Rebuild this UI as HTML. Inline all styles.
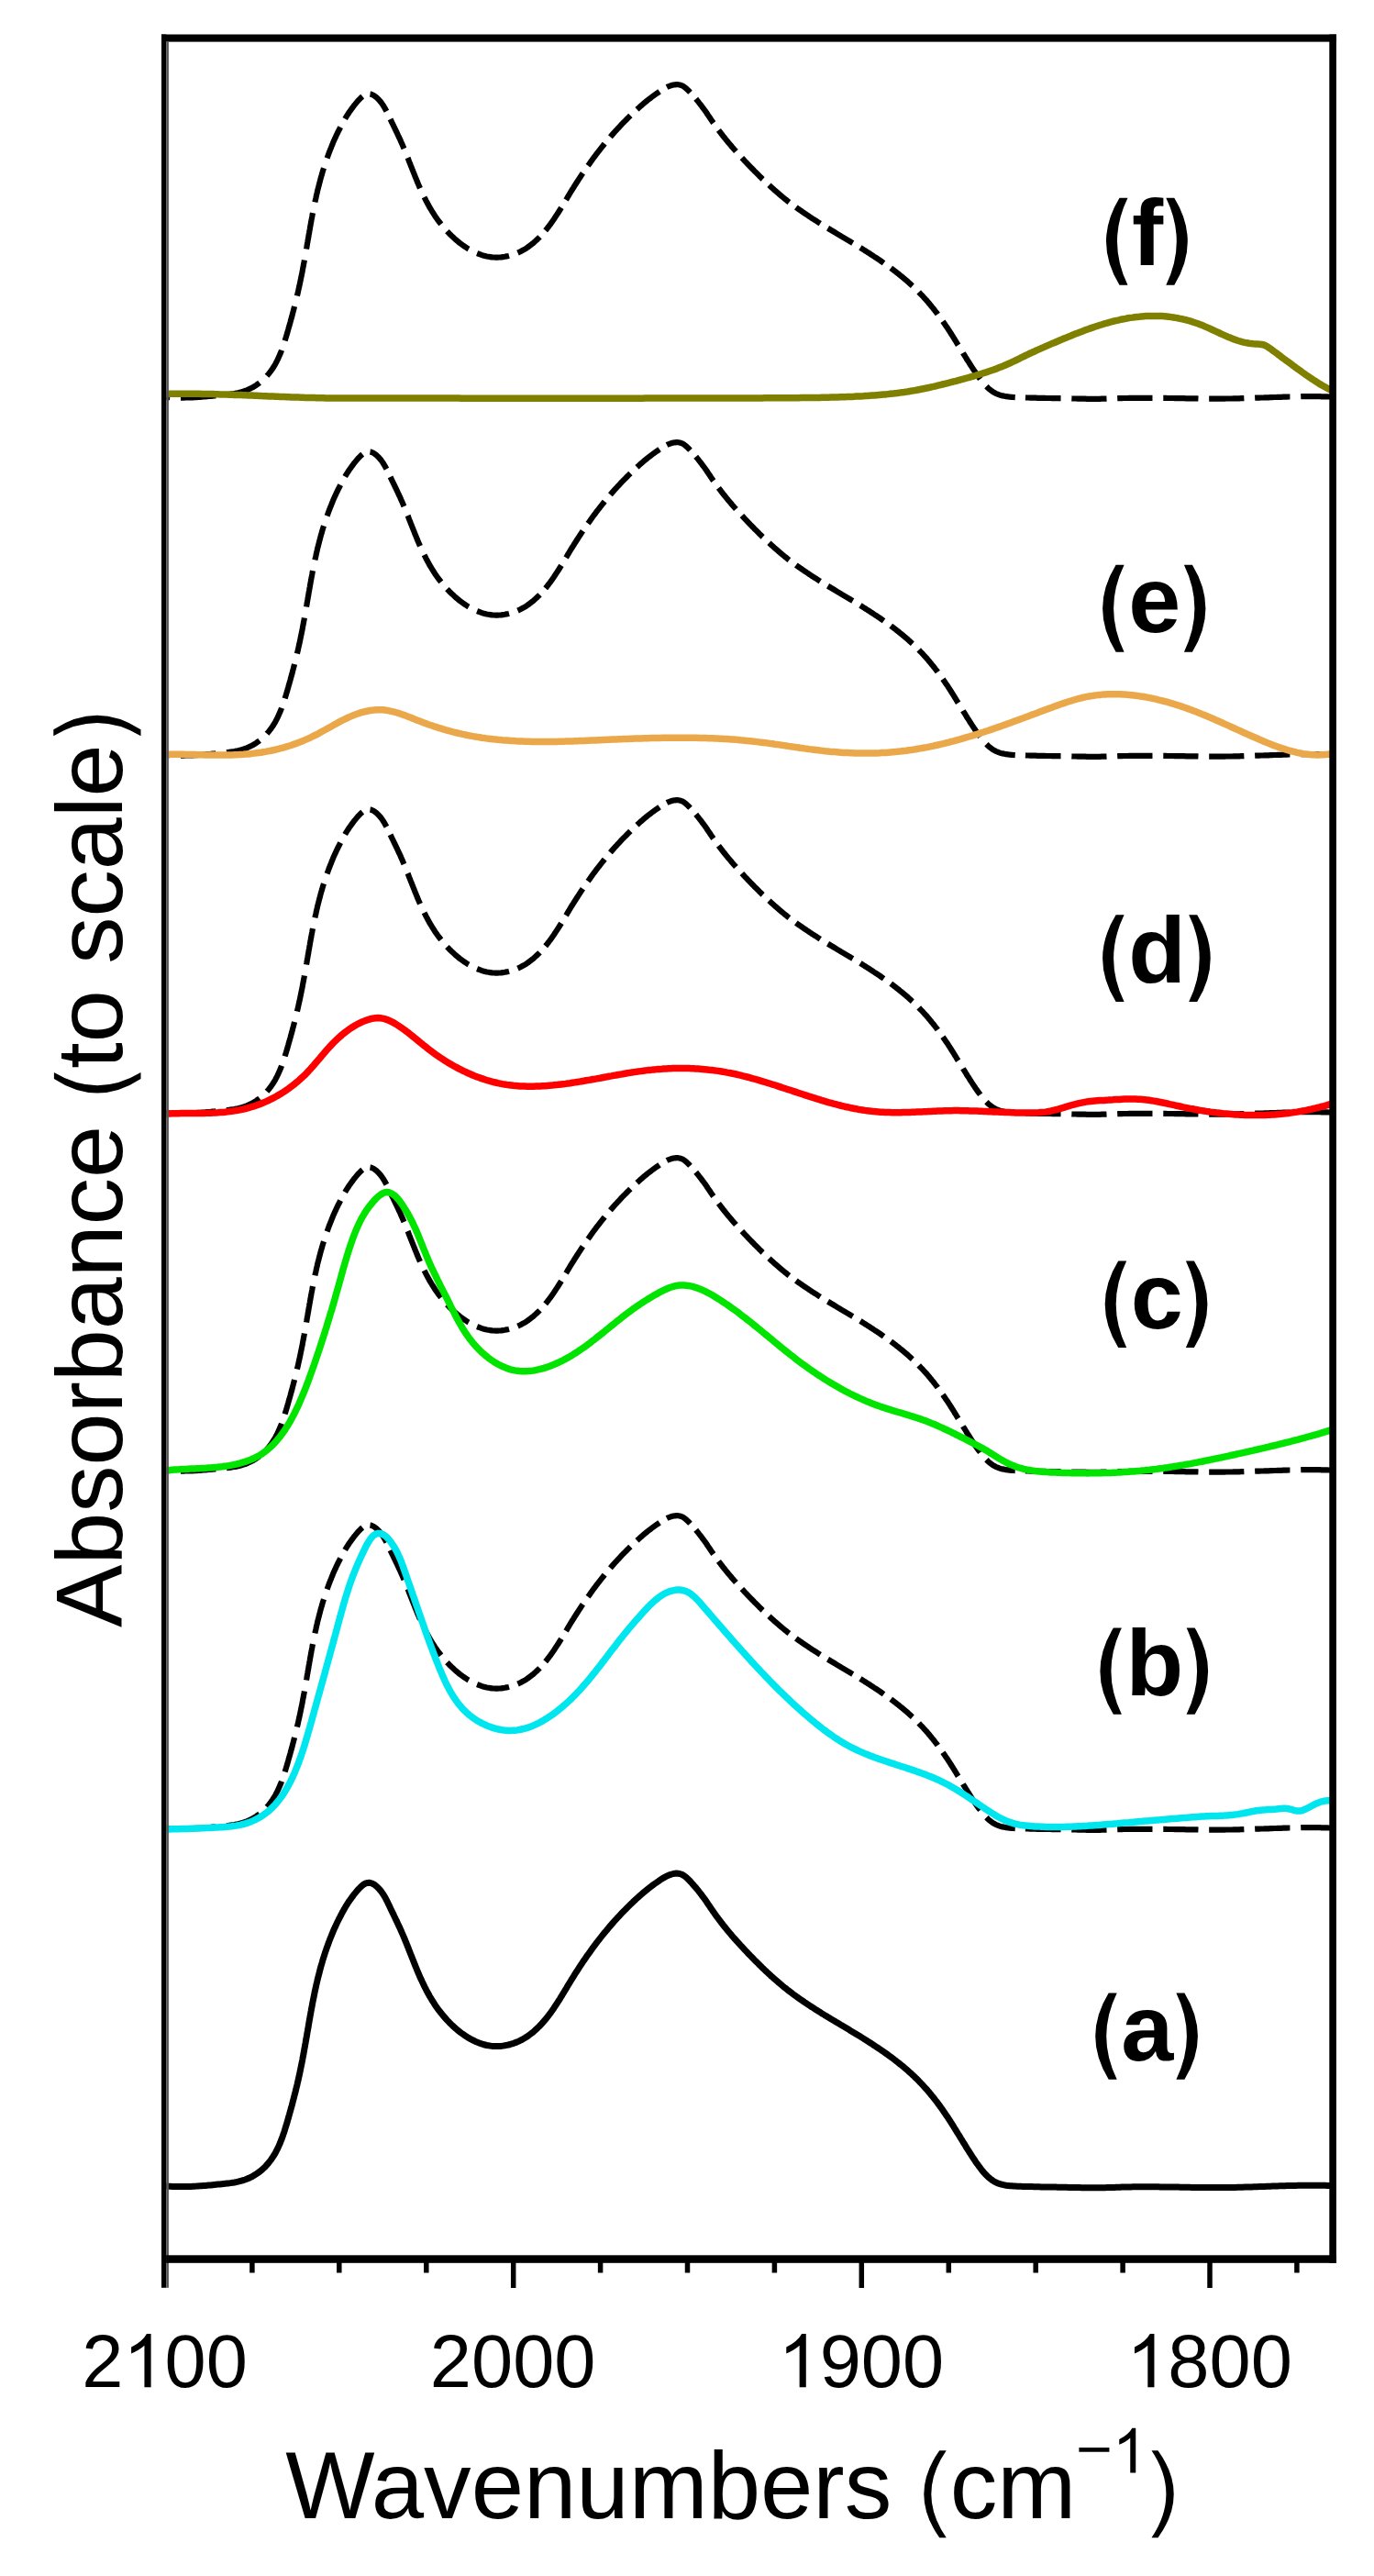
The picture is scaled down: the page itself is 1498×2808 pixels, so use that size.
<!DOCTYPE html>
<html><head><meta charset="utf-8"><style>
html,body{margin:0;padding:0;background:#fff;}
body{width:1498px;height:2808px;overflow:hidden;}
svg{display:block;}
text{font-family:"Liberation Sans",sans-serif;fill:#000;}
.tl{font-size:83px;}
.pl{font-size:102.6px;font-weight:bold;}
.ax{font-size:104px;}
</style></head><body>
<svg width="1498" height="2808" viewBox="0 0 1498 2808">
<rect width="1498" height="2808" fill="#fff"/>
<path d="M180.0,2382.9L181.9,2383.1 184.0,2383.2 186.0,2383.3 188.0,2383.4 190.1,2383.5 192.1,2383.5 194.1,2383.6 196.1,2383.6 198.2,2383.6 200.2,2383.6 202.1,2383.5 204.1,2383.5 206.1,2383.4 208.1,2383.4 210.1,2383.3 212.0,2383.2 214.0,2383.1 216.0,2382.9 218.0,2382.8 219.9,2382.7 221.9,2382.5 223.9,2382.4 225.8,2382.2 227.8,2382.0 229.8,2381.9 231.7,2381.7 233.7,2381.5 235.7,2381.3 237.7,2381.1 239.7,2380.9 241.7,2380.7 243.7,2380.5 245.7,2380.3 247.7,2380.1 249.6,2379.9 251.6,2379.6 253.6,2379.3 255.6,2379.0 257.6,2378.6 259.5,2378.2 261.4,2377.7 263.3,2377.2 265.2,2376.6 267.1,2376.0 269.0,2375.3 270.8,2374.5 272.6,2373.7 274.4,2372.8 276.1,2371.9 277.8,2370.8 279.5,2369.8 281.1,2368.6 282.7,2367.5 284.3,2366.2 285.8,2365.0 287.2,2363.6 288.7,2362.3 290.0,2360.9 291.3,2359.4 292.6,2358.0 293.8,2356.4 295.0,2354.9 296.1,2353.3 297.2,2351.7 298.3,2350.0 299.3,2348.4 300.3,2346.7 301.2,2344.9 302.1,2343.2 303.0,2341.4 303.8,2339.6 304.6,2337.8 305.4,2336.0 306.1,2334.1 306.9,2332.2 307.6,2330.3 308.3,2328.4 308.9,2326.5 309.6,2324.6 310.2,2322.7 310.8,2320.8 311.4,2318.8 312.0,2316.9 312.6,2314.9 313.2,2313.0 313.7,2311.0 314.3,2309.1 314.8,2307.1 315.4,2305.2 315.9,2303.3 316.5,2301.3 317.0,2299.4 317.5,2297.5 318.1,2295.5 318.6,2293.6 319.1,2291.6 319.6,2289.7 320.1,2287.8 320.6,2285.9 321.1,2283.9 321.6,2282.0 322.1,2280.1 322.6,2278.1 323.0,2276.2 323.5,2274.3 324.0,2272.3 324.4,2270.4 324.9,2268.5 325.3,2266.5 325.7,2264.6 326.2,2262.6 326.6,2260.7 327.0,2258.8 327.4,2256.8 327.8,2254.9 328.2,2252.9 328.6,2251.0 329.0,2249.0 329.4,2247.1 329.8,2245.1 330.1,2243.1 330.5,2241.2 330.9,2239.2 331.2,2237.3 331.6,2235.3 331.9,2233.3 332.3,2231.4 332.6,2229.4 333.0,2227.4 333.3,2225.5 333.7,2223.5 334.0,2221.5 334.4,2219.5 334.7,2217.6 335.0,2215.6 335.4,2213.6 335.7,2211.7 336.1,2209.7 336.4,2207.7 336.7,2205.7 337.1,2203.8 337.4,2201.8 337.8,2199.8 338.1,2197.8 338.5,2195.9 338.8,2193.9 339.2,2191.9 339.5,2190.0 339.9,2188.0 340.3,2186.0 340.6,2184.1 341.0,2182.1 341.4,2180.1 341.8,2178.2 342.2,2176.2 342.6,2174.2 343.0,2172.3 343.4,2170.3 343.8,2168.4 344.3,2166.4 344.7,2164.4 345.1,2162.5 345.6,2160.5 346.0,2158.6 346.5,2156.6 347.0,2154.7 347.5,2152.8 348.0,2150.8 348.5,2148.9 349.0,2146.9 349.5,2145.0 350.0,2143.1 350.6,2141.2 351.2,2139.2 351.7,2137.3 352.3,2135.4 352.9,2133.5 353.5,2131.6 354.1,2129.7 354.7,2127.8 355.4,2125.9 356.0,2124.0 356.7,2122.1 357.4,2120.2 358.1,2118.3 358.8,2116.4 359.5,2114.6 360.2,2112.7 361.0,2110.9 361.7,2109.0 362.5,2107.2 363.2,2105.3 364.0,2103.5 364.8,2101.7 365.7,2099.9 366.5,2098.1 367.3,2096.3 368.2,2094.5 369.1,2092.7 370.0,2091.0 370.9,2089.2 371.8,2087.5 372.7,2085.7 373.6,2084.0 374.6,2082.3 375.6,2080.5 376.6,2078.8 377.6,2077.1 378.7,2075.4 379.8,2073.7 380.9,2072.0 382.1,2070.4 383.3,2068.7 384.6,2067.0 385.8,2065.3 387.2,2063.6 388.6,2061.9 390.0,2060.2 391.5,2058.6 393.0,2057.1 394.5,2055.7 396.0,2054.5 397.6,2053.5 399.2,2052.8 400.7,2052.4 402.3,2052.3 403.8,2052.5 405.4,2053.0 406.9,2053.7 408.4,2054.6 409.8,2055.7 411.2,2056.9 412.5,2058.2 413.8,2059.6 415.1,2061.1 416.3,2062.8 417.5,2064.5 418.6,2066.2 419.7,2068.1 420.7,2069.9 421.7,2071.8 422.7,2073.8 423.6,2075.7 424.5,2077.6 425.4,2079.5 426.3,2081.4 427.2,2083.3 428.1,2085.1 429.0,2086.9 429.8,2088.7 430.7,2090.5 431.5,2092.3 432.4,2094.0 433.2,2095.8 434.0,2097.5 434.8,2099.3 435.7,2101.0 436.5,2102.8 437.2,2104.5 438.0,2106.3 438.8,2108.1 439.6,2109.9 440.3,2111.7 441.1,2113.5 441.9,2115.4 442.6,2117.2 443.4,2119.1 444.1,2121.0 444.9,2122.8 445.6,2124.7 446.3,2126.6 447.1,2128.5 447.8,2130.4 448.6,2132.2 449.3,2134.1 450.1,2136.0 450.8,2137.9 451.6,2139.8 452.3,2141.7 453.1,2143.6 453.9,2145.5 454.6,2147.3 455.4,2149.2 456.2,2151.1 457.0,2152.9 457.8,2154.8 458.6,2156.6 459.5,2158.4 460.3,2160.2 461.2,2162.0 462.0,2163.8 462.9,2165.6 463.8,2167.3 464.7,2169.1 465.6,2170.8 466.5,2172.5 467.5,2174.3 468.4,2176.0 469.4,2177.6 470.4,2179.3 471.4,2181.0 472.5,2182.6 473.5,2184.3 474.6,2185.9 475.7,2187.5 476.8,2189.1 478.0,2190.7 479.2,2192.2 480.4,2193.8 481.6,2195.3 482.9,2196.9 484.2,2198.4 485.5,2199.9 486.8,2201.4 488.2,2202.9 489.6,2204.3 491.0,2205.8 492.5,2207.2 494.0,2208.6 495.5,2210.0 497.0,2211.3 498.6,2212.7 500.2,2214.0 501.8,2215.3 503.5,2216.5 505.2,2217.7 506.9,2218.9 508.6,2220.0 510.3,2221.1 512.1,2222.1 513.9,2223.1 515.7,2224.0 517.5,2224.9 519.3,2225.8 521.2,2226.5 523.0,2227.2 524.9,2227.9 526.8,2228.5 528.7,2229.0 530.7,2229.5 532.6,2229.8 534.5,2230.1 536.5,2230.4 538.5,2230.5 540.4,2230.6 542.4,2230.6 544.4,2230.5 546.4,2230.4 548.4,2230.1 550.3,2229.8 552.3,2229.4 554.3,2229.0 556.2,2228.5 558.1,2227.9 560.0,2227.3 561.9,2226.6 563.8,2225.9 565.6,2225.1 567.4,2224.2 569.1,2223.3 570.9,2222.3 572.6,2221.3 574.2,2220.3 575.9,2219.1 577.4,2218.0 579.0,2216.8 580.6,2215.6 582.1,2214.3 583.5,2213.0 585.0,2211.7 586.4,2210.3 587.8,2209.0 589.2,2207.5 590.5,2206.1 591.8,2204.6 593.1,2203.1 594.4,2201.6 595.7,2200.1 596.9,2198.5 598.1,2197.0 599.3,2195.4 600.5,2193.8 601.6,2192.2 602.8,2190.5 603.9,2188.9 605.0,2187.2 606.1,2185.6 607.2,2183.9 608.3,2182.2 609.4,2180.5 610.5,2178.8 611.5,2177.1 612.6,2175.3 613.6,2173.6 614.7,2171.9 615.7,2170.1 616.8,2168.4 617.8,2166.7 618.8,2164.9 619.9,2163.2 620.9,2161.5 622.0,2159.7 623.0,2158.0 624.1,2156.3 625.2,2154.6 626.2,2152.9 627.3,2151.2 628.4,2149.5 629.5,2147.8 630.6,2146.1 631.7,2144.4 632.8,2142.7 633.9,2141.1 635.0,2139.4 636.1,2137.7 637.3,2136.1 638.4,2134.4 639.5,2132.8 640.7,2131.1 641.9,2129.5 643.0,2127.9 644.2,2126.2 645.4,2124.6 646.5,2123.0 647.7,2121.4 648.9,2119.8 650.1,2118.2 651.3,2116.6 652.5,2115.1 653.8,2113.5 655.0,2111.9 656.2,2110.4 657.5,2108.8 658.7,2107.3 660.0,2105.7 661.3,2104.2 662.5,2102.7 663.8,2101.1 665.1,2099.6 666.4,2098.1 667.7,2096.6 669.0,2095.1 670.3,2093.7 671.7,2092.2 673.0,2090.7 674.3,2089.3 675.7,2087.8 677.0,2086.4 678.4,2084.9 679.8,2083.5 681.2,2082.1 682.6,2080.7 684.0,2079.3 685.4,2077.9 686.8,2076.5 688.2,2075.1 689.7,2073.7 691.1,2072.3 692.6,2071.0 694.0,2069.6 695.5,2068.3 697.0,2067.0 698.5,2065.6 700.0,2064.3 701.5,2063.0 703.1,2061.7 704.6,2060.5 706.2,2059.2 707.8,2057.9 709.4,2056.7 711.1,2055.4 712.7,2054.2 714.4,2053.0 716.1,2051.8 717.9,2050.6 719.6,2049.4 721.4,2048.2 723.2,2047.1 725.0,2046.1 726.8,2045.2 728.6,2044.3 730.5,2043.6 732.3,2043.0 734.1,2042.5 735.8,2042.3 737.6,2042.1 739.3,2042.2 741.0,2042.5 742.7,2043.0 744.3,2043.7 745.9,2044.7 747.4,2045.8 748.9,2047.1 750.3,2048.5 751.8,2050.0 753.2,2051.5 754.5,2053.0 755.9,2054.6 757.2,2056.1 758.5,2057.5 759.7,2059.0 761.0,2060.5 762.2,2062.1 763.4,2063.6 764.6,2065.2 765.8,2066.8 767.0,2068.4 768.2,2070.0 769.3,2071.6 770.5,2073.3 771.6,2075.0 772.8,2076.7 773.9,2078.3 775.0,2080.0 776.2,2081.7 777.3,2083.4 778.5,2085.0 779.7,2086.7 780.8,2088.3 782.0,2089.9 783.2,2091.5 784.4,2093.1 785.6,2094.7 786.8,2096.3 788.0,2097.8 789.2,2099.4 790.5,2100.9 791.7,2102.5 793.0,2104.0 794.2,2105.5 795.5,2107.0 796.8,2108.5 798.0,2110.0 799.3,2111.5 800.6,2113.0 801.9,2114.4 803.2,2115.9 804.6,2117.4 805.9,2118.8 807.2,2120.3 808.5,2121.7 809.9,2123.2 811.2,2124.6 812.6,2126.1 814.0,2127.5 815.3,2129.0 816.7,2130.4 818.1,2131.9 819.5,2133.3 820.9,2134.7 822.3,2136.2 823.7,2137.6 825.2,2139.0 826.6,2140.4 828.0,2141.9 829.5,2143.3 830.9,2144.7 832.4,2146.1 833.8,2147.5 835.3,2148.9 836.8,2150.3 838.3,2151.6 839.8,2153.0 841.2,2154.4 842.8,2155.7 844.3,2157.1 845.8,2158.4 847.3,2159.7 848.8,2161.0 850.4,2162.3 851.9,2163.6 853.4,2164.9 855.0,2166.2 856.6,2167.4 858.1,2168.7 859.7,2169.9 861.3,2171.1 862.9,2172.3 864.4,2173.5 866.0,2174.7 867.6,2175.8 869.2,2177.0 870.8,2178.1 872.5,2179.3 874.1,2180.4 875.7,2181.5 877.3,2182.6 879.0,2183.7 880.6,2184.8 882.2,2185.9 883.9,2187.0 885.5,2188.1 887.2,2189.1 888.8,2190.2 890.5,2191.2 892.1,2192.3 893.8,2193.3 895.5,2194.4 897.2,2195.4 898.8,2196.4 900.5,2197.4 902.2,2198.5 903.9,2199.5 905.5,2200.5 907.2,2201.5 908.9,2202.5 910.6,2203.5 912.3,2204.6 914.0,2205.6 915.7,2206.6 917.3,2207.6 919.0,2208.6 920.7,2209.6 922.4,2210.6 924.1,2211.6 925.8,2212.6 927.5,2213.7 929.2,2214.7 930.9,2215.7 932.6,2216.7 934.3,2217.8 936.0,2218.8 937.7,2219.8 939.4,2220.9 941.0,2221.9 942.7,2223.0 944.4,2224.0 946.1,2225.1 947.8,2226.2 949.5,2227.3 951.2,2228.4 952.8,2229.5 954.5,2230.6 956.2,2231.7 957.9,2232.8 959.5,2233.9 961.2,2235.1 962.8,2236.2 964.5,2237.4 966.1,2238.5 967.8,2239.7 969.4,2240.9 971.1,2242.1 972.7,2243.3 974.3,2244.5 975.9,2245.7 977.5,2247.0 979.1,2248.2 980.7,2249.5 982.2,2250.8 983.8,2252.0 985.4,2253.3 986.9,2254.6 988.4,2255.9 989.9,2257.2 991.4,2258.6 992.9,2259.9 994.4,2261.3 995.9,2262.6 997.3,2264.0 998.7,2265.4 1000.2,2266.8 1001.6,2268.2 1002.9,2269.7 1004.3,2271.1 1005.7,2272.5 1007.0,2274.0 1008.3,2275.5 1009.7,2276.9 1011.0,2278.4 1012.2,2279.9 1013.5,2281.4 1014.8,2283.0 1016.0,2284.5 1017.3,2286.0 1018.5,2287.5 1019.7,2289.1 1020.9,2290.6 1022.1,2292.2 1023.2,2293.8 1024.4,2295.3 1025.5,2296.9 1026.7,2298.5 1027.8,2300.1 1028.9,2301.7 1030.0,2303.3 1031.1,2304.9 1032.2,2306.5 1033.3,2308.1 1034.3,2309.7 1035.4,2311.3 1036.4,2312.9 1037.4,2314.6 1038.5,2316.2 1039.5,2317.8 1040.5,2319.5 1041.5,2321.1 1042.5,2322.7 1043.5,2324.4 1044.5,2326.0 1045.6,2327.7 1046.6,2329.3 1047.6,2331.0 1048.6,2332.6 1049.6,2334.3 1050.6,2336.0 1051.7,2337.6 1052.7,2339.3 1053.7,2341.0 1054.8,2342.7 1055.9,2344.3 1056.9,2346.0 1058.0,2347.7 1059.1,2349.4 1060.2,2351.1 1061.3,2352.8 1062.5,2354.5 1063.6,2356.2 1064.8,2357.9 1066.0,2359.6 1067.2,2361.3 1068.5,2362.9 1069.7,2364.6 1071.0,2366.2 1072.3,2367.8 1073.7,2369.3 1075.1,2370.8 1076.5,2372.2 1077.9,2373.6 1079.4,2374.8 1081.0,2376.0 1082.6,2377.1 1084.2,2378.1 1085.9,2379.0 1087.6,2379.7 1089.4,2380.4 1091.3,2381.0 1093.1,2381.4 1095.0,2381.8 1097.0,2382.2 1098.9,2382.4 1100.9,2382.7 1102.9,2382.8 1104.9,2383.0 1106.9,2383.1 1108.9,2383.2 1111.0,2383.2 1113.0,2383.3 1115.0,2383.4 1117.0,2383.4 1119.0,2383.5 1121.1,2383.5 1123.1,2383.6 1125.1,2383.6 1127.1,2383.7 1129.1,2383.7 1131.1,2383.8 1133.1,2383.8 1135.1,2383.9 1137.1,2383.9 1139.1,2383.9 1141.1,2384.0 1143.1,2384.0 1145.1,2384.0 1147.1,2384.1 1149.1,2384.1 1151.1,2384.1 1153.1,2384.2 1155.1,2384.2 1157.1,2384.2 1159.1,2384.3 1161.0,2384.3 1163.0,2384.3 1165.0,2384.4 1167.0,2384.4 1169.0,2384.5 1171.0,2384.5 1173.0,2384.5 1175.0,2384.6 1177.0,2384.6 1179.0,2384.7 1181.0,2384.7 1183.0,2384.7 1185.0,2384.8 1187.0,2384.8 1189.0,2384.8 1191.0,2384.8 1193.0,2384.8 1195.0,2384.8 1197.0,2384.8 1199.0,2384.8 1201.0,2384.7 1203.0,2384.7 1205.0,2384.7 1207.0,2384.6 1209.0,2384.5 1211.0,2384.5 1213.0,2384.4 1215.0,2384.4 1217.0,2384.3 1219.0,2384.2 1221.0,2384.2 1223.0,2384.1 1225.0,2384.0 1227.0,2384.0 1229.0,2384.0 1231.0,2383.9 1233.0,2383.9 1235.0,2383.8 1237.0,2383.8 1239.0,2383.8 1241.0,2383.8 1243.0,2383.8 1245.0,2383.8 1247.0,2383.8 1249.0,2383.8 1251.0,2383.8 1253.0,2383.8 1255.0,2383.8 1257.0,2383.8 1259.0,2383.8 1261.0,2383.8 1263.0,2383.8 1265.0,2383.9 1267.0,2383.9 1269.0,2383.9 1271.0,2383.9 1273.0,2384.0 1275.0,2384.0 1277.0,2384.0 1279.0,2384.0 1281.0,2384.1 1283.0,2384.1 1285.0,2384.1 1287.0,2384.2 1289.0,2384.2 1291.0,2384.2 1293.0,2384.3 1295.0,2384.3 1297.0,2384.3 1299.0,2384.4 1301.0,2384.4 1303.0,2384.4 1305.0,2384.4 1307.0,2384.5 1309.0,2384.5 1311.0,2384.5 1313.0,2384.5 1315.0,2384.6 1317.0,2384.6 1319.0,2384.6 1321.0,2384.6 1323.0,2384.6 1325.0,2384.6 1327.0,2384.6 1329.0,2384.6 1331.0,2384.6 1333.0,2384.6 1335.0,2384.6 1337.0,2384.5 1339.0,2384.5 1341.0,2384.5 1343.0,2384.5 1345.0,2384.4 1347.0,2384.4 1349.0,2384.3 1351.0,2384.3 1353.0,2384.2 1355.0,2384.2 1357.0,2384.1 1359.0,2384.1 1361.0,2384.0 1363.0,2383.9 1365.0,2383.9 1367.0,2383.8 1369.0,2383.7 1371.0,2383.7 1373.0,2383.6 1375.0,2383.5 1377.0,2383.5 1379.0,2383.4 1381.0,2383.3 1383.0,2383.3 1385.0,2383.2 1387.0,2383.1 1389.0,2383.0 1391.0,2383.0 1393.0,2382.9 1395.0,2382.8 1397.0,2382.8 1399.0,2382.7 1401.0,2382.7 1403.0,2382.6 1405.0,2382.5 1407.0,2382.5 1409.0,2382.4 1411.0,2382.4 1413.0,2382.4 1415.0,2382.3 1417.0,2382.3 1419.0,2382.2 1421.0,2382.2 1423.0,2382.2 1425.0,2382.2 1427.0,2382.2 1429.0,2382.2 1431.0,2382.2 1433.0,2382.2 1435.0,2382.2 1437.0,2382.2 1439.0,2382.2 1441.0,2382.3 1443.0,2382.3 1445.0,2382.3 1447.0,2382.4 1449.0,2382.5 1451.0,2382.5 1453.0,2382.6" transform="translate(0,-390.0)" fill="none" stroke="#000" stroke-width="6.2" stroke-dasharray="5.2 11.8 38.4 11.8 38.8 11.0 32.4 11.0 38.8 12.0 39.7 12.2 40.0 12.0 38.3 11.5 36.8 10.4 31.1 9.0 26.7 9.6 35.5 10.8 35.7 10.8 34.7 10.1 30.7 10.2 35.7 10.0 29.8 9.3 30.4 9.9 34.4 9.9 30.1 9.6 32.1 9.7 31.4 9.3 28.9 9.4 32.5 9.6 29.9 9.6 32.6 9.4 28.8 9.3 31.8 9.7 31.7 9.6 30.6 9.4 30.7 9.6 31.8 9.6 30.8 10.0 34.1 10.5 34.5 11.2 38.6 11.8 38.2 11.7 38.3 11.8 38.2 11.7 38.2 11.8 38.3 11.8 39.1 0.0" stroke-linejoin="round"/>
<path d="M180.0,2382.9L181.9,2383.1 184.0,2383.2 186.0,2383.3 188.0,2383.4 190.1,2383.5 192.1,2383.5 194.1,2383.6 196.1,2383.6 198.2,2383.6 200.2,2383.6 202.1,2383.5 204.1,2383.5 206.1,2383.4 208.1,2383.4 210.1,2383.3 212.0,2383.2 214.0,2383.1 216.0,2382.9 218.0,2382.8 219.9,2382.7 221.9,2382.5 223.9,2382.4 225.8,2382.2 227.8,2382.0 229.8,2381.9 231.7,2381.7 233.7,2381.5 235.7,2381.3 237.7,2381.1 239.7,2380.9 241.7,2380.7 243.7,2380.5 245.7,2380.3 247.7,2380.1 249.6,2379.9 251.6,2379.6 253.6,2379.3 255.6,2379.0 257.6,2378.6 259.5,2378.2 261.4,2377.7 263.3,2377.2 265.2,2376.6 267.1,2376.0 269.0,2375.3 270.8,2374.5 272.6,2373.7 274.4,2372.8 276.1,2371.9 277.8,2370.8 279.5,2369.8 281.1,2368.6 282.7,2367.5 284.3,2366.2 285.8,2365.0 287.2,2363.6 288.7,2362.3 290.0,2360.9 291.3,2359.4 292.6,2358.0 293.8,2356.4 295.0,2354.9 296.1,2353.3 297.2,2351.7 298.3,2350.0 299.3,2348.4 300.3,2346.7 301.2,2344.9 302.1,2343.2 303.0,2341.4 303.8,2339.6 304.6,2337.8 305.4,2336.0 306.1,2334.1 306.9,2332.2 307.6,2330.3 308.3,2328.4 308.9,2326.5 309.6,2324.6 310.2,2322.7 310.8,2320.8 311.4,2318.8 312.0,2316.9 312.6,2314.9 313.2,2313.0 313.7,2311.0 314.3,2309.1 314.8,2307.1 315.4,2305.2 315.9,2303.3 316.5,2301.3 317.0,2299.4 317.5,2297.5 318.1,2295.5 318.6,2293.6 319.1,2291.6 319.6,2289.7 320.1,2287.8 320.6,2285.9 321.1,2283.9 321.6,2282.0 322.1,2280.1 322.6,2278.1 323.0,2276.2 323.5,2274.3 324.0,2272.3 324.4,2270.4 324.9,2268.5 325.3,2266.5 325.7,2264.6 326.2,2262.6 326.6,2260.7 327.0,2258.8 327.4,2256.8 327.8,2254.9 328.2,2252.9 328.6,2251.0 329.0,2249.0 329.4,2247.1 329.8,2245.1 330.1,2243.1 330.5,2241.2 330.9,2239.2 331.2,2237.3 331.6,2235.3 331.9,2233.3 332.3,2231.4 332.6,2229.4 333.0,2227.4 333.3,2225.5 333.7,2223.5 334.0,2221.5 334.4,2219.5 334.7,2217.6 335.0,2215.6 335.4,2213.6 335.7,2211.7 336.1,2209.7 336.4,2207.7 336.7,2205.7 337.1,2203.8 337.4,2201.8 337.8,2199.8 338.1,2197.8 338.5,2195.9 338.8,2193.9 339.2,2191.9 339.5,2190.0 339.9,2188.0 340.3,2186.0 340.6,2184.1 341.0,2182.1 341.4,2180.1 341.8,2178.2 342.2,2176.2 342.6,2174.2 343.0,2172.3 343.4,2170.3 343.8,2168.4 344.3,2166.4 344.7,2164.4 345.1,2162.5 345.6,2160.5 346.0,2158.6 346.5,2156.6 347.0,2154.7 347.5,2152.8 348.0,2150.8 348.5,2148.9 349.0,2146.9 349.5,2145.0 350.0,2143.1 350.6,2141.2 351.2,2139.2 351.7,2137.3 352.3,2135.4 352.9,2133.5 353.5,2131.6 354.1,2129.7 354.7,2127.8 355.4,2125.9 356.0,2124.0 356.7,2122.1 357.4,2120.2 358.1,2118.3 358.8,2116.4 359.5,2114.6 360.2,2112.7 361.0,2110.9 361.7,2109.0 362.5,2107.2 363.2,2105.3 364.0,2103.5 364.8,2101.7 365.7,2099.9 366.5,2098.1 367.3,2096.3 368.2,2094.5 369.1,2092.7 370.0,2091.0 370.9,2089.2 371.8,2087.5 372.7,2085.7 373.6,2084.0 374.6,2082.3 375.6,2080.5 376.6,2078.8 377.6,2077.1 378.7,2075.4 379.8,2073.7 380.9,2072.0 382.1,2070.4 383.3,2068.7 384.6,2067.0 385.8,2065.3 387.2,2063.6 388.6,2061.9 390.0,2060.2 391.5,2058.6 393.0,2057.1 394.5,2055.7 396.0,2054.5 397.6,2053.5 399.2,2052.8 400.7,2052.4 402.3,2052.3 403.8,2052.5 405.4,2053.0 406.9,2053.7 408.4,2054.6 409.8,2055.7 411.2,2056.9 412.5,2058.2 413.8,2059.6 415.1,2061.1 416.3,2062.8 417.5,2064.5 418.6,2066.2 419.7,2068.1 420.7,2069.9 421.7,2071.8 422.7,2073.8 423.6,2075.7 424.5,2077.6 425.4,2079.5 426.3,2081.4 427.2,2083.3 428.1,2085.1 429.0,2086.9 429.8,2088.7 430.7,2090.5 431.5,2092.3 432.4,2094.0 433.2,2095.8 434.0,2097.5 434.8,2099.3 435.7,2101.0 436.5,2102.8 437.2,2104.5 438.0,2106.3 438.8,2108.1 439.6,2109.9 440.3,2111.7 441.1,2113.5 441.9,2115.4 442.6,2117.2 443.4,2119.1 444.1,2121.0 444.9,2122.8 445.6,2124.7 446.3,2126.6 447.1,2128.5 447.8,2130.4 448.6,2132.2 449.3,2134.1 450.1,2136.0 450.8,2137.9 451.6,2139.8 452.3,2141.7 453.1,2143.6 453.9,2145.5 454.6,2147.3 455.4,2149.2 456.2,2151.1 457.0,2152.9 457.8,2154.8 458.6,2156.6 459.5,2158.4 460.3,2160.2 461.2,2162.0 462.0,2163.8 462.9,2165.6 463.8,2167.3 464.7,2169.1 465.6,2170.8 466.5,2172.5 467.5,2174.3 468.4,2176.0 469.4,2177.6 470.4,2179.3 471.4,2181.0 472.5,2182.6 473.5,2184.3 474.6,2185.9 475.7,2187.5 476.8,2189.1 478.0,2190.7 479.2,2192.2 480.4,2193.8 481.6,2195.3 482.9,2196.9 484.2,2198.4 485.5,2199.9 486.8,2201.4 488.2,2202.9 489.6,2204.3 491.0,2205.8 492.5,2207.2 494.0,2208.6 495.5,2210.0 497.0,2211.3 498.6,2212.7 500.2,2214.0 501.8,2215.3 503.5,2216.5 505.2,2217.7 506.9,2218.9 508.6,2220.0 510.3,2221.1 512.1,2222.1 513.9,2223.1 515.7,2224.0 517.5,2224.9 519.3,2225.8 521.2,2226.5 523.0,2227.2 524.9,2227.9 526.8,2228.5 528.7,2229.0 530.7,2229.5 532.6,2229.8 534.5,2230.1 536.5,2230.4 538.5,2230.5 540.4,2230.6 542.4,2230.6 544.4,2230.5 546.4,2230.4 548.4,2230.1 550.3,2229.8 552.3,2229.4 554.3,2229.0 556.2,2228.5 558.1,2227.9 560.0,2227.3 561.9,2226.6 563.8,2225.9 565.6,2225.1 567.4,2224.2 569.1,2223.3 570.9,2222.3 572.6,2221.3 574.2,2220.3 575.9,2219.1 577.4,2218.0 579.0,2216.8 580.6,2215.6 582.1,2214.3 583.5,2213.0 585.0,2211.7 586.4,2210.3 587.8,2209.0 589.2,2207.5 590.5,2206.1 591.8,2204.6 593.1,2203.1 594.4,2201.6 595.7,2200.1 596.9,2198.5 598.1,2197.0 599.3,2195.4 600.5,2193.8 601.6,2192.2 602.8,2190.5 603.9,2188.9 605.0,2187.2 606.1,2185.6 607.2,2183.9 608.3,2182.2 609.4,2180.5 610.5,2178.8 611.5,2177.1 612.6,2175.3 613.6,2173.6 614.7,2171.9 615.7,2170.1 616.8,2168.4 617.8,2166.7 618.8,2164.9 619.9,2163.2 620.9,2161.5 622.0,2159.7 623.0,2158.0 624.1,2156.3 625.2,2154.6 626.2,2152.9 627.3,2151.2 628.4,2149.5 629.5,2147.8 630.6,2146.1 631.7,2144.4 632.8,2142.7 633.9,2141.1 635.0,2139.4 636.1,2137.7 637.3,2136.1 638.4,2134.4 639.5,2132.8 640.7,2131.1 641.9,2129.5 643.0,2127.9 644.2,2126.2 645.4,2124.6 646.5,2123.0 647.7,2121.4 648.9,2119.8 650.1,2118.2 651.3,2116.6 652.5,2115.1 653.8,2113.5 655.0,2111.9 656.2,2110.4 657.5,2108.8 658.7,2107.3 660.0,2105.7 661.3,2104.2 662.5,2102.7 663.8,2101.1 665.1,2099.6 666.4,2098.1 667.7,2096.6 669.0,2095.1 670.3,2093.7 671.7,2092.2 673.0,2090.7 674.3,2089.3 675.7,2087.8 677.0,2086.4 678.4,2084.9 679.8,2083.5 681.2,2082.1 682.6,2080.7 684.0,2079.3 685.4,2077.9 686.8,2076.5 688.2,2075.1 689.7,2073.7 691.1,2072.3 692.6,2071.0 694.0,2069.6 695.5,2068.3 697.0,2067.0 698.5,2065.6 700.0,2064.3 701.5,2063.0 703.1,2061.7 704.6,2060.5 706.2,2059.2 707.8,2057.9 709.4,2056.7 711.1,2055.4 712.7,2054.2 714.4,2053.0 716.1,2051.8 717.9,2050.6 719.6,2049.4 721.4,2048.2 723.2,2047.1 725.0,2046.1 726.8,2045.2 728.6,2044.3 730.5,2043.6 732.3,2043.0 734.1,2042.5 735.8,2042.3 737.6,2042.1 739.3,2042.2 741.0,2042.5 742.7,2043.0 744.3,2043.7 745.9,2044.7 747.4,2045.8 748.9,2047.1 750.3,2048.5 751.8,2050.0 753.2,2051.5 754.5,2053.0 755.9,2054.6 757.2,2056.1 758.5,2057.5 759.7,2059.0 761.0,2060.5 762.2,2062.1 763.4,2063.6 764.6,2065.2 765.8,2066.8 767.0,2068.4 768.2,2070.0 769.3,2071.6 770.5,2073.3 771.6,2075.0 772.8,2076.7 773.9,2078.3 775.0,2080.0 776.2,2081.7 777.3,2083.4 778.5,2085.0 779.7,2086.7 780.8,2088.3 782.0,2089.9 783.2,2091.5 784.4,2093.1 785.6,2094.7 786.8,2096.3 788.0,2097.8 789.2,2099.4 790.5,2100.9 791.7,2102.5 793.0,2104.0 794.2,2105.5 795.5,2107.0 796.8,2108.5 798.0,2110.0 799.3,2111.5 800.6,2113.0 801.9,2114.4 803.2,2115.9 804.6,2117.4 805.9,2118.8 807.2,2120.3 808.5,2121.7 809.9,2123.2 811.2,2124.6 812.6,2126.1 814.0,2127.5 815.3,2129.0 816.7,2130.4 818.1,2131.9 819.5,2133.3 820.9,2134.7 822.3,2136.2 823.7,2137.6 825.2,2139.0 826.6,2140.4 828.0,2141.9 829.5,2143.3 830.9,2144.7 832.4,2146.1 833.8,2147.5 835.3,2148.9 836.8,2150.3 838.3,2151.6 839.8,2153.0 841.2,2154.4 842.8,2155.7 844.3,2157.1 845.8,2158.4 847.3,2159.7 848.8,2161.0 850.4,2162.3 851.9,2163.6 853.4,2164.9 855.0,2166.2 856.6,2167.4 858.1,2168.7 859.7,2169.9 861.3,2171.1 862.9,2172.3 864.4,2173.5 866.0,2174.7 867.6,2175.8 869.2,2177.0 870.8,2178.1 872.5,2179.3 874.1,2180.4 875.7,2181.5 877.3,2182.6 879.0,2183.7 880.6,2184.8 882.2,2185.9 883.9,2187.0 885.5,2188.1 887.2,2189.1 888.8,2190.2 890.5,2191.2 892.1,2192.3 893.8,2193.3 895.5,2194.4 897.2,2195.4 898.8,2196.4 900.5,2197.4 902.2,2198.5 903.9,2199.5 905.5,2200.5 907.2,2201.5 908.9,2202.5 910.6,2203.5 912.3,2204.6 914.0,2205.6 915.7,2206.6 917.3,2207.6 919.0,2208.6 920.7,2209.6 922.4,2210.6 924.1,2211.6 925.8,2212.6 927.5,2213.7 929.2,2214.7 930.9,2215.7 932.6,2216.7 934.3,2217.8 936.0,2218.8 937.7,2219.8 939.4,2220.9 941.0,2221.9 942.7,2223.0 944.4,2224.0 946.1,2225.1 947.8,2226.2 949.5,2227.3 951.2,2228.4 952.8,2229.5 954.5,2230.6 956.2,2231.7 957.9,2232.8 959.5,2233.9 961.2,2235.1 962.8,2236.2 964.5,2237.4 966.1,2238.5 967.8,2239.7 969.4,2240.9 971.1,2242.1 972.7,2243.3 974.3,2244.5 975.9,2245.7 977.5,2247.0 979.1,2248.2 980.7,2249.5 982.2,2250.8 983.8,2252.0 985.4,2253.3 986.9,2254.6 988.4,2255.9 989.9,2257.2 991.4,2258.6 992.9,2259.9 994.4,2261.3 995.9,2262.6 997.3,2264.0 998.7,2265.4 1000.2,2266.8 1001.6,2268.2 1002.9,2269.7 1004.3,2271.1 1005.7,2272.5 1007.0,2274.0 1008.3,2275.5 1009.7,2276.9 1011.0,2278.4 1012.2,2279.9 1013.5,2281.4 1014.8,2283.0 1016.0,2284.5 1017.3,2286.0 1018.5,2287.5 1019.7,2289.1 1020.9,2290.6 1022.1,2292.2 1023.2,2293.8 1024.4,2295.3 1025.5,2296.9 1026.7,2298.5 1027.8,2300.1 1028.9,2301.7 1030.0,2303.3 1031.1,2304.9 1032.2,2306.5 1033.3,2308.1 1034.3,2309.7 1035.4,2311.3 1036.4,2312.9 1037.4,2314.6 1038.5,2316.2 1039.5,2317.8 1040.5,2319.5 1041.5,2321.1 1042.5,2322.7 1043.5,2324.4 1044.5,2326.0 1045.6,2327.7 1046.6,2329.3 1047.6,2331.0 1048.6,2332.6 1049.6,2334.3 1050.6,2336.0 1051.7,2337.6 1052.7,2339.3 1053.7,2341.0 1054.8,2342.7 1055.9,2344.3 1056.9,2346.0 1058.0,2347.7 1059.1,2349.4 1060.2,2351.1 1061.3,2352.8 1062.5,2354.5 1063.6,2356.2 1064.8,2357.9 1066.0,2359.6 1067.2,2361.3 1068.5,2362.9 1069.7,2364.6 1071.0,2366.2 1072.3,2367.8 1073.7,2369.3 1075.1,2370.8 1076.5,2372.2 1077.9,2373.6 1079.4,2374.8 1081.0,2376.0 1082.6,2377.1 1084.2,2378.1 1085.9,2379.0 1087.6,2379.7 1089.4,2380.4 1091.3,2381.0 1093.1,2381.4 1095.0,2381.8 1097.0,2382.2 1098.9,2382.4 1100.9,2382.7 1102.9,2382.8 1104.9,2383.0 1106.9,2383.1 1108.9,2383.2 1111.0,2383.2 1113.0,2383.3 1115.0,2383.4 1117.0,2383.4 1119.0,2383.5 1121.1,2383.5 1123.1,2383.6 1125.1,2383.6 1127.1,2383.7 1129.1,2383.7 1131.1,2383.8 1133.1,2383.8 1135.1,2383.9 1137.1,2383.9 1139.1,2383.9 1141.1,2384.0 1143.1,2384.0 1145.1,2384.0 1147.1,2384.1 1149.1,2384.1 1151.1,2384.1 1153.1,2384.2 1155.1,2384.2 1157.1,2384.2 1159.1,2384.3 1161.0,2384.3 1163.0,2384.3 1165.0,2384.4 1167.0,2384.4 1169.0,2384.5 1171.0,2384.5 1173.0,2384.5 1175.0,2384.6 1177.0,2384.6 1179.0,2384.7 1181.0,2384.7 1183.0,2384.7 1185.0,2384.8 1187.0,2384.8 1189.0,2384.8 1191.0,2384.8 1193.0,2384.8 1195.0,2384.8 1197.0,2384.8 1199.0,2384.8 1201.0,2384.7 1203.0,2384.7 1205.0,2384.7 1207.0,2384.6 1209.0,2384.5 1211.0,2384.5 1213.0,2384.4 1215.0,2384.4 1217.0,2384.3 1219.0,2384.2 1221.0,2384.2 1223.0,2384.1 1225.0,2384.0 1227.0,2384.0 1229.0,2384.0 1231.0,2383.9 1233.0,2383.9 1235.0,2383.8 1237.0,2383.8 1239.0,2383.8 1241.0,2383.8 1243.0,2383.8 1245.0,2383.8 1247.0,2383.8 1249.0,2383.8 1251.0,2383.8 1253.0,2383.8 1255.0,2383.8 1257.0,2383.8 1259.0,2383.8 1261.0,2383.8 1263.0,2383.8 1265.0,2383.9 1267.0,2383.9 1269.0,2383.9 1271.0,2383.9 1273.0,2384.0 1275.0,2384.0 1277.0,2384.0 1279.0,2384.0 1281.0,2384.1 1283.0,2384.1 1285.0,2384.1 1287.0,2384.2 1289.0,2384.2 1291.0,2384.2 1293.0,2384.3 1295.0,2384.3 1297.0,2384.3 1299.0,2384.4 1301.0,2384.4 1303.0,2384.4 1305.0,2384.4 1307.0,2384.5 1309.0,2384.5 1311.0,2384.5 1313.0,2384.5 1315.0,2384.6 1317.0,2384.6 1319.0,2384.6 1321.0,2384.6 1323.0,2384.6 1325.0,2384.6 1327.0,2384.6 1329.0,2384.6 1331.0,2384.6 1333.0,2384.6 1335.0,2384.6 1337.0,2384.5 1339.0,2384.5 1341.0,2384.5 1343.0,2384.5 1345.0,2384.4 1347.0,2384.4 1349.0,2384.3 1351.0,2384.3 1353.0,2384.2 1355.0,2384.2 1357.0,2384.1 1359.0,2384.1 1361.0,2384.0 1363.0,2383.9 1365.0,2383.9 1367.0,2383.8 1369.0,2383.7 1371.0,2383.7 1373.0,2383.6 1375.0,2383.5 1377.0,2383.5 1379.0,2383.4 1381.0,2383.3 1383.0,2383.3 1385.0,2383.2 1387.0,2383.1 1389.0,2383.0 1391.0,2383.0 1393.0,2382.9 1395.0,2382.8 1397.0,2382.8 1399.0,2382.7 1401.0,2382.7 1403.0,2382.6 1405.0,2382.5 1407.0,2382.5 1409.0,2382.4 1411.0,2382.4 1413.0,2382.4 1415.0,2382.3 1417.0,2382.3 1419.0,2382.2 1421.0,2382.2 1423.0,2382.2 1425.0,2382.2 1427.0,2382.2 1429.0,2382.2 1431.0,2382.2 1433.0,2382.2 1435.0,2382.2 1437.0,2382.2 1439.0,2382.2 1441.0,2382.3 1443.0,2382.3 1445.0,2382.3 1447.0,2382.4 1449.0,2382.5 1451.0,2382.5 1453.0,2382.6" transform="translate(0,-780.0)" fill="none" stroke="#000" stroke-width="6.2" stroke-dasharray="5.2 11.8 38.4 11.8 38.8 11.0 32.4 11.0 38.8 12.0 39.7 12.2 40.0 12.0 38.3 11.5 36.8 10.4 31.1 9.0 26.7 9.6 35.5 10.8 35.7 10.8 34.7 10.1 30.7 10.2 35.7 10.0 29.8 9.3 30.4 9.9 34.4 9.9 30.1 9.6 32.1 9.7 31.4 9.3 28.9 9.4 32.5 9.6 29.9 9.6 32.6 9.4 28.8 9.3 31.8 9.7 31.7 9.6 30.6 9.4 30.7 9.6 31.8 9.6 30.8 10.0 34.1 10.5 34.5 11.2 38.6 11.8 38.2 11.7 38.3 11.8 38.2 11.7 38.2 11.8 38.3 11.8 39.1 0.0" stroke-linejoin="round"/>
<path d="M180.0,2382.9L181.9,2383.1 184.0,2383.2 186.0,2383.3 188.0,2383.4 190.1,2383.5 192.1,2383.5 194.1,2383.6 196.1,2383.6 198.2,2383.6 200.2,2383.6 202.1,2383.5 204.1,2383.5 206.1,2383.4 208.1,2383.4 210.1,2383.3 212.0,2383.2 214.0,2383.1 216.0,2382.9 218.0,2382.8 219.9,2382.7 221.9,2382.5 223.9,2382.4 225.8,2382.2 227.8,2382.0 229.8,2381.9 231.7,2381.7 233.7,2381.5 235.7,2381.3 237.7,2381.1 239.7,2380.9 241.7,2380.7 243.7,2380.5 245.7,2380.3 247.7,2380.1 249.6,2379.9 251.6,2379.6 253.6,2379.3 255.6,2379.0 257.6,2378.6 259.5,2378.2 261.4,2377.7 263.3,2377.2 265.2,2376.6 267.1,2376.0 269.0,2375.3 270.8,2374.5 272.6,2373.7 274.4,2372.8 276.1,2371.9 277.8,2370.8 279.5,2369.8 281.1,2368.6 282.7,2367.5 284.3,2366.2 285.8,2365.0 287.2,2363.6 288.7,2362.3 290.0,2360.9 291.3,2359.4 292.6,2358.0 293.8,2356.4 295.0,2354.9 296.1,2353.3 297.2,2351.7 298.3,2350.0 299.3,2348.4 300.3,2346.7 301.2,2344.9 302.1,2343.2 303.0,2341.4 303.8,2339.6 304.6,2337.8 305.4,2336.0 306.1,2334.1 306.9,2332.2 307.6,2330.3 308.3,2328.4 308.9,2326.5 309.6,2324.6 310.2,2322.7 310.8,2320.8 311.4,2318.8 312.0,2316.9 312.6,2314.9 313.2,2313.0 313.7,2311.0 314.3,2309.1 314.8,2307.1 315.4,2305.2 315.9,2303.3 316.5,2301.3 317.0,2299.4 317.5,2297.5 318.1,2295.5 318.6,2293.6 319.1,2291.6 319.6,2289.7 320.1,2287.8 320.6,2285.9 321.1,2283.9 321.6,2282.0 322.1,2280.1 322.6,2278.1 323.0,2276.2 323.5,2274.3 324.0,2272.3 324.4,2270.4 324.9,2268.5 325.3,2266.5 325.7,2264.6 326.2,2262.6 326.6,2260.7 327.0,2258.8 327.4,2256.8 327.8,2254.9 328.2,2252.9 328.6,2251.0 329.0,2249.0 329.4,2247.1 329.8,2245.1 330.1,2243.1 330.5,2241.2 330.9,2239.2 331.2,2237.3 331.6,2235.3 331.9,2233.3 332.3,2231.4 332.6,2229.4 333.0,2227.4 333.3,2225.5 333.7,2223.5 334.0,2221.5 334.4,2219.5 334.7,2217.6 335.0,2215.6 335.4,2213.6 335.7,2211.7 336.1,2209.7 336.4,2207.7 336.7,2205.7 337.1,2203.8 337.4,2201.8 337.8,2199.8 338.1,2197.8 338.5,2195.9 338.8,2193.9 339.2,2191.9 339.5,2190.0 339.9,2188.0 340.3,2186.0 340.6,2184.1 341.0,2182.1 341.4,2180.1 341.8,2178.2 342.2,2176.2 342.6,2174.2 343.0,2172.3 343.4,2170.3 343.8,2168.4 344.3,2166.4 344.7,2164.4 345.1,2162.5 345.6,2160.5 346.0,2158.6 346.5,2156.6 347.0,2154.7 347.5,2152.8 348.0,2150.8 348.5,2148.9 349.0,2146.9 349.5,2145.0 350.0,2143.1 350.6,2141.2 351.2,2139.2 351.7,2137.3 352.3,2135.4 352.9,2133.5 353.5,2131.6 354.1,2129.7 354.7,2127.8 355.4,2125.9 356.0,2124.0 356.7,2122.1 357.4,2120.2 358.1,2118.3 358.8,2116.4 359.5,2114.6 360.2,2112.7 361.0,2110.9 361.7,2109.0 362.5,2107.2 363.2,2105.3 364.0,2103.5 364.8,2101.7 365.7,2099.9 366.5,2098.1 367.3,2096.3 368.2,2094.5 369.1,2092.7 370.0,2091.0 370.9,2089.2 371.8,2087.5 372.7,2085.7 373.6,2084.0 374.6,2082.3 375.6,2080.5 376.6,2078.8 377.6,2077.1 378.7,2075.4 379.8,2073.7 380.9,2072.0 382.1,2070.4 383.3,2068.7 384.6,2067.0 385.8,2065.3 387.2,2063.6 388.6,2061.9 390.0,2060.2 391.5,2058.6 393.0,2057.1 394.5,2055.7 396.0,2054.5 397.6,2053.5 399.2,2052.8 400.7,2052.4 402.3,2052.3 403.8,2052.5 405.4,2053.0 406.9,2053.7 408.4,2054.6 409.8,2055.7 411.2,2056.9 412.5,2058.2 413.8,2059.6 415.1,2061.1 416.3,2062.8 417.5,2064.5 418.6,2066.2 419.7,2068.1 420.7,2069.9 421.7,2071.8 422.7,2073.8 423.6,2075.7 424.5,2077.6 425.4,2079.5 426.3,2081.4 427.2,2083.3 428.1,2085.1 429.0,2086.9 429.8,2088.7 430.7,2090.5 431.5,2092.3 432.4,2094.0 433.2,2095.8 434.0,2097.5 434.8,2099.3 435.7,2101.0 436.5,2102.8 437.2,2104.5 438.0,2106.3 438.8,2108.1 439.6,2109.9 440.3,2111.7 441.1,2113.5 441.9,2115.4 442.6,2117.2 443.4,2119.1 444.1,2121.0 444.9,2122.8 445.6,2124.7 446.3,2126.6 447.1,2128.5 447.8,2130.4 448.6,2132.2 449.3,2134.1 450.1,2136.0 450.8,2137.9 451.6,2139.8 452.3,2141.7 453.1,2143.6 453.9,2145.5 454.6,2147.3 455.4,2149.2 456.2,2151.1 457.0,2152.9 457.8,2154.8 458.6,2156.6 459.5,2158.4 460.3,2160.2 461.2,2162.0 462.0,2163.8 462.9,2165.6 463.8,2167.3 464.7,2169.1 465.6,2170.8 466.5,2172.5 467.5,2174.3 468.4,2176.0 469.4,2177.6 470.4,2179.3 471.4,2181.0 472.5,2182.6 473.5,2184.3 474.6,2185.9 475.7,2187.5 476.8,2189.1 478.0,2190.7 479.2,2192.2 480.4,2193.8 481.6,2195.3 482.9,2196.9 484.2,2198.4 485.5,2199.9 486.8,2201.4 488.2,2202.9 489.6,2204.3 491.0,2205.8 492.5,2207.2 494.0,2208.6 495.5,2210.0 497.0,2211.3 498.6,2212.7 500.2,2214.0 501.8,2215.3 503.5,2216.5 505.2,2217.7 506.9,2218.9 508.6,2220.0 510.3,2221.1 512.1,2222.1 513.9,2223.1 515.7,2224.0 517.5,2224.9 519.3,2225.8 521.2,2226.5 523.0,2227.2 524.9,2227.9 526.8,2228.5 528.7,2229.0 530.7,2229.5 532.6,2229.8 534.5,2230.1 536.5,2230.4 538.5,2230.5 540.4,2230.6 542.4,2230.6 544.4,2230.5 546.4,2230.4 548.4,2230.1 550.3,2229.8 552.3,2229.4 554.3,2229.0 556.2,2228.5 558.1,2227.9 560.0,2227.3 561.9,2226.6 563.8,2225.9 565.6,2225.1 567.4,2224.2 569.1,2223.3 570.9,2222.3 572.6,2221.3 574.2,2220.3 575.9,2219.1 577.4,2218.0 579.0,2216.8 580.6,2215.6 582.1,2214.3 583.5,2213.0 585.0,2211.7 586.4,2210.3 587.8,2209.0 589.2,2207.5 590.5,2206.1 591.8,2204.6 593.1,2203.1 594.4,2201.6 595.7,2200.1 596.9,2198.5 598.1,2197.0 599.3,2195.4 600.5,2193.8 601.6,2192.2 602.8,2190.5 603.9,2188.9 605.0,2187.2 606.1,2185.6 607.2,2183.9 608.3,2182.2 609.4,2180.5 610.5,2178.8 611.5,2177.1 612.6,2175.3 613.6,2173.6 614.7,2171.9 615.7,2170.1 616.8,2168.4 617.8,2166.7 618.8,2164.9 619.9,2163.2 620.9,2161.5 622.0,2159.7 623.0,2158.0 624.1,2156.3 625.2,2154.6 626.2,2152.9 627.3,2151.2 628.4,2149.5 629.5,2147.8 630.6,2146.1 631.7,2144.4 632.8,2142.7 633.9,2141.1 635.0,2139.4 636.1,2137.7 637.3,2136.1 638.4,2134.4 639.5,2132.8 640.7,2131.1 641.9,2129.5 643.0,2127.9 644.2,2126.2 645.4,2124.6 646.5,2123.0 647.7,2121.4 648.9,2119.8 650.1,2118.2 651.3,2116.6 652.5,2115.1 653.8,2113.5 655.0,2111.9 656.2,2110.4 657.5,2108.8 658.7,2107.3 660.0,2105.7 661.3,2104.2 662.5,2102.7 663.8,2101.1 665.1,2099.6 666.4,2098.1 667.7,2096.6 669.0,2095.1 670.3,2093.7 671.7,2092.2 673.0,2090.7 674.3,2089.3 675.7,2087.8 677.0,2086.4 678.4,2084.9 679.8,2083.5 681.2,2082.1 682.6,2080.7 684.0,2079.3 685.4,2077.9 686.8,2076.5 688.2,2075.1 689.7,2073.7 691.1,2072.3 692.6,2071.0 694.0,2069.6 695.5,2068.3 697.0,2067.0 698.5,2065.6 700.0,2064.3 701.5,2063.0 703.1,2061.7 704.6,2060.5 706.2,2059.2 707.8,2057.9 709.4,2056.7 711.1,2055.4 712.7,2054.2 714.4,2053.0 716.1,2051.8 717.9,2050.6 719.6,2049.4 721.4,2048.2 723.2,2047.1 725.0,2046.1 726.8,2045.2 728.6,2044.3 730.5,2043.6 732.3,2043.0 734.1,2042.5 735.8,2042.3 737.6,2042.1 739.3,2042.2 741.0,2042.5 742.7,2043.0 744.3,2043.7 745.9,2044.7 747.4,2045.8 748.9,2047.1 750.3,2048.5 751.8,2050.0 753.2,2051.5 754.5,2053.0 755.9,2054.6 757.2,2056.1 758.5,2057.5 759.7,2059.0 761.0,2060.5 762.2,2062.1 763.4,2063.6 764.6,2065.2 765.8,2066.8 767.0,2068.4 768.2,2070.0 769.3,2071.6 770.5,2073.3 771.6,2075.0 772.8,2076.7 773.9,2078.3 775.0,2080.0 776.2,2081.7 777.3,2083.4 778.5,2085.0 779.7,2086.7 780.8,2088.3 782.0,2089.9 783.2,2091.5 784.4,2093.1 785.6,2094.7 786.8,2096.3 788.0,2097.8 789.2,2099.4 790.5,2100.9 791.7,2102.5 793.0,2104.0 794.2,2105.5 795.5,2107.0 796.8,2108.5 798.0,2110.0 799.3,2111.5 800.6,2113.0 801.9,2114.4 803.2,2115.9 804.6,2117.4 805.9,2118.8 807.2,2120.3 808.5,2121.7 809.9,2123.2 811.2,2124.6 812.6,2126.1 814.0,2127.5 815.3,2129.0 816.7,2130.4 818.1,2131.9 819.5,2133.3 820.9,2134.7 822.3,2136.2 823.7,2137.6 825.2,2139.0 826.6,2140.4 828.0,2141.9 829.5,2143.3 830.9,2144.7 832.4,2146.1 833.8,2147.5 835.3,2148.9 836.8,2150.3 838.3,2151.6 839.8,2153.0 841.2,2154.4 842.8,2155.7 844.3,2157.1 845.8,2158.4 847.3,2159.7 848.8,2161.0 850.4,2162.3 851.9,2163.6 853.4,2164.9 855.0,2166.2 856.6,2167.4 858.1,2168.7 859.7,2169.9 861.3,2171.1 862.9,2172.3 864.4,2173.5 866.0,2174.7 867.6,2175.8 869.2,2177.0 870.8,2178.1 872.5,2179.3 874.1,2180.4 875.7,2181.5 877.3,2182.6 879.0,2183.7 880.6,2184.8 882.2,2185.9 883.9,2187.0 885.5,2188.1 887.2,2189.1 888.8,2190.2 890.5,2191.2 892.1,2192.3 893.8,2193.3 895.5,2194.4 897.2,2195.4 898.8,2196.4 900.5,2197.4 902.2,2198.5 903.9,2199.5 905.5,2200.5 907.2,2201.5 908.9,2202.5 910.6,2203.5 912.3,2204.6 914.0,2205.6 915.7,2206.6 917.3,2207.6 919.0,2208.6 920.7,2209.6 922.4,2210.6 924.1,2211.6 925.8,2212.6 927.5,2213.7 929.2,2214.7 930.9,2215.7 932.6,2216.7 934.3,2217.8 936.0,2218.8 937.7,2219.8 939.4,2220.9 941.0,2221.9 942.7,2223.0 944.4,2224.0 946.1,2225.1 947.8,2226.2 949.5,2227.3 951.2,2228.4 952.8,2229.5 954.5,2230.6 956.2,2231.7 957.9,2232.8 959.5,2233.9 961.2,2235.1 962.8,2236.2 964.5,2237.4 966.1,2238.5 967.8,2239.7 969.4,2240.9 971.1,2242.1 972.7,2243.3 974.3,2244.5 975.9,2245.7 977.5,2247.0 979.1,2248.2 980.7,2249.5 982.2,2250.8 983.8,2252.0 985.4,2253.3 986.9,2254.6 988.4,2255.9 989.9,2257.2 991.4,2258.6 992.9,2259.9 994.4,2261.3 995.9,2262.6 997.3,2264.0 998.7,2265.4 1000.2,2266.8 1001.6,2268.2 1002.9,2269.7 1004.3,2271.1 1005.7,2272.5 1007.0,2274.0 1008.3,2275.5 1009.7,2276.9 1011.0,2278.4 1012.2,2279.9 1013.5,2281.4 1014.8,2283.0 1016.0,2284.5 1017.3,2286.0 1018.5,2287.5 1019.7,2289.1 1020.9,2290.6 1022.1,2292.2 1023.2,2293.8 1024.4,2295.3 1025.5,2296.9 1026.7,2298.5 1027.8,2300.1 1028.9,2301.7 1030.0,2303.3 1031.1,2304.9 1032.2,2306.5 1033.3,2308.1 1034.3,2309.7 1035.4,2311.3 1036.4,2312.9 1037.4,2314.6 1038.5,2316.2 1039.5,2317.8 1040.5,2319.5 1041.5,2321.1 1042.5,2322.7 1043.5,2324.4 1044.5,2326.0 1045.6,2327.7 1046.6,2329.3 1047.6,2331.0 1048.6,2332.6 1049.6,2334.3 1050.6,2336.0 1051.7,2337.6 1052.7,2339.3 1053.7,2341.0 1054.8,2342.7 1055.9,2344.3 1056.9,2346.0 1058.0,2347.7 1059.1,2349.4 1060.2,2351.1 1061.3,2352.8 1062.5,2354.5 1063.6,2356.2 1064.8,2357.9 1066.0,2359.6 1067.2,2361.3 1068.5,2362.9 1069.7,2364.6 1071.0,2366.2 1072.3,2367.8 1073.7,2369.3 1075.1,2370.8 1076.5,2372.2 1077.9,2373.6 1079.4,2374.8 1081.0,2376.0 1082.6,2377.1 1084.2,2378.1 1085.9,2379.0 1087.6,2379.7 1089.4,2380.4 1091.3,2381.0 1093.1,2381.4 1095.0,2381.8 1097.0,2382.2 1098.9,2382.4 1100.9,2382.7 1102.9,2382.8 1104.9,2383.0 1106.9,2383.1 1108.9,2383.2 1111.0,2383.2 1113.0,2383.3 1115.0,2383.4 1117.0,2383.4 1119.0,2383.5 1121.1,2383.5 1123.1,2383.6 1125.1,2383.6 1127.1,2383.7 1129.1,2383.7 1131.1,2383.8 1133.1,2383.8 1135.1,2383.9 1137.1,2383.9 1139.1,2383.9 1141.1,2384.0 1143.1,2384.0 1145.1,2384.0 1147.1,2384.1 1149.1,2384.1 1151.1,2384.1 1153.1,2384.2 1155.1,2384.2 1157.1,2384.2 1159.1,2384.3 1161.0,2384.3 1163.0,2384.3 1165.0,2384.4 1167.0,2384.4 1169.0,2384.5 1171.0,2384.5 1173.0,2384.5 1175.0,2384.6 1177.0,2384.6 1179.0,2384.7 1181.0,2384.7 1183.0,2384.7 1185.0,2384.8 1187.0,2384.8 1189.0,2384.8 1191.0,2384.8 1193.0,2384.8 1195.0,2384.8 1197.0,2384.8 1199.0,2384.8 1201.0,2384.7 1203.0,2384.7 1205.0,2384.7 1207.0,2384.6 1209.0,2384.5 1211.0,2384.5 1213.0,2384.4 1215.0,2384.4 1217.0,2384.3 1219.0,2384.2 1221.0,2384.2 1223.0,2384.1 1225.0,2384.0 1227.0,2384.0 1229.0,2384.0 1231.0,2383.9 1233.0,2383.9 1235.0,2383.8 1237.0,2383.8 1239.0,2383.8 1241.0,2383.8 1243.0,2383.8 1245.0,2383.8 1247.0,2383.8 1249.0,2383.8 1251.0,2383.8 1253.0,2383.8 1255.0,2383.8 1257.0,2383.8 1259.0,2383.8 1261.0,2383.8 1263.0,2383.8 1265.0,2383.9 1267.0,2383.9 1269.0,2383.9 1271.0,2383.9 1273.0,2384.0 1275.0,2384.0 1277.0,2384.0 1279.0,2384.0 1281.0,2384.1 1283.0,2384.1 1285.0,2384.1 1287.0,2384.2 1289.0,2384.2 1291.0,2384.2 1293.0,2384.3 1295.0,2384.3 1297.0,2384.3 1299.0,2384.4 1301.0,2384.4 1303.0,2384.4 1305.0,2384.4 1307.0,2384.5 1309.0,2384.5 1311.0,2384.5 1313.0,2384.5 1315.0,2384.6 1317.0,2384.6 1319.0,2384.6 1321.0,2384.6 1323.0,2384.6 1325.0,2384.6 1327.0,2384.6 1329.0,2384.6 1331.0,2384.6 1333.0,2384.6 1335.0,2384.6 1337.0,2384.5 1339.0,2384.5 1341.0,2384.5 1343.0,2384.5 1345.0,2384.4 1347.0,2384.4 1349.0,2384.3 1351.0,2384.3 1353.0,2384.2 1355.0,2384.2 1357.0,2384.1 1359.0,2384.1 1361.0,2384.0 1363.0,2383.9 1365.0,2383.9 1367.0,2383.8 1369.0,2383.7 1371.0,2383.7 1373.0,2383.6 1375.0,2383.5 1377.0,2383.5 1379.0,2383.4 1381.0,2383.3 1383.0,2383.3 1385.0,2383.2 1387.0,2383.1 1389.0,2383.0 1391.0,2383.0 1393.0,2382.9 1395.0,2382.8 1397.0,2382.8 1399.0,2382.7 1401.0,2382.7 1403.0,2382.6 1405.0,2382.5 1407.0,2382.5 1409.0,2382.4 1411.0,2382.4 1413.0,2382.4 1415.0,2382.3 1417.0,2382.3 1419.0,2382.2 1421.0,2382.2 1423.0,2382.2 1425.0,2382.2 1427.0,2382.2 1429.0,2382.2 1431.0,2382.2 1433.0,2382.2 1435.0,2382.2 1437.0,2382.2 1439.0,2382.2 1441.0,2382.3 1443.0,2382.3 1445.0,2382.3 1447.0,2382.4 1449.0,2382.5 1451.0,2382.5 1453.0,2382.6" transform="translate(0,-1170.0)" fill="none" stroke="#000" stroke-width="6.2" stroke-dasharray="5.2 11.8 38.4 11.8 38.8 11.0 32.4 11.0 38.8 12.0 39.7 12.2 40.0 12.0 38.3 11.5 36.8 10.4 31.1 9.0 26.7 9.6 35.5 10.8 35.7 10.8 34.7 10.1 30.7 10.2 35.7 10.0 29.8 9.3 30.4 9.9 34.4 9.9 30.1 9.6 32.1 9.7 31.4 9.3 28.9 9.4 32.5 9.6 29.9 9.6 32.6 9.4 28.8 9.3 31.8 9.7 31.7 9.6 30.6 9.4 30.7 9.6 31.8 9.6 30.8 10.0 34.1 10.5 34.5 11.2 38.6 11.8 38.2 11.7 38.3 11.8 38.2 11.7 38.2 11.8 38.3 11.8 39.1 0.0" stroke-linejoin="round"/>
<path d="M180.0,2382.9L181.9,2383.1 184.0,2383.2 186.0,2383.3 188.0,2383.4 190.1,2383.5 192.1,2383.5 194.1,2383.6 196.1,2383.6 198.2,2383.6 200.2,2383.6 202.1,2383.5 204.1,2383.5 206.1,2383.4 208.1,2383.4 210.1,2383.3 212.0,2383.2 214.0,2383.1 216.0,2382.9 218.0,2382.8 219.9,2382.7 221.9,2382.5 223.9,2382.4 225.8,2382.2 227.8,2382.0 229.8,2381.9 231.7,2381.7 233.7,2381.5 235.7,2381.3 237.7,2381.1 239.7,2380.9 241.7,2380.7 243.7,2380.5 245.7,2380.3 247.7,2380.1 249.6,2379.9 251.6,2379.6 253.6,2379.3 255.6,2379.0 257.6,2378.6 259.5,2378.2 261.4,2377.7 263.3,2377.2 265.2,2376.6 267.1,2376.0 269.0,2375.3 270.8,2374.5 272.6,2373.7 274.4,2372.8 276.1,2371.9 277.8,2370.8 279.5,2369.8 281.1,2368.6 282.7,2367.5 284.3,2366.2 285.8,2365.0 287.2,2363.6 288.7,2362.3 290.0,2360.9 291.3,2359.4 292.6,2358.0 293.8,2356.4 295.0,2354.9 296.1,2353.3 297.2,2351.7 298.3,2350.0 299.3,2348.4 300.3,2346.7 301.2,2344.9 302.1,2343.2 303.0,2341.4 303.8,2339.6 304.6,2337.8 305.4,2336.0 306.1,2334.1 306.9,2332.2 307.6,2330.3 308.3,2328.4 308.9,2326.5 309.6,2324.6 310.2,2322.7 310.8,2320.8 311.4,2318.8 312.0,2316.9 312.6,2314.9 313.2,2313.0 313.7,2311.0 314.3,2309.1 314.8,2307.1 315.4,2305.2 315.9,2303.3 316.5,2301.3 317.0,2299.4 317.5,2297.5 318.1,2295.5 318.6,2293.6 319.1,2291.6 319.6,2289.7 320.1,2287.8 320.6,2285.9 321.1,2283.9 321.6,2282.0 322.1,2280.1 322.6,2278.1 323.0,2276.2 323.5,2274.3 324.0,2272.3 324.4,2270.4 324.9,2268.5 325.3,2266.5 325.7,2264.6 326.2,2262.6 326.6,2260.7 327.0,2258.8 327.4,2256.8 327.8,2254.9 328.2,2252.9 328.6,2251.0 329.0,2249.0 329.4,2247.1 329.8,2245.1 330.1,2243.1 330.5,2241.2 330.9,2239.2 331.2,2237.3 331.6,2235.3 331.9,2233.3 332.3,2231.4 332.6,2229.4 333.0,2227.4 333.3,2225.5 333.7,2223.5 334.0,2221.5 334.4,2219.5 334.7,2217.6 335.0,2215.6 335.4,2213.6 335.7,2211.7 336.1,2209.7 336.4,2207.7 336.7,2205.7 337.1,2203.8 337.4,2201.8 337.8,2199.8 338.1,2197.8 338.5,2195.9 338.8,2193.9 339.2,2191.9 339.5,2190.0 339.9,2188.0 340.3,2186.0 340.6,2184.1 341.0,2182.1 341.4,2180.1 341.8,2178.2 342.2,2176.2 342.6,2174.2 343.0,2172.3 343.4,2170.3 343.8,2168.4 344.3,2166.4 344.7,2164.4 345.1,2162.5 345.6,2160.5 346.0,2158.6 346.5,2156.6 347.0,2154.7 347.5,2152.8 348.0,2150.8 348.5,2148.9 349.0,2146.9 349.5,2145.0 350.0,2143.1 350.6,2141.2 351.2,2139.2 351.7,2137.3 352.3,2135.4 352.9,2133.5 353.5,2131.6 354.1,2129.7 354.7,2127.8 355.4,2125.9 356.0,2124.0 356.7,2122.1 357.4,2120.2 358.1,2118.3 358.8,2116.4 359.5,2114.6 360.2,2112.7 361.0,2110.9 361.7,2109.0 362.5,2107.2 363.2,2105.3 364.0,2103.5 364.8,2101.7 365.7,2099.9 366.5,2098.1 367.3,2096.3 368.2,2094.5 369.1,2092.7 370.0,2091.0 370.9,2089.2 371.8,2087.5 372.7,2085.7 373.6,2084.0 374.6,2082.3 375.6,2080.5 376.6,2078.8 377.6,2077.1 378.7,2075.4 379.8,2073.7 380.9,2072.0 382.1,2070.4 383.3,2068.7 384.6,2067.0 385.8,2065.3 387.2,2063.6 388.6,2061.9 390.0,2060.2 391.5,2058.6 393.0,2057.1 394.5,2055.7 396.0,2054.5 397.6,2053.5 399.2,2052.8 400.7,2052.4 402.3,2052.3 403.8,2052.5 405.4,2053.0 406.9,2053.7 408.4,2054.6 409.8,2055.7 411.2,2056.9 412.5,2058.2 413.8,2059.6 415.1,2061.1 416.3,2062.8 417.5,2064.5 418.6,2066.2 419.7,2068.1 420.7,2069.9 421.7,2071.8 422.7,2073.8 423.6,2075.7 424.5,2077.6 425.4,2079.5 426.3,2081.4 427.2,2083.3 428.1,2085.1 429.0,2086.9 429.8,2088.7 430.7,2090.5 431.5,2092.3 432.4,2094.0 433.2,2095.8 434.0,2097.5 434.8,2099.3 435.7,2101.0 436.5,2102.8 437.2,2104.5 438.0,2106.3 438.8,2108.1 439.6,2109.9 440.3,2111.7 441.1,2113.5 441.9,2115.4 442.6,2117.2 443.4,2119.1 444.1,2121.0 444.9,2122.8 445.6,2124.7 446.3,2126.6 447.1,2128.5 447.8,2130.4 448.6,2132.2 449.3,2134.1 450.1,2136.0 450.8,2137.9 451.6,2139.8 452.3,2141.7 453.1,2143.6 453.9,2145.5 454.6,2147.3 455.4,2149.2 456.2,2151.1 457.0,2152.9 457.8,2154.8 458.6,2156.6 459.5,2158.4 460.3,2160.2 461.2,2162.0 462.0,2163.8 462.9,2165.6 463.8,2167.3 464.7,2169.1 465.6,2170.8 466.5,2172.5 467.5,2174.3 468.4,2176.0 469.4,2177.6 470.4,2179.3 471.4,2181.0 472.5,2182.6 473.5,2184.3 474.6,2185.9 475.7,2187.5 476.8,2189.1 478.0,2190.7 479.2,2192.2 480.4,2193.8 481.6,2195.3 482.9,2196.9 484.2,2198.4 485.5,2199.9 486.8,2201.4 488.2,2202.9 489.6,2204.3 491.0,2205.8 492.5,2207.2 494.0,2208.6 495.5,2210.0 497.0,2211.3 498.6,2212.7 500.2,2214.0 501.8,2215.3 503.5,2216.5 505.2,2217.7 506.9,2218.9 508.6,2220.0 510.3,2221.1 512.1,2222.1 513.9,2223.1 515.7,2224.0 517.5,2224.9 519.3,2225.8 521.2,2226.5 523.0,2227.2 524.9,2227.9 526.8,2228.5 528.7,2229.0 530.7,2229.5 532.6,2229.8 534.5,2230.1 536.5,2230.4 538.5,2230.5 540.4,2230.6 542.4,2230.6 544.4,2230.5 546.4,2230.4 548.4,2230.1 550.3,2229.8 552.3,2229.4 554.3,2229.0 556.2,2228.5 558.1,2227.9 560.0,2227.3 561.9,2226.6 563.8,2225.9 565.6,2225.1 567.4,2224.2 569.1,2223.3 570.9,2222.3 572.6,2221.3 574.2,2220.3 575.9,2219.1 577.4,2218.0 579.0,2216.8 580.6,2215.6 582.1,2214.3 583.5,2213.0 585.0,2211.7 586.4,2210.3 587.8,2209.0 589.2,2207.5 590.5,2206.1 591.8,2204.6 593.1,2203.1 594.4,2201.6 595.7,2200.1 596.9,2198.5 598.1,2197.0 599.3,2195.4 600.5,2193.8 601.6,2192.2 602.8,2190.5 603.9,2188.9 605.0,2187.2 606.1,2185.6 607.2,2183.9 608.3,2182.2 609.4,2180.5 610.5,2178.8 611.5,2177.1 612.6,2175.3 613.6,2173.6 614.7,2171.9 615.7,2170.1 616.8,2168.4 617.8,2166.7 618.8,2164.9 619.9,2163.2 620.9,2161.5 622.0,2159.7 623.0,2158.0 624.1,2156.3 625.2,2154.6 626.2,2152.9 627.3,2151.2 628.4,2149.5 629.5,2147.8 630.6,2146.1 631.7,2144.4 632.8,2142.7 633.9,2141.1 635.0,2139.4 636.1,2137.7 637.3,2136.1 638.4,2134.4 639.5,2132.8 640.7,2131.1 641.9,2129.5 643.0,2127.9 644.2,2126.2 645.4,2124.6 646.5,2123.0 647.7,2121.4 648.9,2119.8 650.1,2118.2 651.3,2116.6 652.5,2115.1 653.8,2113.5 655.0,2111.9 656.2,2110.4 657.5,2108.8 658.7,2107.3 660.0,2105.7 661.3,2104.2 662.5,2102.7 663.8,2101.1 665.1,2099.6 666.4,2098.1 667.7,2096.6 669.0,2095.1 670.3,2093.7 671.7,2092.2 673.0,2090.7 674.3,2089.3 675.7,2087.8 677.0,2086.4 678.4,2084.9 679.8,2083.5 681.2,2082.1 682.6,2080.7 684.0,2079.3 685.4,2077.9 686.8,2076.5 688.2,2075.1 689.7,2073.7 691.1,2072.3 692.6,2071.0 694.0,2069.6 695.5,2068.3 697.0,2067.0 698.5,2065.6 700.0,2064.3 701.5,2063.0 703.1,2061.7 704.6,2060.5 706.2,2059.2 707.8,2057.9 709.4,2056.7 711.1,2055.4 712.7,2054.2 714.4,2053.0 716.1,2051.8 717.9,2050.6 719.6,2049.4 721.4,2048.2 723.2,2047.1 725.0,2046.1 726.8,2045.2 728.6,2044.3 730.5,2043.6 732.3,2043.0 734.1,2042.5 735.8,2042.3 737.6,2042.1 739.3,2042.2 741.0,2042.5 742.7,2043.0 744.3,2043.7 745.9,2044.7 747.4,2045.8 748.9,2047.1 750.3,2048.5 751.8,2050.0 753.2,2051.5 754.5,2053.0 755.9,2054.6 757.2,2056.1 758.5,2057.5 759.7,2059.0 761.0,2060.5 762.2,2062.1 763.4,2063.6 764.6,2065.2 765.8,2066.8 767.0,2068.4 768.2,2070.0 769.3,2071.6 770.5,2073.3 771.6,2075.0 772.8,2076.7 773.9,2078.3 775.0,2080.0 776.2,2081.7 777.3,2083.4 778.5,2085.0 779.7,2086.7 780.8,2088.3 782.0,2089.9 783.2,2091.5 784.4,2093.1 785.6,2094.7 786.8,2096.3 788.0,2097.8 789.2,2099.4 790.5,2100.9 791.7,2102.5 793.0,2104.0 794.2,2105.5 795.5,2107.0 796.8,2108.5 798.0,2110.0 799.3,2111.5 800.6,2113.0 801.9,2114.4 803.2,2115.9 804.6,2117.4 805.9,2118.8 807.2,2120.3 808.5,2121.7 809.9,2123.2 811.2,2124.6 812.6,2126.1 814.0,2127.5 815.3,2129.0 816.7,2130.4 818.1,2131.9 819.5,2133.3 820.9,2134.7 822.3,2136.2 823.7,2137.6 825.2,2139.0 826.6,2140.4 828.0,2141.9 829.5,2143.3 830.9,2144.7 832.4,2146.1 833.8,2147.5 835.3,2148.9 836.8,2150.3 838.3,2151.6 839.8,2153.0 841.2,2154.4 842.8,2155.7 844.3,2157.1 845.8,2158.4 847.3,2159.7 848.8,2161.0 850.4,2162.3 851.9,2163.6 853.4,2164.9 855.0,2166.2 856.6,2167.4 858.1,2168.7 859.7,2169.9 861.3,2171.1 862.9,2172.3 864.4,2173.5 866.0,2174.7 867.6,2175.8 869.2,2177.0 870.8,2178.1 872.5,2179.3 874.1,2180.4 875.7,2181.5 877.3,2182.6 879.0,2183.7 880.6,2184.8 882.2,2185.9 883.9,2187.0 885.5,2188.1 887.2,2189.1 888.8,2190.2 890.5,2191.2 892.1,2192.3 893.8,2193.3 895.5,2194.4 897.2,2195.4 898.8,2196.4 900.5,2197.4 902.2,2198.5 903.9,2199.5 905.5,2200.5 907.2,2201.5 908.9,2202.5 910.6,2203.5 912.3,2204.6 914.0,2205.6 915.7,2206.6 917.3,2207.6 919.0,2208.6 920.7,2209.6 922.4,2210.6 924.1,2211.6 925.8,2212.6 927.5,2213.7 929.2,2214.7 930.9,2215.7 932.6,2216.7 934.3,2217.8 936.0,2218.8 937.7,2219.8 939.4,2220.9 941.0,2221.9 942.7,2223.0 944.4,2224.0 946.1,2225.1 947.8,2226.2 949.5,2227.3 951.2,2228.4 952.8,2229.5 954.5,2230.6 956.2,2231.7 957.9,2232.8 959.5,2233.9 961.2,2235.1 962.8,2236.2 964.5,2237.4 966.1,2238.5 967.8,2239.7 969.4,2240.9 971.1,2242.1 972.7,2243.3 974.3,2244.5 975.9,2245.7 977.5,2247.0 979.1,2248.2 980.7,2249.5 982.2,2250.8 983.8,2252.0 985.4,2253.3 986.9,2254.6 988.4,2255.9 989.9,2257.2 991.4,2258.6 992.9,2259.9 994.4,2261.3 995.9,2262.6 997.3,2264.0 998.7,2265.4 1000.2,2266.8 1001.6,2268.2 1002.9,2269.7 1004.3,2271.1 1005.7,2272.5 1007.0,2274.0 1008.3,2275.5 1009.7,2276.9 1011.0,2278.4 1012.2,2279.9 1013.5,2281.4 1014.8,2283.0 1016.0,2284.5 1017.3,2286.0 1018.5,2287.5 1019.7,2289.1 1020.9,2290.6 1022.1,2292.2 1023.2,2293.8 1024.4,2295.3 1025.5,2296.9 1026.7,2298.5 1027.8,2300.1 1028.9,2301.7 1030.0,2303.3 1031.1,2304.9 1032.2,2306.5 1033.3,2308.1 1034.3,2309.7 1035.4,2311.3 1036.4,2312.9 1037.4,2314.6 1038.5,2316.2 1039.5,2317.8 1040.5,2319.5 1041.5,2321.1 1042.5,2322.7 1043.5,2324.4 1044.5,2326.0 1045.6,2327.7 1046.6,2329.3 1047.6,2331.0 1048.6,2332.6 1049.6,2334.3 1050.6,2336.0 1051.7,2337.6 1052.7,2339.3 1053.7,2341.0 1054.8,2342.7 1055.9,2344.3 1056.9,2346.0 1058.0,2347.7 1059.1,2349.4 1060.2,2351.1 1061.3,2352.8 1062.5,2354.5 1063.6,2356.2 1064.8,2357.9 1066.0,2359.6 1067.2,2361.3 1068.5,2362.9 1069.7,2364.6 1071.0,2366.2 1072.3,2367.8 1073.7,2369.3 1075.1,2370.8 1076.5,2372.2 1077.9,2373.6 1079.4,2374.8 1081.0,2376.0 1082.6,2377.1 1084.2,2378.1 1085.9,2379.0 1087.6,2379.7 1089.4,2380.4 1091.3,2381.0 1093.1,2381.4 1095.0,2381.8 1097.0,2382.2 1098.9,2382.4 1100.9,2382.7 1102.9,2382.8 1104.9,2383.0 1106.9,2383.1 1108.9,2383.2 1111.0,2383.2 1113.0,2383.3 1115.0,2383.4 1117.0,2383.4 1119.0,2383.5 1121.1,2383.5 1123.1,2383.6 1125.1,2383.6 1127.1,2383.7 1129.1,2383.7 1131.1,2383.8 1133.1,2383.8 1135.1,2383.9 1137.1,2383.9 1139.1,2383.9 1141.1,2384.0 1143.1,2384.0 1145.1,2384.0 1147.1,2384.1 1149.1,2384.1 1151.1,2384.1 1153.1,2384.2 1155.1,2384.2 1157.1,2384.2 1159.1,2384.3 1161.0,2384.3 1163.0,2384.3 1165.0,2384.4 1167.0,2384.4 1169.0,2384.5 1171.0,2384.5 1173.0,2384.5 1175.0,2384.6 1177.0,2384.6 1179.0,2384.7 1181.0,2384.7 1183.0,2384.7 1185.0,2384.8 1187.0,2384.8 1189.0,2384.8 1191.0,2384.8 1193.0,2384.8 1195.0,2384.8 1197.0,2384.8 1199.0,2384.8 1201.0,2384.7 1203.0,2384.7 1205.0,2384.7 1207.0,2384.6 1209.0,2384.5 1211.0,2384.5 1213.0,2384.4 1215.0,2384.4 1217.0,2384.3 1219.0,2384.2 1221.0,2384.2 1223.0,2384.1 1225.0,2384.0 1227.0,2384.0 1229.0,2384.0 1231.0,2383.9 1233.0,2383.9 1235.0,2383.8 1237.0,2383.8 1239.0,2383.8 1241.0,2383.8 1243.0,2383.8 1245.0,2383.8 1247.0,2383.8 1249.0,2383.8 1251.0,2383.8 1253.0,2383.8 1255.0,2383.8 1257.0,2383.8 1259.0,2383.8 1261.0,2383.8 1263.0,2383.8 1265.0,2383.9 1267.0,2383.9 1269.0,2383.9 1271.0,2383.9 1273.0,2384.0 1275.0,2384.0 1277.0,2384.0 1279.0,2384.0 1281.0,2384.1 1283.0,2384.1 1285.0,2384.1 1287.0,2384.2 1289.0,2384.2 1291.0,2384.2 1293.0,2384.3 1295.0,2384.3 1297.0,2384.3 1299.0,2384.4 1301.0,2384.4 1303.0,2384.4 1305.0,2384.4 1307.0,2384.5 1309.0,2384.5 1311.0,2384.5 1313.0,2384.5 1315.0,2384.6 1317.0,2384.6 1319.0,2384.6 1321.0,2384.6 1323.0,2384.6 1325.0,2384.6 1327.0,2384.6 1329.0,2384.6 1331.0,2384.6 1333.0,2384.6 1335.0,2384.6 1337.0,2384.5 1339.0,2384.5 1341.0,2384.5 1343.0,2384.5 1345.0,2384.4 1347.0,2384.4 1349.0,2384.3 1351.0,2384.3 1353.0,2384.2 1355.0,2384.2 1357.0,2384.1 1359.0,2384.1 1361.0,2384.0 1363.0,2383.9 1365.0,2383.9 1367.0,2383.8 1369.0,2383.7 1371.0,2383.7 1373.0,2383.6 1375.0,2383.5 1377.0,2383.5 1379.0,2383.4 1381.0,2383.3 1383.0,2383.3 1385.0,2383.2 1387.0,2383.1 1389.0,2383.0 1391.0,2383.0 1393.0,2382.9 1395.0,2382.8 1397.0,2382.8 1399.0,2382.7 1401.0,2382.7 1403.0,2382.6 1405.0,2382.5 1407.0,2382.5 1409.0,2382.4 1411.0,2382.4 1413.0,2382.4 1415.0,2382.3 1417.0,2382.3 1419.0,2382.2 1421.0,2382.2 1423.0,2382.2 1425.0,2382.2 1427.0,2382.2 1429.0,2382.2 1431.0,2382.2 1433.0,2382.2 1435.0,2382.2 1437.0,2382.2 1439.0,2382.2 1441.0,2382.3 1443.0,2382.3 1445.0,2382.3 1447.0,2382.4 1449.0,2382.5 1451.0,2382.5 1453.0,2382.6" transform="translate(0,-1560.0)" fill="none" stroke="#000" stroke-width="6.2" stroke-dasharray="5.2 11.8 38.4 11.8 38.8 11.0 32.4 11.0 38.8 12.0 39.7 12.2 40.0 12.0 38.3 11.5 36.8 10.4 31.1 9.0 26.7 9.6 35.5 10.8 35.7 10.8 34.7 10.1 30.7 10.2 35.7 10.0 29.8 9.3 30.4 9.9 34.4 9.9 30.1 9.6 32.1 9.7 31.4 9.3 28.9 9.4 32.5 9.6 29.9 9.6 32.6 9.4 28.8 9.3 31.8 9.7 31.7 9.6 30.6 9.4 30.7 9.6 31.8 9.6 30.8 10.0 34.1 10.5 34.5 11.2 38.6 11.8 38.2 11.7 38.3 11.8 38.2 11.7 38.2 11.8 38.3 11.8 39.1 0.0" stroke-linejoin="round"/>
<path d="M180.0,2382.9L181.9,2383.1 184.0,2383.2 186.0,2383.3 188.0,2383.4 190.1,2383.5 192.1,2383.5 194.1,2383.6 196.1,2383.6 198.2,2383.6 200.2,2383.6 202.1,2383.5 204.1,2383.5 206.1,2383.4 208.1,2383.4 210.1,2383.3 212.0,2383.2 214.0,2383.1 216.0,2382.9 218.0,2382.8 219.9,2382.7 221.9,2382.5 223.9,2382.4 225.8,2382.2 227.8,2382.0 229.8,2381.9 231.7,2381.7 233.7,2381.5 235.7,2381.3 237.7,2381.1 239.7,2380.9 241.7,2380.7 243.7,2380.5 245.7,2380.3 247.7,2380.1 249.6,2379.9 251.6,2379.6 253.6,2379.3 255.6,2379.0 257.6,2378.6 259.5,2378.2 261.4,2377.7 263.3,2377.2 265.2,2376.6 267.1,2376.0 269.0,2375.3 270.8,2374.5 272.6,2373.7 274.4,2372.8 276.1,2371.9 277.8,2370.8 279.5,2369.8 281.1,2368.6 282.7,2367.5 284.3,2366.2 285.8,2365.0 287.2,2363.6 288.7,2362.3 290.0,2360.9 291.3,2359.4 292.6,2358.0 293.8,2356.4 295.0,2354.9 296.1,2353.3 297.2,2351.7 298.3,2350.0 299.3,2348.4 300.3,2346.7 301.2,2344.9 302.1,2343.2 303.0,2341.4 303.8,2339.6 304.6,2337.8 305.4,2336.0 306.1,2334.1 306.9,2332.2 307.6,2330.3 308.3,2328.4 308.9,2326.5 309.6,2324.6 310.2,2322.7 310.8,2320.8 311.4,2318.8 312.0,2316.9 312.6,2314.9 313.2,2313.0 313.7,2311.0 314.3,2309.1 314.8,2307.1 315.4,2305.2 315.9,2303.3 316.5,2301.3 317.0,2299.4 317.5,2297.5 318.1,2295.5 318.6,2293.6 319.1,2291.6 319.6,2289.7 320.1,2287.8 320.6,2285.9 321.1,2283.9 321.6,2282.0 322.1,2280.1 322.6,2278.1 323.0,2276.2 323.5,2274.3 324.0,2272.3 324.4,2270.4 324.9,2268.5 325.3,2266.5 325.7,2264.6 326.2,2262.6 326.6,2260.7 327.0,2258.8 327.4,2256.8 327.8,2254.9 328.2,2252.9 328.6,2251.0 329.0,2249.0 329.4,2247.1 329.8,2245.1 330.1,2243.1 330.5,2241.2 330.9,2239.2 331.2,2237.3 331.6,2235.3 331.9,2233.3 332.3,2231.4 332.6,2229.4 333.0,2227.4 333.3,2225.5 333.7,2223.5 334.0,2221.5 334.4,2219.5 334.7,2217.6 335.0,2215.6 335.4,2213.6 335.7,2211.7 336.1,2209.7 336.4,2207.7 336.7,2205.7 337.1,2203.8 337.4,2201.8 337.8,2199.8 338.1,2197.8 338.5,2195.9 338.8,2193.9 339.2,2191.9 339.5,2190.0 339.9,2188.0 340.3,2186.0 340.6,2184.1 341.0,2182.1 341.4,2180.1 341.8,2178.2 342.2,2176.2 342.6,2174.2 343.0,2172.3 343.4,2170.3 343.8,2168.4 344.3,2166.4 344.7,2164.4 345.1,2162.5 345.6,2160.5 346.0,2158.6 346.5,2156.6 347.0,2154.7 347.5,2152.8 348.0,2150.8 348.5,2148.9 349.0,2146.9 349.5,2145.0 350.0,2143.1 350.6,2141.2 351.2,2139.2 351.7,2137.3 352.3,2135.4 352.9,2133.5 353.5,2131.6 354.1,2129.7 354.7,2127.8 355.4,2125.9 356.0,2124.0 356.7,2122.1 357.4,2120.2 358.1,2118.3 358.8,2116.4 359.5,2114.6 360.2,2112.7 361.0,2110.9 361.7,2109.0 362.5,2107.2 363.2,2105.3 364.0,2103.5 364.8,2101.7 365.7,2099.9 366.5,2098.1 367.3,2096.3 368.2,2094.5 369.1,2092.7 370.0,2091.0 370.9,2089.2 371.8,2087.5 372.7,2085.7 373.6,2084.0 374.6,2082.3 375.6,2080.5 376.6,2078.8 377.6,2077.1 378.7,2075.4 379.8,2073.7 380.9,2072.0 382.1,2070.4 383.3,2068.7 384.6,2067.0 385.8,2065.3 387.2,2063.6 388.6,2061.9 390.0,2060.2 391.5,2058.6 393.0,2057.1 394.5,2055.7 396.0,2054.5 397.6,2053.5 399.2,2052.8 400.7,2052.4 402.3,2052.3 403.8,2052.5 405.4,2053.0 406.9,2053.7 408.4,2054.6 409.8,2055.7 411.2,2056.9 412.5,2058.2 413.8,2059.6 415.1,2061.1 416.3,2062.8 417.5,2064.5 418.6,2066.2 419.7,2068.1 420.7,2069.9 421.7,2071.8 422.7,2073.8 423.6,2075.7 424.5,2077.6 425.4,2079.5 426.3,2081.4 427.2,2083.3 428.1,2085.1 429.0,2086.9 429.8,2088.7 430.7,2090.5 431.5,2092.3 432.4,2094.0 433.2,2095.8 434.0,2097.5 434.8,2099.3 435.7,2101.0 436.5,2102.8 437.2,2104.5 438.0,2106.3 438.8,2108.1 439.6,2109.9 440.3,2111.7 441.1,2113.5 441.9,2115.4 442.6,2117.2 443.4,2119.1 444.1,2121.0 444.9,2122.8 445.6,2124.7 446.3,2126.6 447.1,2128.5 447.8,2130.4 448.6,2132.2 449.3,2134.1 450.1,2136.0 450.8,2137.9 451.6,2139.8 452.3,2141.7 453.1,2143.6 453.9,2145.5 454.6,2147.3 455.4,2149.2 456.2,2151.1 457.0,2152.9 457.8,2154.8 458.6,2156.6 459.5,2158.4 460.3,2160.2 461.2,2162.0 462.0,2163.8 462.9,2165.6 463.8,2167.3 464.7,2169.1 465.6,2170.8 466.5,2172.5 467.5,2174.3 468.4,2176.0 469.4,2177.6 470.4,2179.3 471.4,2181.0 472.5,2182.6 473.5,2184.3 474.6,2185.9 475.7,2187.5 476.8,2189.1 478.0,2190.7 479.2,2192.2 480.4,2193.8 481.6,2195.3 482.9,2196.9 484.2,2198.4 485.5,2199.9 486.8,2201.4 488.2,2202.9 489.6,2204.3 491.0,2205.8 492.5,2207.2 494.0,2208.6 495.5,2210.0 497.0,2211.3 498.6,2212.7 500.2,2214.0 501.8,2215.3 503.5,2216.5 505.2,2217.7 506.9,2218.9 508.6,2220.0 510.3,2221.1 512.1,2222.1 513.9,2223.1 515.7,2224.0 517.5,2224.9 519.3,2225.8 521.2,2226.5 523.0,2227.2 524.9,2227.9 526.8,2228.5 528.7,2229.0 530.7,2229.5 532.6,2229.8 534.5,2230.1 536.5,2230.4 538.5,2230.5 540.4,2230.6 542.4,2230.6 544.4,2230.5 546.4,2230.4 548.4,2230.1 550.3,2229.8 552.3,2229.4 554.3,2229.0 556.2,2228.5 558.1,2227.9 560.0,2227.3 561.9,2226.6 563.8,2225.9 565.6,2225.1 567.4,2224.2 569.1,2223.3 570.9,2222.3 572.6,2221.3 574.2,2220.3 575.9,2219.1 577.4,2218.0 579.0,2216.8 580.6,2215.6 582.1,2214.3 583.5,2213.0 585.0,2211.7 586.4,2210.3 587.8,2209.0 589.2,2207.5 590.5,2206.1 591.8,2204.6 593.1,2203.1 594.4,2201.6 595.7,2200.1 596.9,2198.5 598.1,2197.0 599.3,2195.4 600.5,2193.8 601.6,2192.2 602.8,2190.5 603.9,2188.9 605.0,2187.2 606.1,2185.6 607.2,2183.9 608.3,2182.2 609.4,2180.5 610.5,2178.8 611.5,2177.1 612.6,2175.3 613.6,2173.6 614.7,2171.9 615.7,2170.1 616.8,2168.4 617.8,2166.7 618.8,2164.9 619.9,2163.2 620.9,2161.5 622.0,2159.7 623.0,2158.0 624.1,2156.3 625.2,2154.6 626.2,2152.9 627.3,2151.2 628.4,2149.5 629.5,2147.8 630.6,2146.1 631.7,2144.4 632.8,2142.7 633.9,2141.1 635.0,2139.4 636.1,2137.7 637.3,2136.1 638.4,2134.4 639.5,2132.8 640.7,2131.1 641.9,2129.5 643.0,2127.9 644.2,2126.2 645.4,2124.6 646.5,2123.0 647.7,2121.4 648.9,2119.8 650.1,2118.2 651.3,2116.6 652.5,2115.1 653.8,2113.5 655.0,2111.9 656.2,2110.4 657.5,2108.8 658.7,2107.3 660.0,2105.7 661.3,2104.2 662.5,2102.7 663.8,2101.1 665.1,2099.6 666.4,2098.1 667.7,2096.6 669.0,2095.1 670.3,2093.7 671.7,2092.2 673.0,2090.7 674.3,2089.3 675.7,2087.8 677.0,2086.4 678.4,2084.9 679.8,2083.5 681.2,2082.1 682.6,2080.7 684.0,2079.3 685.4,2077.9 686.8,2076.5 688.2,2075.1 689.7,2073.7 691.1,2072.3 692.6,2071.0 694.0,2069.6 695.5,2068.3 697.0,2067.0 698.5,2065.6 700.0,2064.3 701.5,2063.0 703.1,2061.7 704.6,2060.5 706.2,2059.2 707.8,2057.9 709.4,2056.7 711.1,2055.4 712.7,2054.2 714.4,2053.0 716.1,2051.8 717.9,2050.6 719.6,2049.4 721.4,2048.2 723.2,2047.1 725.0,2046.1 726.8,2045.2 728.6,2044.3 730.5,2043.6 732.3,2043.0 734.1,2042.5 735.8,2042.3 737.6,2042.1 739.3,2042.2 741.0,2042.5 742.7,2043.0 744.3,2043.7 745.9,2044.7 747.4,2045.8 748.9,2047.1 750.3,2048.5 751.8,2050.0 753.2,2051.5 754.5,2053.0 755.9,2054.6 757.2,2056.1 758.5,2057.5 759.7,2059.0 761.0,2060.5 762.2,2062.1 763.4,2063.6 764.6,2065.2 765.8,2066.8 767.0,2068.4 768.2,2070.0 769.3,2071.6 770.5,2073.3 771.6,2075.0 772.8,2076.7 773.9,2078.3 775.0,2080.0 776.2,2081.7 777.3,2083.4 778.5,2085.0 779.7,2086.7 780.8,2088.3 782.0,2089.9 783.2,2091.5 784.4,2093.1 785.6,2094.7 786.8,2096.3 788.0,2097.8 789.2,2099.4 790.5,2100.9 791.7,2102.5 793.0,2104.0 794.2,2105.5 795.5,2107.0 796.8,2108.5 798.0,2110.0 799.3,2111.5 800.6,2113.0 801.9,2114.4 803.2,2115.9 804.6,2117.4 805.9,2118.8 807.2,2120.3 808.5,2121.7 809.9,2123.2 811.2,2124.6 812.6,2126.1 814.0,2127.5 815.3,2129.0 816.7,2130.4 818.1,2131.9 819.5,2133.3 820.9,2134.7 822.3,2136.2 823.7,2137.6 825.2,2139.0 826.6,2140.4 828.0,2141.9 829.5,2143.3 830.9,2144.7 832.4,2146.1 833.8,2147.5 835.3,2148.9 836.8,2150.3 838.3,2151.6 839.8,2153.0 841.2,2154.4 842.8,2155.7 844.3,2157.1 845.8,2158.4 847.3,2159.7 848.8,2161.0 850.4,2162.3 851.9,2163.6 853.4,2164.9 855.0,2166.2 856.6,2167.4 858.1,2168.7 859.7,2169.9 861.3,2171.1 862.9,2172.3 864.4,2173.5 866.0,2174.7 867.6,2175.8 869.2,2177.0 870.8,2178.1 872.5,2179.3 874.1,2180.4 875.7,2181.5 877.3,2182.6 879.0,2183.7 880.6,2184.8 882.2,2185.9 883.9,2187.0 885.5,2188.1 887.2,2189.1 888.8,2190.2 890.5,2191.2 892.1,2192.3 893.8,2193.3 895.5,2194.4 897.2,2195.4 898.8,2196.4 900.5,2197.4 902.2,2198.5 903.9,2199.5 905.5,2200.5 907.2,2201.5 908.9,2202.5 910.6,2203.5 912.3,2204.6 914.0,2205.6 915.7,2206.6 917.3,2207.6 919.0,2208.6 920.7,2209.6 922.4,2210.6 924.1,2211.6 925.8,2212.6 927.5,2213.7 929.2,2214.7 930.9,2215.7 932.6,2216.7 934.3,2217.8 936.0,2218.8 937.7,2219.8 939.4,2220.9 941.0,2221.9 942.7,2223.0 944.4,2224.0 946.1,2225.1 947.8,2226.2 949.5,2227.3 951.2,2228.4 952.8,2229.5 954.5,2230.6 956.2,2231.7 957.9,2232.8 959.5,2233.9 961.2,2235.1 962.8,2236.2 964.5,2237.4 966.1,2238.5 967.8,2239.7 969.4,2240.9 971.1,2242.1 972.7,2243.3 974.3,2244.5 975.9,2245.7 977.5,2247.0 979.1,2248.2 980.7,2249.5 982.2,2250.8 983.8,2252.0 985.4,2253.3 986.9,2254.6 988.4,2255.9 989.9,2257.2 991.4,2258.6 992.9,2259.9 994.4,2261.3 995.9,2262.6 997.3,2264.0 998.7,2265.4 1000.2,2266.8 1001.6,2268.2 1002.9,2269.7 1004.3,2271.1 1005.7,2272.5 1007.0,2274.0 1008.3,2275.5 1009.7,2276.9 1011.0,2278.4 1012.2,2279.9 1013.5,2281.4 1014.8,2283.0 1016.0,2284.5 1017.3,2286.0 1018.5,2287.5 1019.7,2289.1 1020.9,2290.6 1022.1,2292.2 1023.2,2293.8 1024.4,2295.3 1025.5,2296.9 1026.7,2298.5 1027.8,2300.1 1028.9,2301.7 1030.0,2303.3 1031.1,2304.9 1032.2,2306.5 1033.3,2308.1 1034.3,2309.7 1035.4,2311.3 1036.4,2312.9 1037.4,2314.6 1038.5,2316.2 1039.5,2317.8 1040.5,2319.5 1041.5,2321.1 1042.5,2322.7 1043.5,2324.4 1044.5,2326.0 1045.6,2327.7 1046.6,2329.3 1047.6,2331.0 1048.6,2332.6 1049.6,2334.3 1050.6,2336.0 1051.7,2337.6 1052.7,2339.3 1053.7,2341.0 1054.8,2342.7 1055.9,2344.3 1056.9,2346.0 1058.0,2347.7 1059.1,2349.4 1060.2,2351.1 1061.3,2352.8 1062.5,2354.5 1063.6,2356.2 1064.8,2357.9 1066.0,2359.6 1067.2,2361.3 1068.5,2362.9 1069.7,2364.6 1071.0,2366.2 1072.3,2367.8 1073.7,2369.3 1075.1,2370.8 1076.5,2372.2 1077.9,2373.6 1079.4,2374.8 1081.0,2376.0 1082.6,2377.1 1084.2,2378.1 1085.9,2379.0 1087.6,2379.7 1089.4,2380.4 1091.3,2381.0 1093.1,2381.4 1095.0,2381.8 1097.0,2382.2 1098.9,2382.4 1100.9,2382.7 1102.9,2382.8 1104.9,2383.0 1106.9,2383.1 1108.9,2383.2 1111.0,2383.2 1113.0,2383.3 1115.0,2383.4 1117.0,2383.4 1119.0,2383.5 1121.1,2383.5 1123.1,2383.6 1125.1,2383.6 1127.1,2383.7 1129.1,2383.7 1131.1,2383.8 1133.1,2383.8 1135.1,2383.9 1137.1,2383.9 1139.1,2383.9 1141.1,2384.0 1143.1,2384.0 1145.1,2384.0 1147.1,2384.1 1149.1,2384.1 1151.1,2384.1 1153.1,2384.2 1155.1,2384.2 1157.1,2384.2 1159.1,2384.3 1161.0,2384.3 1163.0,2384.3 1165.0,2384.4 1167.0,2384.4 1169.0,2384.5 1171.0,2384.5 1173.0,2384.5 1175.0,2384.6 1177.0,2384.6 1179.0,2384.7 1181.0,2384.7 1183.0,2384.7 1185.0,2384.8 1187.0,2384.8 1189.0,2384.8 1191.0,2384.8 1193.0,2384.8 1195.0,2384.8 1197.0,2384.8 1199.0,2384.8 1201.0,2384.7 1203.0,2384.7 1205.0,2384.7 1207.0,2384.6 1209.0,2384.5 1211.0,2384.5 1213.0,2384.4 1215.0,2384.4 1217.0,2384.3 1219.0,2384.2 1221.0,2384.2 1223.0,2384.1 1225.0,2384.0 1227.0,2384.0 1229.0,2384.0 1231.0,2383.9 1233.0,2383.9 1235.0,2383.8 1237.0,2383.8 1239.0,2383.8 1241.0,2383.8 1243.0,2383.8 1245.0,2383.8 1247.0,2383.8 1249.0,2383.8 1251.0,2383.8 1253.0,2383.8 1255.0,2383.8 1257.0,2383.8 1259.0,2383.8 1261.0,2383.8 1263.0,2383.8 1265.0,2383.9 1267.0,2383.9 1269.0,2383.9 1271.0,2383.9 1273.0,2384.0 1275.0,2384.0 1277.0,2384.0 1279.0,2384.0 1281.0,2384.1 1283.0,2384.1 1285.0,2384.1 1287.0,2384.2 1289.0,2384.2 1291.0,2384.2 1293.0,2384.3 1295.0,2384.3 1297.0,2384.3 1299.0,2384.4 1301.0,2384.4 1303.0,2384.4 1305.0,2384.4 1307.0,2384.5 1309.0,2384.5 1311.0,2384.5 1313.0,2384.5 1315.0,2384.6 1317.0,2384.6 1319.0,2384.6 1321.0,2384.6 1323.0,2384.6 1325.0,2384.6 1327.0,2384.6 1329.0,2384.6 1331.0,2384.6 1333.0,2384.6 1335.0,2384.6 1337.0,2384.5 1339.0,2384.5 1341.0,2384.5 1343.0,2384.5 1345.0,2384.4 1347.0,2384.4 1349.0,2384.3 1351.0,2384.3 1353.0,2384.2 1355.0,2384.2 1357.0,2384.1 1359.0,2384.1 1361.0,2384.0 1363.0,2383.9 1365.0,2383.9 1367.0,2383.8 1369.0,2383.7 1371.0,2383.7 1373.0,2383.6 1375.0,2383.5 1377.0,2383.5 1379.0,2383.4 1381.0,2383.3 1383.0,2383.3 1385.0,2383.2 1387.0,2383.1 1389.0,2383.0 1391.0,2383.0 1393.0,2382.9 1395.0,2382.8 1397.0,2382.8 1399.0,2382.7 1401.0,2382.7 1403.0,2382.6 1405.0,2382.5 1407.0,2382.5 1409.0,2382.4 1411.0,2382.4 1413.0,2382.4 1415.0,2382.3 1417.0,2382.3 1419.0,2382.2 1421.0,2382.2 1423.0,2382.2 1425.0,2382.2 1427.0,2382.2 1429.0,2382.2 1431.0,2382.2 1433.0,2382.2 1435.0,2382.2 1437.0,2382.2 1439.0,2382.2 1441.0,2382.3 1443.0,2382.3 1445.0,2382.3 1447.0,2382.4 1449.0,2382.5 1451.0,2382.5 1453.0,2382.6" transform="translate(0,-1950.0)" fill="none" stroke="#000" stroke-width="6.2" stroke-dasharray="5.2 11.8 38.4 11.8 38.8 11.0 32.4 11.0 38.8 12.0 39.7 12.2 40.0 12.0 38.3 11.5 36.8 10.4 31.1 9.0 26.7 9.6 35.5 10.8 35.7 10.8 34.7 10.1 30.7 10.2 35.7 10.0 29.8 9.3 30.4 9.9 34.4 9.9 30.1 9.6 32.1 9.7 31.4 9.3 28.9 9.4 32.5 9.6 29.9 9.6 32.6 9.4 28.8 9.3 31.8 9.7 31.7 9.6 30.6 9.4 30.7 9.6 31.8 9.6 30.8 10.0 34.1 10.5 34.5 11.2 38.6 11.8 38.2 11.7 38.3 11.8 38.2 11.7 38.2 11.8 38.3 11.8 39.1 0.0" stroke-linejoin="round"/>
<path d="M180.0,2382.9L181.9,2383.1 184.0,2383.2 186.0,2383.3 188.0,2383.4 190.1,2383.5 192.1,2383.5 194.1,2383.6 196.1,2383.6 198.2,2383.6 200.2,2383.6 202.1,2383.5 204.1,2383.5 206.1,2383.4 208.1,2383.4 210.1,2383.3 212.0,2383.2 214.0,2383.1 216.0,2382.9 218.0,2382.8 219.9,2382.7 221.9,2382.5 223.9,2382.4 225.8,2382.2 227.8,2382.0 229.8,2381.9 231.7,2381.7 233.7,2381.5 235.7,2381.3 237.7,2381.1 239.7,2380.9 241.7,2380.7 243.7,2380.5 245.7,2380.3 247.7,2380.1 249.6,2379.9 251.6,2379.6 253.6,2379.3 255.6,2379.0 257.6,2378.6 259.5,2378.2 261.4,2377.7 263.3,2377.2 265.2,2376.6 267.1,2376.0 269.0,2375.3 270.8,2374.5 272.6,2373.7 274.4,2372.8 276.1,2371.9 277.8,2370.8 279.5,2369.8 281.1,2368.6 282.7,2367.5 284.3,2366.2 285.8,2365.0 287.2,2363.6 288.7,2362.3 290.0,2360.9 291.3,2359.4 292.6,2358.0 293.8,2356.4 295.0,2354.9 296.1,2353.3 297.2,2351.7 298.3,2350.0 299.3,2348.4 300.3,2346.7 301.2,2344.9 302.1,2343.2 303.0,2341.4 303.8,2339.6 304.6,2337.8 305.4,2336.0 306.1,2334.1 306.9,2332.2 307.6,2330.3 308.3,2328.4 308.9,2326.5 309.6,2324.6 310.2,2322.7 310.8,2320.8 311.4,2318.8 312.0,2316.9 312.6,2314.9 313.2,2313.0 313.7,2311.0 314.3,2309.1 314.8,2307.1 315.4,2305.2 315.9,2303.3 316.5,2301.3 317.0,2299.4 317.5,2297.5 318.1,2295.5 318.6,2293.6 319.1,2291.6 319.6,2289.7 320.1,2287.8 320.6,2285.9 321.1,2283.9 321.6,2282.0 322.1,2280.1 322.6,2278.1 323.0,2276.2 323.5,2274.3 324.0,2272.3 324.4,2270.4 324.9,2268.5 325.3,2266.5 325.7,2264.6 326.2,2262.6 326.6,2260.7 327.0,2258.8 327.4,2256.8 327.8,2254.9 328.2,2252.9 328.6,2251.0 329.0,2249.0 329.4,2247.1 329.8,2245.1 330.1,2243.1 330.5,2241.2 330.9,2239.2 331.2,2237.3 331.6,2235.3 331.9,2233.3 332.3,2231.4 332.6,2229.4 333.0,2227.4 333.3,2225.5 333.7,2223.5 334.0,2221.5 334.4,2219.5 334.7,2217.6 335.0,2215.6 335.4,2213.6 335.7,2211.7 336.1,2209.7 336.4,2207.7 336.7,2205.7 337.1,2203.8 337.4,2201.8 337.8,2199.8 338.1,2197.8 338.5,2195.9 338.8,2193.9 339.2,2191.9 339.5,2190.0 339.9,2188.0 340.3,2186.0 340.6,2184.1 341.0,2182.1 341.4,2180.1 341.8,2178.2 342.2,2176.2 342.6,2174.2 343.0,2172.3 343.4,2170.3 343.8,2168.4 344.3,2166.4 344.7,2164.4 345.1,2162.5 345.6,2160.5 346.0,2158.6 346.5,2156.6 347.0,2154.7 347.5,2152.8 348.0,2150.8 348.5,2148.9 349.0,2146.9 349.5,2145.0 350.0,2143.1 350.6,2141.2 351.2,2139.2 351.7,2137.3 352.3,2135.4 352.9,2133.5 353.5,2131.6 354.1,2129.7 354.7,2127.8 355.4,2125.9 356.0,2124.0 356.7,2122.1 357.4,2120.2 358.1,2118.3 358.8,2116.4 359.5,2114.6 360.2,2112.7 361.0,2110.9 361.7,2109.0 362.5,2107.2 363.2,2105.3 364.0,2103.5 364.8,2101.7 365.7,2099.9 366.5,2098.1 367.3,2096.3 368.2,2094.5 369.1,2092.7 370.0,2091.0 370.9,2089.2 371.8,2087.5 372.7,2085.7 373.6,2084.0 374.6,2082.3 375.6,2080.5 376.6,2078.8 377.6,2077.1 378.7,2075.4 379.8,2073.7 380.9,2072.0 382.1,2070.4 383.3,2068.7 384.6,2067.0 385.8,2065.3 387.2,2063.6 388.6,2061.9 390.0,2060.2 391.5,2058.6 393.0,2057.1 394.5,2055.7 396.0,2054.5 397.6,2053.5 399.2,2052.8 400.7,2052.4 402.3,2052.3 403.8,2052.5 405.4,2053.0 406.9,2053.7 408.4,2054.6 409.8,2055.7 411.2,2056.9 412.5,2058.2 413.8,2059.6 415.1,2061.1 416.3,2062.8 417.5,2064.5 418.6,2066.2 419.7,2068.1 420.7,2069.9 421.7,2071.8 422.7,2073.8 423.6,2075.7 424.5,2077.6 425.4,2079.5 426.3,2081.4 427.2,2083.3 428.1,2085.1 429.0,2086.9 429.8,2088.7 430.7,2090.5 431.5,2092.3 432.4,2094.0 433.2,2095.8 434.0,2097.5 434.8,2099.3 435.7,2101.0 436.5,2102.8 437.2,2104.5 438.0,2106.3 438.8,2108.1 439.6,2109.9 440.3,2111.7 441.1,2113.5 441.9,2115.4 442.6,2117.2 443.4,2119.1 444.1,2121.0 444.9,2122.8 445.6,2124.7 446.3,2126.6 447.1,2128.5 447.8,2130.4 448.6,2132.2 449.3,2134.1 450.1,2136.0 450.8,2137.9 451.6,2139.8 452.3,2141.7 453.1,2143.6 453.9,2145.5 454.6,2147.3 455.4,2149.2 456.2,2151.1 457.0,2152.9 457.8,2154.8 458.6,2156.6 459.5,2158.4 460.3,2160.2 461.2,2162.0 462.0,2163.8 462.9,2165.6 463.8,2167.3 464.7,2169.1 465.6,2170.8 466.5,2172.5 467.5,2174.3 468.4,2176.0 469.4,2177.6 470.4,2179.3 471.4,2181.0 472.5,2182.6 473.5,2184.3 474.6,2185.9 475.7,2187.5 476.8,2189.1 478.0,2190.7 479.2,2192.2 480.4,2193.8 481.6,2195.3 482.9,2196.9 484.2,2198.4 485.5,2199.9 486.8,2201.4 488.2,2202.9 489.6,2204.3 491.0,2205.8 492.5,2207.2 494.0,2208.6 495.5,2210.0 497.0,2211.3 498.6,2212.7 500.2,2214.0 501.8,2215.3 503.5,2216.5 505.2,2217.7 506.9,2218.9 508.6,2220.0 510.3,2221.1 512.1,2222.1 513.9,2223.1 515.7,2224.0 517.5,2224.9 519.3,2225.8 521.2,2226.5 523.0,2227.2 524.9,2227.9 526.8,2228.5 528.7,2229.0 530.7,2229.5 532.6,2229.8 534.5,2230.1 536.5,2230.4 538.5,2230.5 540.4,2230.6 542.4,2230.6 544.4,2230.5 546.4,2230.4 548.4,2230.1 550.3,2229.8 552.3,2229.4 554.3,2229.0 556.2,2228.5 558.1,2227.9 560.0,2227.3 561.9,2226.6 563.8,2225.9 565.6,2225.1 567.4,2224.2 569.1,2223.3 570.9,2222.3 572.6,2221.3 574.2,2220.3 575.9,2219.1 577.4,2218.0 579.0,2216.8 580.6,2215.6 582.1,2214.3 583.5,2213.0 585.0,2211.7 586.4,2210.3 587.8,2209.0 589.2,2207.5 590.5,2206.1 591.8,2204.6 593.1,2203.1 594.4,2201.6 595.7,2200.1 596.9,2198.5 598.1,2197.0 599.3,2195.4 600.5,2193.8 601.6,2192.2 602.8,2190.5 603.9,2188.9 605.0,2187.2 606.1,2185.6 607.2,2183.9 608.3,2182.2 609.4,2180.5 610.5,2178.8 611.5,2177.1 612.6,2175.3 613.6,2173.6 614.7,2171.9 615.7,2170.1 616.8,2168.4 617.8,2166.7 618.8,2164.9 619.9,2163.2 620.9,2161.5 622.0,2159.7 623.0,2158.0 624.1,2156.3 625.2,2154.6 626.2,2152.9 627.3,2151.2 628.4,2149.5 629.5,2147.8 630.6,2146.1 631.7,2144.4 632.8,2142.7 633.9,2141.1 635.0,2139.4 636.1,2137.7 637.3,2136.1 638.4,2134.4 639.5,2132.8 640.7,2131.1 641.9,2129.5 643.0,2127.9 644.2,2126.2 645.4,2124.6 646.5,2123.0 647.7,2121.4 648.9,2119.8 650.1,2118.2 651.3,2116.6 652.5,2115.1 653.8,2113.5 655.0,2111.9 656.2,2110.4 657.5,2108.8 658.7,2107.3 660.0,2105.7 661.3,2104.2 662.5,2102.7 663.8,2101.1 665.1,2099.6 666.4,2098.1 667.7,2096.6 669.0,2095.1 670.3,2093.7 671.7,2092.2 673.0,2090.7 674.3,2089.3 675.7,2087.8 677.0,2086.4 678.4,2084.9 679.8,2083.5 681.2,2082.1 682.6,2080.7 684.0,2079.3 685.4,2077.9 686.8,2076.5 688.2,2075.1 689.7,2073.7 691.1,2072.3 692.6,2071.0 694.0,2069.6 695.5,2068.3 697.0,2067.0 698.5,2065.6 700.0,2064.3 701.5,2063.0 703.1,2061.7 704.6,2060.5 706.2,2059.2 707.8,2057.9 709.4,2056.7 711.1,2055.4 712.7,2054.2 714.4,2053.0 716.1,2051.8 717.9,2050.6 719.6,2049.4 721.4,2048.2 723.2,2047.1 725.0,2046.1 726.8,2045.2 728.6,2044.3 730.5,2043.6 732.3,2043.0 734.1,2042.5 735.8,2042.3 737.6,2042.1 739.3,2042.2 741.0,2042.5 742.7,2043.0 744.3,2043.7 745.9,2044.7 747.4,2045.8 748.9,2047.1 750.3,2048.5 751.8,2050.0 753.2,2051.5 754.5,2053.0 755.9,2054.6 757.2,2056.1 758.5,2057.5 759.7,2059.0 761.0,2060.5 762.2,2062.1 763.4,2063.6 764.6,2065.2 765.8,2066.8 767.0,2068.4 768.2,2070.0 769.3,2071.6 770.5,2073.3 771.6,2075.0 772.8,2076.7 773.9,2078.3 775.0,2080.0 776.2,2081.7 777.3,2083.4 778.5,2085.0 779.7,2086.7 780.8,2088.3 782.0,2089.9 783.2,2091.5 784.4,2093.1 785.6,2094.7 786.8,2096.3 788.0,2097.8 789.2,2099.4 790.5,2100.9 791.7,2102.5 793.0,2104.0 794.2,2105.5 795.5,2107.0 796.8,2108.5 798.0,2110.0 799.3,2111.5 800.6,2113.0 801.9,2114.4 803.2,2115.9 804.6,2117.4 805.9,2118.8 807.2,2120.3 808.5,2121.7 809.9,2123.2 811.2,2124.6 812.6,2126.1 814.0,2127.5 815.3,2129.0 816.7,2130.4 818.1,2131.9 819.5,2133.3 820.9,2134.7 822.3,2136.2 823.7,2137.6 825.2,2139.0 826.6,2140.4 828.0,2141.9 829.5,2143.3 830.9,2144.7 832.4,2146.1 833.8,2147.5 835.3,2148.9 836.8,2150.3 838.3,2151.6 839.8,2153.0 841.2,2154.4 842.8,2155.7 844.3,2157.1 845.8,2158.4 847.3,2159.7 848.8,2161.0 850.4,2162.3 851.9,2163.6 853.4,2164.9 855.0,2166.2 856.6,2167.4 858.1,2168.7 859.7,2169.9 861.3,2171.1 862.9,2172.3 864.4,2173.5 866.0,2174.7 867.6,2175.8 869.2,2177.0 870.8,2178.1 872.5,2179.3 874.1,2180.4 875.7,2181.5 877.3,2182.6 879.0,2183.7 880.6,2184.8 882.2,2185.9 883.9,2187.0 885.5,2188.1 887.2,2189.1 888.8,2190.2 890.5,2191.2 892.1,2192.3 893.8,2193.3 895.5,2194.4 897.2,2195.4 898.8,2196.4 900.5,2197.4 902.2,2198.5 903.9,2199.5 905.5,2200.5 907.2,2201.5 908.9,2202.5 910.6,2203.5 912.3,2204.6 914.0,2205.6 915.7,2206.6 917.3,2207.6 919.0,2208.6 920.7,2209.6 922.4,2210.6 924.1,2211.6 925.8,2212.6 927.5,2213.7 929.2,2214.7 930.9,2215.7 932.6,2216.7 934.3,2217.8 936.0,2218.8 937.7,2219.8 939.4,2220.9 941.0,2221.9 942.7,2223.0 944.4,2224.0 946.1,2225.1 947.8,2226.2 949.5,2227.3 951.2,2228.4 952.8,2229.5 954.5,2230.6 956.2,2231.7 957.9,2232.8 959.5,2233.9 961.2,2235.1 962.8,2236.2 964.5,2237.4 966.1,2238.5 967.8,2239.7 969.4,2240.9 971.1,2242.1 972.7,2243.3 974.3,2244.5 975.9,2245.7 977.5,2247.0 979.1,2248.2 980.7,2249.5 982.2,2250.8 983.8,2252.0 985.4,2253.3 986.9,2254.6 988.4,2255.9 989.9,2257.2 991.4,2258.6 992.9,2259.9 994.4,2261.3 995.9,2262.6 997.3,2264.0 998.7,2265.4 1000.2,2266.8 1001.6,2268.2 1002.9,2269.7 1004.3,2271.1 1005.7,2272.5 1007.0,2274.0 1008.3,2275.5 1009.7,2276.9 1011.0,2278.4 1012.2,2279.9 1013.5,2281.4 1014.8,2283.0 1016.0,2284.5 1017.3,2286.0 1018.5,2287.5 1019.7,2289.1 1020.9,2290.6 1022.1,2292.2 1023.2,2293.8 1024.4,2295.3 1025.5,2296.9 1026.7,2298.5 1027.8,2300.1 1028.9,2301.7 1030.0,2303.3 1031.1,2304.9 1032.2,2306.5 1033.3,2308.1 1034.3,2309.7 1035.4,2311.3 1036.4,2312.9 1037.4,2314.6 1038.5,2316.2 1039.5,2317.8 1040.5,2319.5 1041.5,2321.1 1042.5,2322.7 1043.5,2324.4 1044.5,2326.0 1045.6,2327.7 1046.6,2329.3 1047.6,2331.0 1048.6,2332.6 1049.6,2334.3 1050.6,2336.0 1051.7,2337.6 1052.7,2339.3 1053.7,2341.0 1054.8,2342.7 1055.9,2344.3 1056.9,2346.0 1058.0,2347.7 1059.1,2349.4 1060.2,2351.1 1061.3,2352.8 1062.5,2354.5 1063.6,2356.2 1064.8,2357.9 1066.0,2359.6 1067.2,2361.3 1068.5,2362.9 1069.7,2364.6 1071.0,2366.2 1072.3,2367.8 1073.7,2369.3 1075.1,2370.8 1076.5,2372.2 1077.9,2373.6 1079.4,2374.8 1081.0,2376.0 1082.6,2377.1 1084.2,2378.1 1085.9,2379.0 1087.6,2379.7 1089.4,2380.4 1091.3,2381.0 1093.1,2381.4 1095.0,2381.8 1097.0,2382.2 1098.9,2382.4 1100.9,2382.7 1102.9,2382.8 1104.9,2383.0 1106.9,2383.1 1108.9,2383.2 1111.0,2383.2 1113.0,2383.3 1115.0,2383.4 1117.0,2383.4 1119.0,2383.5 1121.1,2383.5 1123.1,2383.6 1125.1,2383.6 1127.1,2383.7 1129.1,2383.7 1131.1,2383.8 1133.1,2383.8 1135.1,2383.9 1137.1,2383.9 1139.1,2383.9 1141.1,2384.0 1143.1,2384.0 1145.1,2384.0 1147.1,2384.1 1149.1,2384.1 1151.1,2384.1 1153.1,2384.2 1155.1,2384.2 1157.1,2384.2 1159.1,2384.3 1161.0,2384.3 1163.0,2384.3 1165.0,2384.4 1167.0,2384.4 1169.0,2384.5 1171.0,2384.5 1173.0,2384.5 1175.0,2384.6 1177.0,2384.6 1179.0,2384.7 1181.0,2384.7 1183.0,2384.7 1185.0,2384.8 1187.0,2384.8 1189.0,2384.8 1191.0,2384.8 1193.0,2384.8 1195.0,2384.8 1197.0,2384.8 1199.0,2384.8 1201.0,2384.7 1203.0,2384.7 1205.0,2384.7 1207.0,2384.6 1209.0,2384.5 1211.0,2384.5 1213.0,2384.4 1215.0,2384.4 1217.0,2384.3 1219.0,2384.2 1221.0,2384.2 1223.0,2384.1 1225.0,2384.0 1227.0,2384.0 1229.0,2384.0 1231.0,2383.9 1233.0,2383.9 1235.0,2383.8 1237.0,2383.8 1239.0,2383.8 1241.0,2383.8 1243.0,2383.8 1245.0,2383.8 1247.0,2383.8 1249.0,2383.8 1251.0,2383.8 1253.0,2383.8 1255.0,2383.8 1257.0,2383.8 1259.0,2383.8 1261.0,2383.8 1263.0,2383.8 1265.0,2383.9 1267.0,2383.9 1269.0,2383.9 1271.0,2383.9 1273.0,2384.0 1275.0,2384.0 1277.0,2384.0 1279.0,2384.0 1281.0,2384.1 1283.0,2384.1 1285.0,2384.1 1287.0,2384.2 1289.0,2384.2 1291.0,2384.2 1293.0,2384.3 1295.0,2384.3 1297.0,2384.3 1299.0,2384.4 1301.0,2384.4 1303.0,2384.4 1305.0,2384.4 1307.0,2384.5 1309.0,2384.5 1311.0,2384.5 1313.0,2384.5 1315.0,2384.6 1317.0,2384.6 1319.0,2384.6 1321.0,2384.6 1323.0,2384.6 1325.0,2384.6 1327.0,2384.6 1329.0,2384.6 1331.0,2384.6 1333.0,2384.6 1335.0,2384.6 1337.0,2384.5 1339.0,2384.5 1341.0,2384.5 1343.0,2384.5 1345.0,2384.4 1347.0,2384.4 1349.0,2384.3 1351.0,2384.3 1353.0,2384.2 1355.0,2384.2 1357.0,2384.1 1359.0,2384.1 1361.0,2384.0 1363.0,2383.9 1365.0,2383.9 1367.0,2383.8 1369.0,2383.7 1371.0,2383.7 1373.0,2383.6 1375.0,2383.5 1377.0,2383.5 1379.0,2383.4 1381.0,2383.3 1383.0,2383.3 1385.0,2383.2 1387.0,2383.1 1389.0,2383.0 1391.0,2383.0 1393.0,2382.9 1395.0,2382.8 1397.0,2382.8 1399.0,2382.7 1401.0,2382.7 1403.0,2382.6 1405.0,2382.5 1407.0,2382.5 1409.0,2382.4 1411.0,2382.4 1413.0,2382.4 1415.0,2382.3 1417.0,2382.3 1419.0,2382.2 1421.0,2382.2 1423.0,2382.2 1425.0,2382.2 1427.0,2382.2 1429.0,2382.2 1431.0,2382.2 1433.0,2382.2 1435.0,2382.2 1437.0,2382.2 1439.0,2382.2 1441.0,2382.3 1443.0,2382.3 1445.0,2382.3 1447.0,2382.4 1449.0,2382.5 1451.0,2382.5 1453.0,2382.6" fill="none" stroke="#000" stroke-width="7.0" stroke-linejoin="round"/>
<path d="M180.0,429.4L182.5,429.4 185.0,429.3 187.5,429.3 190.0,429.3 192.5,429.2 195.0,429.2 197.5,429.2 200.0,429.2 202.5,429.2 205.0,429.2 207.5,429.2 210.0,429.3 212.5,429.3 215.0,429.3 217.5,429.3 220.0,429.4 222.5,429.4 225.0,429.5 227.5,429.5 230.1,429.6 232.6,429.6 235.1,429.7 237.6,429.8 240.1,429.9 242.6,429.9 245.1,430.0 247.6,430.1 250.1,430.2 252.6,430.3 255.1,430.4 257.6,430.4 260.1,430.5 262.6,430.6 265.1,430.7 267.6,430.8 270.1,430.9 272.6,431.0 275.1,431.1 277.6,431.2 280.1,431.3 282.6,431.4 285.1,431.6 287.6,431.7 290.1,431.8 292.6,431.9 295.1,432.0 297.6,432.1 300.1,432.2 302.6,432.3 305.1,432.4 307.6,432.5 310.1,432.6 312.6,432.7 315.1,432.8 317.7,432.9 320.2,432.9 322.7,433.0 325.2,433.1 327.7,433.2 330.2,433.3 332.7,433.4 335.2,433.4 337.7,433.5 340.2,433.6 342.7,433.6 345.2,433.7 347.7,433.7 350.2,433.8 352.7,433.8 355.2,433.9 357.7,433.9 360.2,433.9 362.7,434.0 365.2,434.0 367.7,434.0 370.2,434.0 372.7,434.1 375.2,434.1 377.7,434.1 380.2,434.1 382.7,434.1 385.2,434.1 387.7,434.1 390.2,434.1 392.7,434.1 395.2,434.1 397.7,434.1 400.2,434.1 402.8,434.1 405.3,434.1 407.8,434.1 410.3,434.1 412.8,434.1 415.3,434.1 417.8,434.1 420.3,434.1 422.8,434.1 425.3,434.1 427.8,434.1 430.3,434.1 432.8,434.1 435.3,434.1 437.8,434.1 440.3,434.1 442.8,434.1 445.3,434.1 447.8,434.1 450.3,434.1 452.8,434.1 455.3,434.1 457.8,434.1 460.3,434.1 462.8,434.1 465.3,434.1 467.8,434.1 470.3,434.1 472.8,434.1 475.3,434.1 477.8,434.1 480.3,434.1 482.9,434.1 485.4,434.1 487.9,434.1 490.4,434.1 492.9,434.1 495.4,434.1 497.9,434.1 500.4,434.1 502.9,434.2 505.4,434.2 507.9,434.2 510.4,434.2 512.9,434.2 515.4,434.2 517.9,434.2 520.4,434.2 522.9,434.2 525.4,434.2 527.9,434.2 530.4,434.2 532.9,434.2 535.4,434.2 537.9,434.2 540.4,434.2 542.9,434.2 545.4,434.2 547.9,434.2 550.4,434.2 552.9,434.2 555.4,434.2 558.0,434.2 560.5,434.2 563.0,434.2 565.5,434.2 568.0,434.2 570.5,434.2 573.0,434.2 575.5,434.2 578.0,434.2 580.5,434.2 583.0,434.2 585.5,434.2 588.0,434.2 590.5,434.2 593.0,434.2 595.5,434.2 598.0,434.2 600.5,434.2 603.0,434.2 605.5,434.2 608.0,434.2 610.5,434.2 613.0,434.2 615.5,434.2 618.0,434.2 620.5,434.2 623.0,434.2 625.5,434.2 628.1,434.2 630.6,434.2 633.1,434.2 635.6,434.2 638.1,434.2 640.6,434.2 643.1,434.2 645.6,434.2 648.1,434.2 650.6,434.2 653.1,434.2 655.6,434.2 658.1,434.2 660.6,434.2 663.1,434.2 665.6,434.2 668.1,434.2 670.6,434.2 673.1,434.2 675.6,434.2 678.1,434.2 680.6,434.2 683.1,434.2 685.6,434.2 688.1,434.2 690.7,434.2 693.2,434.2 695.7,434.2 698.2,434.2 700.7,434.2 703.2,434.1 705.7,434.1 708.2,434.1 710.7,434.1 713.2,434.1 715.7,434.1 718.2,434.1 720.7,434.1 723.2,434.1 725.7,434.1 728.2,434.1 730.7,434.1 733.2,434.1 735.7,434.1 738.2,434.1 740.7,434.1 743.2,434.1 745.7,434.1 748.3,434.1 750.8,434.1 753.3,434.1 755.8,434.0 758.3,434.0 760.8,434.0 763.3,434.0 765.8,434.0 768.3,434.0 770.8,434.0 773.3,434.0 775.8,434.0 778.3,434.0 780.8,434.0 783.3,434.0 785.8,434.0 788.3,434.0 790.8,434.0 793.3,434.0 795.8,433.9 798.3,433.9 800.9,433.9 803.4,433.9 805.9,433.9 808.4,433.9 810.9,433.9 813.4,433.9 815.9,433.9 818.4,433.9 820.9,433.9 823.4,433.9 825.9,433.9 828.4,433.9 830.9,433.9 833.4,433.8 835.9,433.8 838.4,433.8 840.9,433.8 843.4,433.8 845.9,433.8 848.4,433.8 851.0,433.8 853.5,433.8 856.0,433.8 858.5,433.8 861.0,433.7 863.5,433.7 866.0,433.7 868.5,433.7 871.0,433.7 873.5,433.6 876.0,433.6 878.5,433.6 881.0,433.6 883.5,433.5 886.0,433.5 888.5,433.5 891.0,433.4 893.5,433.4 896.0,433.3 898.5,433.3 901.0,433.2 903.5,433.2 906.0,433.1 908.5,433.0 911.0,433.0 913.5,432.9 916.0,432.8 918.5,432.7 921.0,432.7 923.5,432.6 926.0,432.5 928.5,432.4 931.0,432.3 933.5,432.1 936.0,432.0 938.5,431.9 941.0,431.8 943.5,431.6 945.9,431.5 948.4,431.3 950.9,431.1 953.4,430.9 955.9,430.7 958.4,430.5 960.9,430.3 963.4,430.1 965.9,429.9 968.3,429.6 970.8,429.3 973.3,429.1 975.8,428.8 978.3,428.5 980.7,428.1 983.2,427.8 985.7,427.5 988.2,427.1 990.7,426.7 993.1,426.3 995.6,425.9 998.1,425.5 1000.6,425.0 1003.0,424.5 1005.5,424.0 1008.0,423.5 1010.4,423.0 1012.9,422.5 1015.4,421.9 1017.8,421.4 1020.3,420.8 1022.7,420.2 1025.2,419.6 1027.6,419.0 1030.1,418.4 1032.5,417.8 1035.0,417.2 1037.4,416.5 1039.8,415.9 1042.3,415.3 1044.7,414.6 1047.1,414.0 1049.5,413.3 1051.9,412.7 1054.4,412.0 1056.8,411.3 1059.1,410.6 1061.5,410.0 1063.9,409.3 1066.3,408.5 1068.7,407.8 1071.0,407.1 1073.4,406.3 1075.8,405.6 1078.1,404.8 1080.4,404.0 1082.8,403.2 1085.1,402.4 1087.4,401.5 1089.7,400.6 1092.0,399.7 1094.3,398.8 1096.6,397.8 1098.9,396.8 1101.2,395.8 1103.5,394.7 1105.8,393.6 1108.1,392.5 1110.4,391.4 1112.6,390.2 1114.9,389.1 1117.2,388.0 1119.5,386.9 1121.7,385.8 1124.0,384.8 1126.3,383.7 1128.6,382.7 1130.8,381.6 1133.1,380.6 1135.4,379.6 1137.7,378.6 1139.9,377.6 1142.2,376.6 1144.5,375.6 1146.8,374.6 1149.1,373.7 1151.4,372.7 1153.7,371.7 1156.0,370.7 1158.3,369.8 1160.6,368.8 1162.9,367.9 1165.2,366.9 1167.6,366.0 1169.9,365.0 1172.2,364.1 1174.6,363.2 1176.9,362.3 1179.3,361.4 1181.6,360.5 1184.0,359.6 1186.4,358.7 1188.7,357.9 1191.1,357.1 1193.5,356.3 1195.9,355.5 1198.3,354.7 1200.7,354.0 1203.1,353.2 1205.5,352.5 1207.9,351.8 1210.3,351.2 1212.7,350.5 1215.1,349.9 1217.6,349.3 1220.0,348.8 1222.4,348.2 1224.9,347.8 1227.3,347.3 1229.8,346.8 1232.2,346.4 1234.7,346.1 1237.2,345.7 1239.6,345.4 1242.1,345.2 1244.6,344.9 1247.1,344.7 1249.5,344.6 1252.0,344.5 1254.5,344.4 1257.0,344.4 1259.5,344.4 1261.9,344.4 1264.4,344.5 1266.9,344.6 1269.4,344.8 1271.9,345.0 1274.3,345.3 1276.8,345.6 1279.3,346.0 1281.7,346.4 1284.2,346.8 1286.6,347.3 1289.1,347.8 1291.5,348.4 1294.0,349.0 1296.4,349.7 1298.8,350.4 1301.2,351.2 1303.6,352.0 1306.0,352.8 1308.4,353.7 1310.7,354.6 1313.1,355.6 1315.4,356.6 1317.8,357.6 1320.1,358.7 1322.4,359.7 1324.8,360.8 1327.1,361.9 1329.4,363.0 1331.7,364.1 1334.0,365.1 1336.3,366.1 1338.6,367.2 1340.9,368.1 1343.2,369.0 1345.5,369.9 1347.8,370.7 1350.2,371.5 1352.5,372.2 1354.8,372.8 1357.2,373.3 1359.5,373.8 1361.8,374.2 1364.2,374.5 1366.5,374.8 1368.8,375.0 1371.1,375.1 1373.4,375.2 1375.7,375.5 1378.0,376.0 1380.2,377.0 1382.4,378.3 1384.6,379.8 1386.8,381.4 1388.9,383.0 1391.0,384.5 1393.1,386.1 1395.2,387.6 1397.2,389.2 1399.2,390.7 1401.3,392.2 1403.3,393.7 1405.2,395.1 1407.2,396.6 1409.2,398.1 1411.2,399.5 1413.1,401.0 1415.1,402.4 1417.1,403.8 1419.1,405.3 1421.1,406.7 1423.0,408.1 1425.1,409.5 1427.1,410.9 1429.1,412.3 1431.2,413.6 1433.3,415.0 1435.4,416.3 1437.5,417.7 1439.6,419.0 1441.8,420.3 1444.0,421.5 1446.3,422.8 1448.6,424.0 1450.9,425.2 1453.0,426.4" fill="none" stroke="#7f7f00" stroke-width="7.5" stroke-linejoin="round"/>
<path d="M180.0,822.2L181.7,822.2 184.3,822.2 186.9,822.2 189.5,822.2 192.1,822.2 194.7,822.2 197.4,822.3 199.9,822.3 202.5,822.4 205.1,822.4 207.7,822.5 210.3,822.6 212.8,822.6 215.4,822.7 218.0,822.7 220.5,822.8 223.0,822.9 225.6,822.9 228.1,822.9 230.6,823.0 233.2,823.0 235.7,823.0 238.2,823.1 240.7,823.1 243.2,823.1 245.7,823.0 248.2,823.0 250.6,822.9 253.1,822.9 255.6,822.8 258.0,822.7 260.5,822.6 262.9,822.4 265.4,822.3 267.8,822.1 270.3,821.9 272.7,821.7 275.1,821.4 277.5,821.1 279.9,820.8 282.3,820.5 284.7,820.2 287.1,819.8 289.5,819.4 291.9,818.9 294.3,818.5 296.7,818.0 299.0,817.5 301.4,816.9 303.8,816.3 306.1,815.7 308.5,815.1 310.9,814.4 313.2,813.7 315.5,813.0 317.9,812.2 320.2,811.4 322.6,810.6 324.9,809.7 327.2,808.8 329.5,807.9 331.9,806.9 334.2,805.9 336.5,804.9 338.8,803.8 341.1,802.6 343.4,801.5 345.8,800.3 348.1,799.1 350.4,797.8 352.7,796.5 355.0,795.3 357.3,794.0 359.6,792.7 361.9,791.4 364.2,790.1 366.5,788.9 368.7,787.6 371.0,786.4 373.3,785.2 375.6,784.1 377.9,783.0 380.2,781.9 382.5,780.9 384.8,779.9 387.1,779.0 389.4,778.2 391.7,777.4 394.0,776.7 396.4,776.0 398.7,775.5 401.0,775.0 403.3,774.5 405.6,774.2 407.9,773.9 410.3,773.8 412.6,773.7 414.9,773.7 417.3,773.8 419.6,774.0 421.9,774.4 424.3,774.8 426.6,775.3 429.0,775.8 431.3,776.5 433.7,777.2 436.1,777.9 438.4,778.8 440.8,779.6 443.2,780.5 445.6,781.4 448.0,782.3 450.3,783.3 452.7,784.2 455.1,785.2 457.5,786.1 459.9,787.0 462.3,787.9 464.7,788.8 467.1,789.7 469.5,790.5 472.0,791.3 474.4,792.2 476.8,792.9 479.2,793.7 481.6,794.4 484.0,795.2 486.5,795.9 488.9,796.5 491.3,797.2 493.8,797.8 496.2,798.5 498.6,799.0 501.1,799.6 503.5,800.2 505.9,800.7 508.4,801.2 510.8,801.7 513.3,802.1 515.7,802.6 518.1,803.0 520.6,803.4 523.0,803.8 525.5,804.2 527.9,804.5 530.4,804.9 532.8,805.2 535.3,805.5 537.8,805.8 540.2,806.0 542.7,806.3 545.1,806.5 547.6,806.8 550.1,807.0 552.5,807.1 555.0,807.3 557.5,807.5 559.9,807.6 562.4,807.8 564.9,807.9 567.3,808.0 569.8,808.1 572.3,808.2 574.7,808.3 577.2,808.3 579.7,808.4 582.2,808.4 584.7,808.5 587.1,808.5 589.6,808.5 592.1,808.5 594.6,808.5 597.1,808.5 599.5,808.5 602.0,808.4 604.5,808.4 607.0,808.4 609.5,808.3 612.0,808.2 614.5,808.2 617.0,808.1 619.4,808.0 621.9,808.0 624.4,807.9 626.9,807.8 629.4,807.7 631.9,807.6 634.4,807.5 636.9,807.4 639.4,807.3 641.9,807.2 644.4,807.1 646.9,807.0 649.4,806.9 651.9,806.8 654.4,806.7 656.9,806.6 659.4,806.5 661.9,806.3 664.4,806.2 666.9,806.1 669.4,806.0 671.9,805.9 674.4,805.8 676.9,805.7 679.4,805.6 681.9,805.5 684.4,805.4 686.9,805.3 689.4,805.2 692.0,805.1 694.5,805.0 697.0,805.0 699.5,804.9 702.0,804.8 704.5,804.7 707.0,804.7 709.5,804.6 712.0,804.5 714.5,804.5 717.0,804.4 719.5,804.4 722.0,804.3 724.6,804.3 727.1,804.2 729.6,804.2 732.1,804.2 734.6,804.2 737.1,804.2 739.6,804.2 742.1,804.2 744.6,804.2 747.1,804.2 749.6,804.2 752.2,804.2 754.7,804.2 757.2,804.3 759.7,804.3 762.2,804.4 764.7,804.4 767.2,804.5 769.7,804.6 772.2,804.7 774.7,804.7 777.2,804.8 779.7,805.0 782.3,805.1 784.8,805.2 787.3,805.3 789.8,805.5 792.3,805.6 794.8,805.8 797.3,806.0 799.8,806.1 802.3,806.3 804.8,806.5 807.3,806.8 809.8,807.0 812.3,807.2 814.8,807.5 817.3,807.7 819.8,808.0 822.3,808.3 824.8,808.6 827.3,808.9 829.8,809.2 832.3,809.5 834.8,809.8 837.3,810.1 839.8,810.5 842.3,810.8 844.8,811.2 847.3,811.5 849.8,811.9 852.3,812.3 854.8,812.6 857.3,813.0 859.7,813.4 862.2,813.7 864.7,814.1 867.2,814.5 869.7,814.8 872.2,815.2 874.7,815.5 877.2,815.9 879.7,816.2 882.1,816.6 884.6,816.9 887.1,817.2 889.6,817.5 892.1,817.8 894.6,818.1 897.0,818.4 899.5,818.7 902.0,818.9 904.5,819.2 907.0,819.4 909.4,819.6 911.9,819.8 914.4,820.0 916.9,820.2 919.3,820.4 921.8,820.5 924.3,820.6 926.8,820.7 929.2,820.8 931.7,820.9 934.2,821.0 936.7,821.0 939.1,821.1 941.6,821.1 944.1,821.1 946.5,821.1 949.0,821.0 951.5,821.0 953.9,820.9 956.4,820.9 958.9,820.8 961.3,820.6 963.8,820.5 966.2,820.4 968.7,820.2 971.2,820.0 973.6,819.8 976.1,819.6 978.5,819.3 981.0,819.1 983.4,818.8 985.9,818.5 988.4,818.2 990.8,817.8 993.3,817.5 995.7,817.1 998.2,816.7 1000.6,816.3 1003.1,815.9 1005.5,815.5 1007.9,815.0 1010.4,814.6 1012.8,814.1 1015.3,813.6 1017.7,813.1 1020.1,812.5 1022.6,812.0 1025.0,811.4 1027.4,810.9 1029.9,810.3 1032.3,809.7 1034.7,809.1 1037.1,808.4 1039.6,807.8 1042.0,807.1 1044.4,806.5 1046.8,805.8 1049.2,805.1 1051.6,804.4 1054.0,803.7 1056.4,803.0 1058.8,802.3 1061.2,801.6 1063.6,800.8 1066.0,800.1 1068.4,799.3 1070.8,798.5 1073.2,797.7 1075.5,797.0 1077.9,796.2 1080.3,795.4 1082.7,794.6 1085.0,793.7 1087.4,792.9 1089.8,792.1 1092.1,791.3 1094.5,790.4 1096.9,789.6 1099.2,788.7 1101.6,787.9 1104.0,787.0 1106.3,786.1 1108.7,785.3 1111.1,784.4 1113.4,783.5 1115.8,782.7 1118.2,781.8 1120.5,780.9 1122.9,780.0 1125.3,779.1 1127.6,778.3 1130.0,777.4 1132.4,776.5 1134.7,775.6 1137.1,774.7 1139.5,773.8 1141.9,772.9 1144.3,772.1 1146.7,771.2 1149.1,770.3 1151.4,769.4 1153.8,768.6 1156.2,767.7 1158.6,766.9 1161.0,766.1 1163.5,765.3 1165.9,764.5 1168.3,763.8 1170.7,763.0 1173.1,762.3 1175.5,761.7 1177.9,761.1 1180.3,760.5 1182.8,759.9 1185.2,759.4 1187.6,759.0 1190.0,758.6 1192.5,758.2 1194.9,757.9 1197.3,757.6 1199.7,757.4 1202.2,757.1 1204.6,757.0 1207.0,756.8 1209.5,756.8 1211.9,756.7 1214.3,756.7 1216.7,756.7 1219.2,756.7 1221.6,756.8 1224.0,756.9 1226.5,757.1 1228.9,757.3 1231.3,757.5 1233.8,757.7 1236.2,758.0 1238.6,758.3 1241.0,758.6 1243.5,759.0 1245.9,759.3 1248.3,759.7 1250.7,760.2 1253.2,760.6 1255.6,761.1 1258.0,761.7 1260.4,762.2 1262.8,762.8 1265.2,763.3 1267.6,764.0 1270.0,764.6 1272.4,765.2 1274.8,765.9 1277.2,766.6 1279.6,767.3 1282.0,768.1 1284.4,768.8 1286.8,769.6 1289.1,770.4 1291.5,771.2 1293.9,772.1 1296.2,772.9 1298.6,773.8 1300.9,774.7 1303.3,775.6 1305.6,776.5 1308.0,777.4 1310.3,778.4 1312.6,779.3 1314.9,780.3 1317.3,781.3 1319.6,782.2 1321.9,783.2 1324.2,784.2 1326.5,785.3 1328.8,786.3 1331.1,787.3 1333.4,788.3 1335.7,789.4 1338.0,790.4 1340.3,791.4 1342.6,792.5 1344.9,793.5 1347.2,794.6 1349.5,795.6 1351.8,796.6 1354.0,797.7 1356.3,798.7 1358.6,799.7 1360.9,800.8 1363.2,801.8 1365.5,802.8 1367.8,803.8 1370.1,804.8 1372.4,805.8 1374.6,806.8 1376.9,807.7 1379.2,808.7 1381.5,809.6 1383.8,810.6 1386.1,811.5 1388.4,812.4 1390.7,813.2 1393.0,814.1 1395.4,814.9 1397.7,815.7 1400.0,816.4 1402.3,817.2 1404.6,817.9 1407.0,818.5 1409.3,819.1 1411.7,819.7 1414.0,820.3 1416.4,820.8 1418.7,821.2 1421.1,821.6 1423.4,821.9 1425.8,822.2 1428.2,822.5 1430.6,822.7 1433.0,822.8 1435.4,822.9 1437.8,822.9 1440.2,822.8 1442.6,822.7 1445.0,822.5 1447.5,822.3 1449.9,821.9 1453.0,821.5" fill="none" stroke="#eaa84a" stroke-width="7.5" stroke-linejoin="round"/>
<path d="M180.0,1214.1L182.8,1214.0 185.1,1213.9 187.6,1213.8 190.0,1213.8 192.4,1213.7 194.9,1213.7 197.3,1213.6 199.8,1213.6 202.3,1213.6 204.8,1213.6 207.3,1213.5 209.8,1213.5 212.3,1213.5 214.8,1213.5 217.4,1213.5 219.9,1213.4 222.5,1213.4 225.0,1213.3 227.5,1213.3 230.1,1213.2 232.6,1213.1 235.1,1212.9 237.7,1212.8 240.2,1212.6 242.7,1212.4 245.3,1212.2 247.8,1211.9 250.3,1211.6 252.8,1211.3 255.3,1210.9 257.7,1210.5 260.2,1210.1 262.7,1209.6 265.1,1209.1 267.5,1208.5 269.9,1207.9 272.3,1207.2 274.7,1206.5 277.1,1205.8 279.4,1205.0 281.8,1204.1 284.1,1203.3 286.4,1202.3 288.6,1201.4 290.9,1200.4 293.1,1199.3 295.4,1198.2 297.6,1197.1 299.7,1196.0 301.9,1194.8 304.0,1193.5 306.2,1192.2 308.3,1190.9 310.3,1189.6 312.4,1188.2 314.4,1186.8 316.4,1185.3 318.4,1183.8 320.4,1182.3 322.3,1180.7 324.2,1179.1 326.1,1177.5 327.9,1175.8 329.8,1174.1 331.6,1172.4 333.4,1170.7 335.1,1168.9 336.8,1167.0 338.5,1165.2 340.2,1163.3 341.9,1161.4 343.5,1159.5 345.2,1157.6 346.8,1155.7 348.4,1153.8 350.1,1151.8 351.7,1149.9 353.4,1147.9 355.0,1146.0 356.7,1144.1 358.4,1142.2 360.1,1140.3 361.9,1138.4 363.6,1136.6 365.5,1134.8 367.3,1133.0 369.2,1131.3 371.1,1129.6 373.0,1127.9 375.0,1126.3 377.0,1124.7 379.0,1123.2 381.1,1121.7 383.2,1120.3 385.3,1119.0 387.4,1117.7 389.6,1116.5 391.8,1115.4 394.0,1114.3 396.2,1113.4 398.5,1112.5 400.7,1111.7 403.0,1111.0 405.3,1110.4 407.6,1110.0 409.9,1109.7 412.3,1109.6 414.6,1109.7 416.9,1110.1 419.2,1110.6 421.5,1111.3 423.7,1112.2 426.0,1113.2 428.2,1114.4 430.5,1115.6 432.6,1117.0 434.8,1118.4 436.9,1119.8 439.0,1121.3 441.1,1122.8 443.1,1124.3 445.1,1125.8 447.1,1127.4 449.1,1129.0 451.0,1130.5 453.0,1132.1 454.9,1133.7 456.9,1135.3 458.8,1136.9 460.8,1138.5 462.7,1140.1 464.7,1141.6 466.7,1143.2 468.7,1144.7 470.7,1146.2 472.7,1147.7 474.7,1149.2 476.8,1150.7 478.9,1152.1 481.0,1153.5 483.1,1154.9 485.3,1156.3 487.4,1157.6 489.6,1158.9 491.8,1160.2 494.0,1161.5 496.2,1162.7 498.4,1163.9 500.6,1165.1 502.9,1166.2 505.1,1167.4 507.4,1168.4 509.7,1169.5 512.0,1170.5 514.3,1171.5 516.6,1172.5 519.0,1173.4 521.3,1174.3 523.7,1175.1 526.0,1175.9 528.4,1176.7 530.8,1177.5 533.1,1178.2 535.5,1178.8 537.9,1179.5 540.3,1180.0 542.7,1180.6 545.1,1181.1 547.6,1181.6 550.0,1182.0 552.4,1182.4 554.8,1182.7 557.3,1183.0 559.7,1183.3 562.2,1183.5 564.6,1183.7 567.0,1183.9 569.5,1184.0 572.0,1184.1 574.4,1184.2 576.9,1184.2 579.3,1184.2 581.8,1184.2 584.3,1184.1 586.8,1184.0 589.2,1183.9 591.7,1183.8 594.2,1183.7 596.7,1183.5 599.2,1183.3 601.6,1183.1 604.1,1182.8 606.6,1182.6 609.1,1182.3 611.6,1182.0 614.1,1181.7 616.6,1181.4 619.1,1181.0 621.6,1180.7 624.1,1180.3 626.6,1179.9 629.1,1179.5 631.6,1179.1 634.1,1178.7 636.6,1178.3 639.1,1177.8 641.6,1177.4 644.1,1177.0 646.6,1176.5 649.1,1176.1 651.6,1175.6 654.1,1175.2 656.6,1174.7 659.1,1174.2 661.6,1173.8 664.1,1173.3 666.6,1172.9 669.1,1172.4 671.6,1172.0 674.1,1171.5 676.6,1171.1 679.0,1170.7 681.5,1170.2 684.0,1169.8 686.5,1169.4 689.0,1169.0 691.5,1168.6 694.0,1168.3 696.5,1167.9 699.0,1167.6 701.5,1167.3 704.0,1166.9 706.5,1166.6 709.0,1166.4 711.5,1166.1 713.9,1165.9 716.4,1165.6 718.9,1165.4 721.4,1165.3 723.9,1165.1 726.4,1165.0 728.8,1164.8 731.3,1164.7 733.8,1164.6 736.3,1164.6 738.8,1164.5 741.2,1164.5 743.7,1164.5 746.2,1164.5 748.6,1164.6 751.1,1164.6 753.6,1164.7 756.0,1164.8 758.5,1165.0 761.0,1165.1 763.4,1165.3 765.9,1165.5 768.4,1165.7 770.8,1165.9 773.3,1166.2 775.7,1166.4 778.2,1166.8 780.6,1167.1 783.1,1167.4 785.5,1167.8 787.9,1168.2 790.4,1168.6 792.8,1169.1 795.3,1169.5 797.7,1170.0 800.1,1170.5 802.6,1171.0 805.0,1171.6 807.4,1172.2 809.8,1172.8 812.3,1173.4 814.7,1174.0 817.1,1174.6 819.5,1175.3 821.9,1176.0 824.4,1176.7 826.8,1177.3 829.2,1178.1 831.6,1178.8 834.0,1179.5 836.4,1180.3 838.8,1181.0 841.2,1181.8 843.7,1182.5 846.1,1183.3 848.5,1184.1 850.9,1184.9 853.3,1185.7 855.7,1186.5 858.1,1187.3 860.5,1188.0 862.9,1188.8 865.3,1189.6 867.7,1190.4 870.1,1191.2 872.5,1192.0 874.9,1192.8 877.4,1193.6 879.8,1194.4 882.2,1195.2 884.6,1195.9 887.0,1196.7 889.4,1197.4 891.8,1198.2 894.2,1198.9 896.6,1199.7 899.0,1200.4 901.5,1201.1 903.9,1201.8 906.3,1202.4 908.7,1203.1 911.1,1203.7 913.6,1204.4 916.0,1205.0 918.4,1205.6 920.8,1206.2 923.3,1206.7 925.7,1207.2 928.1,1207.8 930.6,1208.3 933.0,1208.7 935.4,1209.2 937.9,1209.6 940.3,1210.0 942.8,1210.4 945.2,1210.7 947.7,1211.0 950.1,1211.3 952.6,1211.6 955.0,1211.8 957.5,1212.0 960.0,1212.2 962.4,1212.3 964.9,1212.5 967.4,1212.6 969.9,1212.6 972.4,1212.7 974.8,1212.7 977.3,1212.7 979.8,1212.7 982.3,1212.7 984.8,1212.6 987.3,1212.6 989.8,1212.5 992.3,1212.4 994.8,1212.3 997.3,1212.2 999.8,1212.1 1002.3,1212.0 1004.8,1211.9 1007.3,1211.8 1009.8,1211.7 1012.3,1211.5 1014.8,1211.4 1017.3,1211.3 1019.9,1211.2 1022.4,1211.1 1024.9,1211.0 1027.4,1210.9 1029.9,1210.8 1032.4,1210.8 1034.9,1210.7 1037.5,1210.7 1040.0,1210.6 1042.5,1210.6 1045.0,1210.6 1047.5,1210.7 1050.0,1210.7 1052.6,1210.7 1055.1,1210.8 1057.6,1210.9 1060.1,1211.0 1062.6,1211.0 1065.1,1211.1 1067.6,1211.2 1070.2,1211.3 1072.7,1211.4 1075.2,1211.5 1077.7,1211.7 1080.2,1211.8 1082.7,1211.9 1085.2,1212.0 1087.7,1212.1 1090.2,1212.2 1092.7,1212.3 1095.2,1212.4 1097.7,1212.5 1100.2,1212.6 1102.7,1212.7 1105.2,1212.8 1107.7,1212.9 1110.2,1212.9 1112.7,1213.0 1115.1,1213.0 1117.6,1213.0 1120.1,1213.0 1122.6,1213.0 1125.0,1213.0 1127.5,1213.0 1130.0,1212.9 1132.4,1212.8 1134.9,1212.6 1137.4,1212.4 1139.8,1212.1 1142.3,1211.7 1144.7,1211.3 1147.2,1210.7 1149.6,1210.1 1152.1,1209.5 1154.5,1208.8 1157.0,1208.1 1159.4,1207.4 1161.9,1206.6 1164.3,1205.9 1166.8,1205.2 1169.2,1204.5 1171.7,1203.8 1174.1,1203.2 1176.6,1202.6 1179.0,1202.1 1181.5,1201.6 1183.9,1201.1 1186.3,1200.8 1188.8,1200.5 1191.2,1200.2 1193.7,1200.0 1196.1,1199.8 1198.6,1199.6 1201.1,1199.5 1203.5,1199.4 1206.0,1199.2 1208.4,1199.1 1210.9,1198.9 1213.3,1198.8 1215.8,1198.6 1218.3,1198.5 1220.7,1198.4 1223.2,1198.2 1225.7,1198.1 1228.1,1198.1 1230.6,1198.0 1233.1,1198.0 1235.6,1198.0 1238.0,1198.1 1240.5,1198.2 1243.0,1198.3 1245.5,1198.5 1247.9,1198.7 1250.4,1199.0 1252.9,1199.3 1255.4,1199.7 1257.9,1200.1 1260.3,1200.5 1262.8,1201.0 1265.3,1201.5 1267.8,1202.0 1270.3,1202.5 1272.7,1203.0 1275.2,1203.6 1277.7,1204.1 1280.2,1204.7 1282.7,1205.3 1285.2,1205.8 1287.7,1206.3 1290.1,1206.9 1292.6,1207.4 1295.1,1207.9 1297.6,1208.4 1300.1,1208.8 1302.6,1209.3 1305.0,1209.7 1307.5,1210.2 1310.0,1210.6 1312.5,1211.0 1315.0,1211.4 1317.5,1211.7 1319.9,1212.1 1322.4,1212.4 1324.9,1212.7 1327.4,1213.1 1329.9,1213.3 1332.4,1213.6 1334.8,1213.9 1337.3,1214.1 1339.8,1214.3 1342.3,1214.5 1344.8,1214.7 1347.3,1214.9 1349.7,1215.1 1352.2,1215.2 1354.7,1215.3 1357.2,1215.4 1359.7,1215.5 1362.1,1215.5 1364.6,1215.6 1367.1,1215.6 1369.6,1215.6 1372.1,1215.6 1374.5,1215.5 1377.0,1215.5 1379.5,1215.4 1382.0,1215.3 1384.4,1215.2 1386.9,1215.0 1389.4,1214.9 1391.9,1214.7 1394.4,1214.5 1396.8,1214.3 1399.3,1214.0 1401.8,1213.8 1404.3,1213.5 1406.7,1213.1 1409.2,1212.8 1411.7,1212.4 1414.1,1212.1 1416.6,1211.6 1419.1,1211.2 1421.6,1210.8 1424.0,1210.3 1426.5,1209.8 1429.0,1209.3 1431.4,1208.7 1433.9,1208.1 1436.4,1207.5 1438.8,1206.9 1441.3,1206.2 1443.8,1205.6 1446.3,1204.9 1448.7,1204.1 1451.2,1203.4 1453.0,1202.6" fill="none" stroke="#ff0000" stroke-width="7.5" stroke-linejoin="round"/>
<path d="M180.0,1603.1L182.4,1602.8 185.0,1602.6 187.6,1602.3 190.1,1602.1 192.6,1601.9 195.2,1601.8 197.7,1601.6 200.1,1601.5 202.6,1601.4 205.1,1601.2 207.5,1601.1 210.0,1601.0 212.5,1600.9 214.9,1600.8 217.4,1600.7 219.8,1600.5 222.3,1600.4 224.7,1600.3 227.2,1600.1 229.7,1599.9 232.2,1599.7 234.7,1599.5 237.2,1599.3 239.7,1599.0 242.3,1598.7 244.8,1598.3 247.3,1598.0 249.8,1597.6 252.4,1597.1 254.9,1596.6 257.4,1596.1 259.9,1595.5 262.3,1594.8 264.7,1594.1 267.2,1593.4 269.5,1592.6 271.9,1591.7 274.2,1590.8 276.5,1589.8 278.7,1588.7 280.9,1587.6 283.0,1586.4 285.1,1585.1 287.1,1583.7 289.0,1582.3 291.0,1580.8 292.8,1579.2 294.7,1577.6 296.4,1575.9 298.2,1574.2 299.9,1572.4 301.5,1570.6 303.1,1568.7 304.7,1566.8 306.2,1564.8 307.7,1562.8 309.1,1560.7 310.6,1558.7 311.9,1556.6 313.3,1554.4 314.6,1552.3 315.9,1550.1 317.1,1547.9 318.3,1545.7 319.5,1543.5 320.7,1541.2 321.8,1539.0 322.9,1536.7 324.0,1534.4 325.1,1532.2 326.1,1529.9 327.1,1527.6 328.1,1525.3 329.1,1522.9 330.1,1520.6 331.0,1518.3 332.0,1516.0 332.9,1513.6 333.8,1511.3 334.7,1508.9 335.6,1506.6 336.5,1504.2 337.3,1501.9 338.2,1499.5 339.0,1497.2 339.9,1494.8 340.7,1492.5 341.5,1490.1 342.4,1487.8 343.2,1485.4 344.0,1483.1 344.8,1480.7 345.6,1478.3 346.4,1476.0 347.2,1473.6 348.0,1471.3 348.8,1468.9 349.5,1466.6 350.3,1464.2 351.1,1461.8 351.8,1459.5 352.6,1457.1 353.3,1454.7 354.1,1452.4 354.8,1450.0 355.6,1447.6 356.3,1445.3 357.0,1442.9 357.8,1440.5 358.5,1438.1 359.2,1435.7 359.9,1433.3 360.6,1431.0 361.4,1428.6 362.1,1426.2 362.8,1423.8 363.5,1421.4 364.2,1419.0 364.9,1416.5 365.5,1414.1 366.2,1411.7 366.9,1409.3 367.6,1406.9 368.3,1404.5 369.0,1402.0 369.7,1399.6 370.3,1397.2 371.0,1394.7 371.7,1392.3 372.4,1389.8 373.1,1387.4 373.7,1384.9 374.4,1382.5 375.1,1380.1 375.8,1377.6 376.5,1375.2 377.3,1372.8 378.0,1370.3 378.7,1367.9 379.5,1365.5 380.2,1363.1 381.0,1360.7 381.8,1358.3 382.6,1356.0 383.4,1353.6 384.2,1351.3 385.1,1348.9 385.9,1346.6 386.8,1344.3 387.7,1342.0 388.7,1339.8 389.7,1337.5 390.7,1335.3 391.7,1333.1 392.8,1330.9 393.9,1328.7 395.1,1326.5 396.4,1324.4 397.6,1322.3 399.0,1320.2 400.4,1318.2 401.8,1316.2 403.4,1314.2 404.9,1312.2 406.6,1310.2 408.3,1308.3 410.1,1306.4 412.0,1304.6 413.9,1303.0 415.9,1301.6 417.9,1300.5 419.9,1299.8 421.9,1299.6 423.9,1299.8 425.9,1300.5 427.8,1301.5 429.7,1302.8 431.5,1304.4 433.3,1306.3 435.0,1308.3 436.6,1310.5 438.2,1312.7 439.7,1315.0 441.1,1317.2 442.5,1319.5 443.9,1321.8 445.2,1324.0 446.4,1326.3 447.6,1328.5 448.8,1330.8 449.9,1333.0 451.0,1335.3 452.0,1337.5 453.1,1339.8 454.0,1342.0 455.0,1344.3 456.0,1346.6 456.9,1348.8 457.8,1351.1 458.7,1353.4 459.6,1355.6 460.5,1357.9 461.4,1360.2 462.3,1362.4 463.3,1364.7 464.2,1367.0 465.1,1369.3 466.1,1371.6 467.1,1373.9 468.1,1376.2 469.1,1378.5 470.1,1380.8 471.2,1383.1 472.3,1385.4 473.4,1387.6 474.5,1389.9 475.6,1392.2 476.7,1394.5 477.8,1396.8 479.0,1399.1 480.1,1401.4 481.3,1403.7 482.4,1406.0 483.6,1408.2 484.7,1410.5 485.9,1412.8 487.0,1415.0 488.2,1417.3 489.3,1419.5 490.4,1421.7 491.5,1424.0 492.6,1426.2 493.8,1428.4 494.9,1430.6 496.0,1432.8 497.1,1434.9 498.3,1437.1 499.4,1439.2 500.6,1441.4 501.8,1443.5 503.0,1445.6 504.2,1447.7 505.5,1449.7 506.8,1451.8 508.2,1453.8 509.6,1455.9 511.0,1457.9 512.5,1459.9 514.0,1461.8 515.6,1463.8 517.2,1465.7 518.9,1467.6 520.7,1469.5 522.5,1471.4 524.3,1473.2 526.2,1474.9 528.2,1476.6 530.2,1478.3 532.2,1479.9 534.3,1481.5 536.4,1483.0 538.5,1484.4 540.7,1485.7 542.9,1487.0 545.1,1488.2 547.4,1489.3 549.7,1490.3 552.0,1491.2 554.3,1492.1 556.7,1492.8 559.0,1493.4 561.4,1493.9 563.8,1494.2 566.2,1494.5 568.7,1494.7 571.1,1494.7 573.5,1494.7 576.0,1494.6 578.4,1494.4 580.8,1494.1 583.3,1493.7 585.7,1493.2 588.1,1492.7 590.6,1492.0 593.0,1491.4 595.4,1490.6 597.8,1489.8 600.1,1488.9 602.5,1488.0 604.8,1487.1 607.1,1486.0 609.4,1485.0 611.6,1483.9 613.9,1482.8 616.1,1481.6 618.3,1480.4 620.4,1479.2 622.6,1477.9 624.7,1476.6 626.8,1475.3 628.9,1474.0 630.9,1472.6 633.0,1471.2 635.0,1469.8 637.1,1468.4 639.1,1466.9 641.1,1465.4 643.1,1464.0 645.1,1462.4 647.0,1460.9 649.0,1459.4 651.0,1457.8 652.9,1456.3 654.9,1454.7 656.8,1453.2 658.8,1451.6 660.7,1450.0 662.7,1448.4 664.6,1446.8 666.6,1445.2 668.5,1443.7 670.5,1442.1 672.4,1440.5 674.4,1438.9 676.4,1437.4 678.3,1435.8 680.3,1434.3 682.3,1432.7 684.3,1431.2 686.4,1429.7 688.4,1428.2 690.4,1426.7 692.5,1425.3 694.6,1423.8 696.7,1422.4 698.8,1421.0 700.9,1419.6 703.1,1418.2 705.2,1416.9 707.4,1415.5 709.6,1414.2 711.7,1412.9 713.9,1411.6 716.2,1410.4 718.4,1409.1 720.6,1407.9 722.8,1406.8 725.1,1405.7 727.4,1404.7 729.6,1403.8 731.9,1403.0 734.2,1402.3 736.5,1401.7 738.8,1401.3 741.1,1401.1 743.4,1401.0 745.7,1401.0 748.1,1401.2 750.4,1401.5 752.7,1401.9 755.0,1402.4 757.3,1403.1 759.7,1403.8 762.0,1404.7 764.3,1405.6 766.6,1406.6 768.9,1407.7 771.1,1408.8 773.4,1410.0 775.7,1411.3 777.9,1412.6 780.1,1414.0 782.3,1415.3 784.5,1416.7 786.7,1418.1 788.9,1419.6 791.0,1421.0 793.1,1422.4 795.2,1423.9 797.3,1425.4 799.4,1426.8 801.4,1428.3 803.5,1429.8 805.5,1431.3 807.5,1432.9 809.5,1434.4 811.5,1435.9 813.5,1437.5 815.4,1439.0 817.4,1440.5 819.4,1442.1 821.3,1443.7 823.2,1445.2 825.2,1446.8 827.1,1448.4 829.0,1449.9 830.9,1451.5 832.8,1453.1 834.8,1454.7 836.7,1456.2 838.6,1457.8 840.5,1459.4 842.4,1461.0 844.3,1462.6 846.2,1464.1 848.1,1465.7 850.0,1467.3 851.9,1468.8 853.8,1470.4 855.8,1472.0 857.7,1473.5 859.6,1475.0 861.6,1476.6 863.5,1478.1 865.5,1479.6 867.5,1481.2 869.4,1482.7 871.4,1484.2 873.4,1485.7 875.4,1487.2 877.5,1488.6 879.5,1490.1 881.5,1491.6 883.6,1493.0 885.6,1494.4 887.7,1495.8 889.8,1497.3 891.9,1498.7 894.0,1500.0 896.1,1501.4 898.2,1502.8 900.3,1504.1 902.4,1505.4 904.6,1506.7 906.7,1508.0 908.9,1509.3 911.1,1510.6 913.2,1511.8 915.4,1513.1 917.6,1514.3 919.8,1515.5 922.0,1516.7 924.3,1517.8 926.5,1519.0 928.7,1520.1 931.0,1521.2 933.2,1522.3 935.5,1523.3 937.8,1524.4 940.1,1525.4 942.3,1526.4 944.6,1527.4 946.9,1528.3 949.3,1529.3 951.6,1530.2 953.9,1531.1 956.2,1531.9 958.6,1532.8 960.9,1533.6 963.3,1534.4 965.7,1535.1 968.0,1535.9 970.4,1536.6 972.8,1537.4 975.2,1538.1 977.5,1538.8 979.9,1539.5 982.3,1540.2 984.7,1540.9 987.1,1541.6 989.5,1542.3 991.9,1543.1 994.3,1543.8 996.6,1544.6 999.0,1545.3 1001.4,1546.1 1003.8,1546.9 1006.1,1547.8 1008.5,1548.6 1010.9,1549.5 1013.2,1550.4 1015.5,1551.4 1017.9,1552.3 1020.2,1553.3 1022.5,1554.3 1024.8,1555.4 1027.1,1556.4 1029.4,1557.5 1031.7,1558.5 1034.0,1559.6 1036.3,1560.7 1038.5,1561.8 1040.8,1562.9 1043.0,1564.1 1045.3,1565.2 1047.5,1566.3 1049.7,1567.4 1051.9,1568.5 1054.1,1569.7 1056.3,1570.8 1058.4,1571.9 1060.6,1573.0 1062.8,1574.2 1064.9,1575.3 1067.1,1576.5 1069.2,1577.6 1071.4,1578.8 1073.5,1580.1 1075.7,1581.3 1077.8,1582.6 1080.0,1584.0 1082.2,1585.3 1084.3,1586.7 1086.5,1588.1 1088.7,1589.4 1090.9,1590.8 1093.1,1592.1 1095.4,1593.3 1097.6,1594.5 1099.9,1595.6 1102.2,1596.7 1104.5,1597.6 1106.8,1598.5 1109.1,1599.3 1111.5,1600.0 1113.9,1600.7 1116.3,1601.3 1118.7,1601.8 1121.1,1602.3 1123.5,1602.7 1125.9,1603.1 1128.4,1603.5 1130.8,1603.7 1133.3,1604.0 1135.8,1604.2 1138.2,1604.4 1140.7,1604.6 1143.2,1604.7 1145.7,1604.9 1148.2,1605.0 1150.7,1605.1 1153.2,1605.2 1155.7,1605.3 1158.2,1605.4 1160.7,1605.5 1163.2,1605.5 1165.7,1605.6 1168.2,1605.7 1170.7,1605.7 1173.2,1605.8 1175.7,1605.8 1178.2,1605.8 1180.7,1605.8 1183.2,1605.8 1185.7,1605.9 1188.2,1605.8 1190.7,1605.8 1193.2,1605.8 1195.7,1605.8 1198.2,1605.7 1200.7,1605.7 1203.2,1605.6 1205.7,1605.5 1208.2,1605.5 1210.7,1605.4 1213.2,1605.3 1215.7,1605.2 1218.2,1605.1 1220.7,1604.9 1223.2,1604.8 1225.7,1604.6 1228.2,1604.5 1230.7,1604.3 1233.2,1604.1 1235.7,1603.9 1238.2,1603.7 1240.7,1603.5 1243.2,1603.3 1245.7,1603.0 1248.2,1602.8 1250.7,1602.5 1253.2,1602.3 1255.6,1602.0 1258.1,1601.7 1260.6,1601.4 1263.1,1601.0 1265.6,1600.7 1268.1,1600.4 1270.5,1600.0 1273.0,1599.7 1275.5,1599.3 1278.0,1598.9 1280.4,1598.5 1282.9,1598.1 1285.4,1597.7 1287.8,1597.3 1290.3,1596.9 1292.8,1596.4 1295.2,1596.0 1297.7,1595.6 1300.2,1595.1 1302.6,1594.6 1305.1,1594.2 1307.5,1593.7 1310.0,1593.2 1312.5,1592.7 1314.9,1592.2 1317.4,1591.7 1319.8,1591.2 1322.3,1590.7 1324.7,1590.2 1327.2,1589.7 1329.6,1589.2 1332.1,1588.7 1334.5,1588.1 1337.0,1587.6 1339.4,1587.1 1341.9,1586.5 1344.3,1586.0 1346.7,1585.5 1349.2,1584.9 1351.6,1584.4 1354.1,1583.8 1356.5,1583.3 1358.9,1582.7 1361.4,1582.2 1363.8,1581.6 1366.2,1581.1 1368.7,1580.5 1371.1,1580.0 1373.5,1579.4 1376.0,1578.8 1378.4,1578.3 1380.8,1577.7 1383.3,1577.1 1385.7,1576.5 1388.1,1576.0 1390.5,1575.4 1393.0,1574.8 1395.4,1574.2 1397.8,1573.6 1400.2,1573.0 1402.7,1572.4 1405.1,1571.8 1407.5,1571.2 1409.9,1570.5 1412.3,1569.9 1414.8,1569.3 1417.2,1568.6 1419.6,1568.0 1422.0,1567.3 1424.4,1566.7 1426.8,1566.0 1429.2,1565.3 1431.7,1564.6 1434.1,1564.0 1436.5,1563.3 1438.9,1562.6 1441.3,1561.8 1443.7,1561.1 1446.1,1560.4 1448.5,1559.6 1450.9,1558.9 1453.0,1558.1" fill="none" stroke="#00e400" stroke-width="7.5" stroke-linejoin="round"/>
<path d="M180.0,1993.9L182.5,1993.9 185.0,1993.9 187.5,1993.8 190.0,1993.8 192.5,1993.7 195.1,1993.7 197.6,1993.6 200.0,1993.5 202.5,1993.5 205.0,1993.4 207.5,1993.3 210.0,1993.2 212.5,1993.1 215.0,1993.0 217.5,1992.9 219.9,1992.8 222.4,1992.7 224.9,1992.6 227.4,1992.5 229.9,1992.4 232.4,1992.2 234.9,1992.1 237.4,1992.0 240.0,1991.8 242.5,1991.7 245.0,1991.5 247.5,1991.3 250.1,1991.1 252.6,1990.8 255.1,1990.4 257.5,1990.1 260.0,1989.6 262.5,1989.1 264.9,1988.5 267.3,1987.9 269.7,1987.1 272.0,1986.3 274.3,1985.4 276.6,1984.4 278.8,1983.3 281.0,1982.2 283.1,1981.0 285.2,1979.7 287.3,1978.3 289.3,1976.9 291.2,1975.4 293.1,1973.8 295.0,1972.2 296.7,1970.5 298.5,1968.7 300.1,1966.9 301.7,1965.1 303.3,1963.1 304.8,1961.2 306.3,1959.2 307.8,1957.2 309.2,1955.1 310.5,1953.0 311.8,1950.8 313.1,1948.6 314.3,1946.4 315.5,1944.2 316.7,1942.0 317.8,1939.7 318.9,1937.4 319.9,1935.1 321.0,1932.8 322.0,1930.4 322.9,1928.1 323.9,1925.8 324.8,1923.4 325.7,1921.1 326.5,1918.7 327.4,1916.4 328.2,1914.0 329.0,1911.6 329.8,1909.3 330.6,1906.9 331.3,1904.5 332.1,1902.1 332.8,1899.7 333.5,1897.4 334.2,1895.0 334.9,1892.6 335.6,1890.2 336.3,1887.8 337.0,1885.4 337.7,1883.0 338.3,1880.6 339.0,1878.2 339.7,1875.8 340.4,1873.4 341.0,1871.0 341.7,1868.6 342.4,1866.2 343.0,1863.8 343.7,1861.4 344.4,1859.0 345.0,1856.6 345.7,1854.2 346.4,1851.8 347.0,1849.4 347.7,1847.0 348.4,1844.6 349.0,1842.2 349.7,1839.8 350.4,1837.3 351.0,1834.9 351.7,1832.5 352.4,1830.1 353.0,1827.7 353.7,1825.3 354.4,1822.9 355.0,1820.5 355.7,1818.1 356.3,1815.6 357.0,1813.2 357.7,1810.8 358.3,1808.4 359.0,1806.0 359.7,1803.6 360.3,1801.1 361.0,1798.7 361.6,1796.3 362.3,1793.9 363.0,1791.5 363.6,1789.0 364.3,1786.6 364.9,1784.2 365.6,1781.8 366.3,1779.3 366.9,1776.9 367.6,1774.5 368.2,1772.0 368.9,1769.6 369.5,1767.2 370.2,1764.7 370.9,1762.3 371.5,1759.9 372.2,1757.5 372.9,1755.0 373.5,1752.6 374.2,1750.2 374.9,1747.8 375.6,1745.4 376.3,1743.0 377.0,1740.6 377.8,1738.2 378.5,1735.9 379.3,1733.5 380.0,1731.2 380.8,1728.8 381.6,1726.5 382.4,1724.2 383.2,1721.9 384.1,1719.6 384.9,1717.4 385.8,1715.1 386.7,1712.9 387.6,1710.6 388.5,1708.4 389.5,1706.1 390.5,1703.8 391.5,1701.5 392.6,1699.2 393.7,1696.8 394.8,1694.3 396.0,1691.8 397.2,1689.3 398.4,1686.8 399.7,1684.3 401.0,1681.9 402.4,1679.7 403.8,1677.6 405.3,1675.7 406.8,1674.2 408.4,1672.9 410.0,1672.0 411.7,1671.5 413.5,1671.4 415.2,1671.7 417.0,1672.4 418.8,1673.4 420.6,1674.8 422.4,1676.4 424.1,1678.3 425.8,1680.5 427.4,1682.8 429.0,1685.1 430.4,1687.5 431.8,1689.9 433.0,1692.3 434.1,1694.6 435.2,1696.9 436.2,1699.2 437.2,1701.5 438.0,1703.8 438.9,1706.1 439.7,1708.4 440.5,1710.6 441.3,1712.9 442.1,1715.2 442.9,1717.5 443.7,1719.8 444.5,1722.2 445.3,1724.5 446.2,1726.9 447.0,1729.2 447.8,1731.6 448.6,1733.9 449.4,1736.3 450.2,1738.7 451.1,1741.1 451.9,1743.5 452.7,1745.8 453.5,1748.2 454.4,1750.6 455.2,1753.0 456.0,1755.4 456.8,1757.8 457.7,1760.2 458.5,1762.6 459.3,1764.9 460.1,1767.3 461.0,1769.7 461.8,1772.0 462.6,1774.4 463.4,1776.8 464.3,1779.1 465.1,1781.5 465.9,1783.8 466.8,1786.1 467.6,1788.5 468.5,1790.8 469.3,1793.1 470.2,1795.5 471.1,1797.8 471.9,1800.1 472.8,1802.4 473.7,1804.8 474.6,1807.1 475.5,1809.4 476.4,1811.7 477.3,1814.0 478.3,1816.4 479.2,1818.7 480.2,1821.0 481.2,1823.3 482.1,1825.6 483.2,1827.9 484.2,1830.2 485.2,1832.5 486.3,1834.8 487.4,1837.1 488.6,1839.3 489.7,1841.5 490.9,1843.7 492.2,1845.9 493.5,1848.0 494.8,1850.1 496.2,1852.2 497.6,1854.2 499.1,1856.2 500.6,1858.2 502.2,1860.1 503.8,1861.9 505.5,1863.8 507.3,1865.5 509.1,1867.2 511.0,1868.9 512.9,1870.5 515.0,1872.0 517.0,1873.5 519.1,1874.9 521.3,1876.2 523.5,1877.4 525.7,1878.6 528.0,1879.7 530.3,1880.8 532.6,1881.7 535.0,1882.6 537.3,1883.4 539.7,1884.1 542.1,1884.7 544.6,1885.2 547.0,1885.7 549.4,1886.0 551.9,1886.2 554.3,1886.4 556.7,1886.4 559.2,1886.3 561.6,1886.2 564.0,1885.9 566.4,1885.5 568.7,1885.0 571.1,1884.5 573.4,1883.8 575.8,1883.1 578.1,1882.3 580.4,1881.4 582.7,1880.4 584.9,1879.4 587.2,1878.3 589.4,1877.1 591.6,1875.9 593.8,1874.6 595.9,1873.3 598.0,1871.9 600.2,1870.5 602.2,1869.1 604.3,1867.6 606.3,1866.1 608.3,1864.5 610.3,1862.9 612.2,1861.3 614.1,1859.7 616.0,1858.0 617.9,1856.4 619.8,1854.6 621.6,1852.9 623.4,1851.2 625.2,1849.4 626.9,1847.6 628.7,1845.8 630.4,1844.0 632.1,1842.2 633.8,1840.3 635.4,1838.4 637.1,1836.6 638.7,1834.7 640.4,1832.8 642.0,1830.8 643.6,1828.9 645.2,1827.0 646.7,1825.0 648.3,1823.1 649.9,1821.1 651.4,1819.1 653.0,1817.2 654.5,1815.2 656.0,1813.2 657.6,1811.2 659.1,1809.2 660.6,1807.2 662.1,1805.3 663.6,1803.3 665.1,1801.3 666.6,1799.3 668.1,1797.3 669.7,1795.4 671.2,1793.4 672.7,1791.4 674.2,1789.5 675.7,1787.5 677.3,1785.6 678.8,1783.7 680.3,1781.8 681.9,1779.9 683.4,1778.0 685.0,1776.1 686.6,1774.2 688.2,1772.3 689.8,1770.4 691.4,1768.6 693.0,1766.7 694.7,1764.8 696.4,1762.9 698.1,1761.0 699.8,1759.1 701.5,1757.1 703.3,1755.2 705.1,1753.3 706.9,1751.4 708.7,1749.5 710.6,1747.7 712.5,1746.0 714.4,1744.3 716.4,1742.7 718.4,1741.1 720.4,1739.7 722.5,1738.4 724.6,1737.1 726.7,1736.1 729.0,1735.1 731.2,1734.4 733.5,1733.8 735.9,1733.3 738.3,1733.1 740.6,1733.1 742.9,1733.3 745.2,1733.7 747.4,1734.4 749.5,1735.3 751.5,1736.4 753.4,1737.7 755.3,1739.2 757.1,1740.8 758.9,1742.5 760.6,1744.3 762.4,1746.2 764.1,1748.1 765.7,1750.0 767.4,1752.0 769.1,1753.9 770.8,1755.8 772.5,1757.8 774.1,1759.7 775.8,1761.6 777.5,1763.6 779.1,1765.5 780.8,1767.4 782.5,1769.3 784.1,1771.3 785.8,1773.2 787.5,1775.1 789.1,1777.0 790.8,1778.9 792.4,1780.8 794.1,1782.7 795.8,1784.6 797.4,1786.5 799.1,1788.4 800.8,1790.3 802.4,1792.2 804.1,1794.0 805.8,1795.9 807.4,1797.8 809.1,1799.7 810.8,1801.5 812.4,1803.4 814.1,1805.2 815.8,1807.1 817.5,1808.9 819.1,1810.8 820.8,1812.6 822.5,1814.5 824.2,1816.3 825.9,1818.1 827.6,1819.9 829.3,1821.7 831.0,1823.5 832.7,1825.3 834.4,1827.1 836.1,1828.9 837.9,1830.7 839.6,1832.5 841.3,1834.3 843.0,1836.0 844.8,1837.8 846.5,1839.5 848.3,1841.3 850.0,1843.0 851.8,1844.7 853.6,1846.5 855.4,1848.2 857.1,1849.9 858.9,1851.6 860.7,1853.3 862.5,1855.0 864.4,1856.7 866.2,1858.4 868.0,1860.1 869.8,1861.7 871.7,1863.4 873.6,1865.1 875.4,1866.7 877.3,1868.4 879.2,1870.0 881.1,1871.6 883.0,1873.3 884.9,1874.9 886.9,1876.5 888.8,1878.1 890.8,1879.7 892.8,1881.3 894.7,1882.8 896.7,1884.4 898.7,1885.9 900.8,1887.4 902.8,1888.9 904.9,1890.4 906.9,1891.8 909.0,1893.3 911.1,1894.7 913.2,1896.0 915.3,1897.4 917.5,1898.7 919.6,1900.0 921.8,1901.3 924.0,1902.5 926.2,1903.7 928.4,1904.8 930.6,1905.9 932.9,1907.0 935.1,1908.1 937.4,1909.1 939.7,1910.1 942.0,1911.1 944.3,1912.1 946.7,1913.0 949.0,1913.9 951.3,1914.8 953.7,1915.7 956.0,1916.5 958.4,1917.4 960.8,1918.2 963.1,1919.0 965.5,1919.8 967.9,1920.6 970.3,1921.4 972.7,1922.2 975.1,1922.9 977.4,1923.7 979.8,1924.5 982.2,1925.3 984.6,1926.0 987.0,1926.8 989.4,1927.6 991.7,1928.4 994.1,1929.1 996.4,1929.9 998.8,1930.8 1001.1,1931.6 1003.5,1932.4 1005.8,1933.3 1008.1,1934.1 1010.4,1935.0 1012.7,1935.9 1015.0,1936.8 1017.3,1937.8 1019.5,1938.7 1021.8,1939.7 1024.0,1940.7 1026.2,1941.8 1028.4,1942.9 1030.6,1944.0 1032.8,1945.1 1034.9,1946.3 1037.0,1947.5 1039.2,1948.7 1041.3,1949.9 1043.4,1951.2 1045.5,1952.5 1047.6,1953.8 1049.6,1955.1 1051.7,1956.5 1053.8,1957.9 1055.9,1959.2 1058.0,1960.7 1060.1,1962.1 1062.2,1963.5 1064.3,1964.9 1066.4,1966.4 1068.5,1967.8 1070.6,1969.3 1072.8,1970.7 1074.9,1972.2 1077.1,1973.6 1079.3,1975.0 1081.5,1976.5 1083.7,1977.8 1086.0,1979.2 1088.2,1980.5 1090.5,1981.7 1092.8,1982.9 1095.1,1984.0 1097.4,1985.0 1099.7,1985.9 1102.0,1986.7 1104.4,1987.4 1106.7,1988.1 1109.1,1988.6 1111.4,1989.1 1113.8,1989.5 1116.2,1989.8 1118.6,1990.1 1121.0,1990.3 1123.4,1990.5 1125.8,1990.7 1128.3,1990.9 1130.7,1991.0 1133.1,1991.1 1135.6,1991.2 1138.0,1991.3 1140.5,1991.4 1142.9,1991.4 1145.4,1991.5 1147.9,1991.5 1150.3,1991.5 1152.8,1991.5 1155.3,1991.5 1157.8,1991.4 1160.3,1991.4 1162.8,1991.3 1165.2,1991.2 1167.7,1991.2 1170.2,1991.1 1172.8,1991.0 1175.3,1990.8 1177.8,1990.7 1180.3,1990.6 1182.8,1990.4 1185.3,1990.3 1187.8,1990.1 1190.3,1990.0 1192.9,1989.8 1195.4,1989.6 1197.9,1989.4 1200.4,1989.2 1202.9,1989.0 1205.5,1988.8 1208.0,1988.6 1210.5,1988.4 1213.0,1988.2 1215.6,1988.0 1218.1,1987.8 1220.6,1987.5 1223.1,1987.3 1225.6,1987.1 1228.1,1986.9 1230.7,1986.7 1233.2,1986.4 1235.7,1986.2 1238.2,1986.0 1240.7,1985.8 1243.2,1985.6 1245.7,1985.3 1248.2,1985.1 1250.7,1984.9 1253.2,1984.7 1255.7,1984.5 1258.2,1984.3 1260.6,1984.1 1263.1,1983.9 1265.6,1983.6 1268.1,1983.4 1270.6,1983.2 1273.1,1983.0 1275.5,1982.8 1278.0,1982.6 1280.5,1982.4 1283.0,1982.2 1285.5,1982.0 1287.9,1981.8 1290.4,1981.6 1292.9,1981.4 1295.3,1981.2 1297.8,1981.0 1300.3,1980.8 1302.8,1980.7 1305.2,1980.5 1307.7,1980.3 1310.2,1980.1 1312.6,1980.0 1315.1,1979.8 1317.6,1979.7 1320.1,1979.6 1322.5,1979.5 1325.0,1979.4 1327.5,1979.4 1329.9,1979.3 1332.4,1979.2 1334.9,1979.1 1337.4,1978.9 1339.8,1978.7 1342.3,1978.5 1344.8,1978.3 1347.3,1977.9 1349.8,1977.6 1352.2,1977.1 1354.7,1976.7 1357.2,1976.2 1359.7,1975.7 1362.2,1975.2 1364.6,1974.7 1367.1,1974.3 1369.6,1973.8 1372.1,1973.5 1374.5,1973.2 1377.0,1972.9 1379.5,1972.8 1381.9,1972.6 1384.4,1972.5 1386.8,1972.4 1389.3,1972.2 1391.7,1972.0 1394.1,1971.7 1396.6,1971.4 1399.0,1971.2 1401.4,1971.3 1403.8,1971.5 1406.2,1972.1 1408.6,1972.7 1411.0,1973.4 1413.4,1973.9 1415.7,1974.1 1418.1,1973.9 1420.4,1973.3 1422.8,1972.3 1425.1,1971.2 1427.4,1970.0 1429.7,1968.7 1432.0,1967.5 1434.3,1966.4 1436.5,1965.4 1438.8,1964.5 1441.0,1963.8 1443.2,1963.3 1445.5,1963.0 1447.6,1962.8 1449.8,1962.7 1453.0,1962.6" fill="none" stroke="#00e6ee" stroke-width="7.5" stroke-linejoin="round"/>
<rect x="176" y="37.5" width="1281" height="8.1" fill="#000"/>
<rect x="176" y="2458.3" width="1281" height="8.5" fill="#000"/>
<rect x="1449.3" y="37.5" width="7.6" height="2429.3" fill="#000"/>
<rect x="176" y="37.5" width="5.2" height="2456.3" fill="#000"/>
<rect x="181.2" y="45.6" width="2.7" height="2448.2" fill="#555"/>
<rect x="181.2" y="2458.3" width="2.7" height="8.5" fill="#000"/>
<line x1="559.7" y1="2462" x2="559.7" y2="2494" stroke="#000" stroke-width="5.5"/>
<line x1="939.3" y1="2462" x2="939.3" y2="2494" stroke="#000" stroke-width="5.5"/>
<line x1="1319.0" y1="2462" x2="1319.0" y2="2494" stroke="#000" stroke-width="5.5"/>
<line x1="274.9" y1="2462" x2="274.9" y2="2477.5" stroke="#000" stroke-width="5.5"/>
<line x1="369.8" y1="2462" x2="369.8" y2="2477.5" stroke="#000" stroke-width="5.5"/>
<line x1="464.8" y1="2462" x2="464.8" y2="2477.5" stroke="#000" stroke-width="5.5"/>
<line x1="654.6" y1="2462" x2="654.6" y2="2477.5" stroke="#000" stroke-width="5.5"/>
<line x1="749.5" y1="2462" x2="749.5" y2="2477.5" stroke="#000" stroke-width="5.5"/>
<line x1="844.4" y1="2462" x2="844.4" y2="2477.5" stroke="#000" stroke-width="5.5"/>
<line x1="1034.3" y1="2462" x2="1034.3" y2="2477.5" stroke="#000" stroke-width="5.5"/>
<line x1="1129.2" y1="2462" x2="1129.2" y2="2477.5" stroke="#000" stroke-width="5.5"/>
<line x1="1224.1" y1="2462" x2="1224.1" y2="2477.5" stroke="#000" stroke-width="5.5"/>
<line x1="1413.9" y1="2462" x2="1413.9" y2="2477.5" stroke="#000" stroke-width="5.5"/>
<text x="89.18 134.34 179.50 224.66" y="2602.30" font-size="81.20">2&#160;00</text>
<path transform="translate(134.34,2602.30) scale(0.03965,-0.03965)" d="M763,0L583,0L583,1147Q518,1085 412,1023Q306,961 221,930L221,1104Q372,1175 485,1276Q598,1377 645,1472L763,1472Z"/>
<text x="468.85 514.01 559.17 604.33" y="2602.30" font-size="81.20">2000</text>
<text x="848.52 893.68 938.84 984.00" y="2602.30" font-size="81.20">&#160;900</text>
<path transform="translate(848.52,2602.30) scale(0.03965,-0.03965)" d="M763,0L583,0L583,1147Q518,1085 412,1023Q306,961 221,930L221,1104Q372,1175 485,1276Q598,1377 645,1472L763,1472Z"/>
<text x="1228.19 1273.35 1318.51 1363.67" y="2602.30" font-size="81.20">&#160;800</text>
<path transform="translate(1228.19,2602.30) scale(0.03965,-0.03965)" d="M763,0L583,0L583,1147Q518,1085 412,1023Q306,961 221,930L221,1104Q372,1175 485,1276Q598,1377 645,1472L763,1472Z"/>
<text x="1234.1" y="289.2" class="pl">f</text>
<path d="M1220.5,215.7Q1191.5,263.2 1220.5,310.7L1229.5,310.7Q1206.5,263.2 1229.5,215.7Z M1280.3,215.7Q1309.3,263.2 1280.3,310.7L1271.3,310.7Q1294.3,263.2 1271.3,215.7Z" fill="#000"/>
<text x="1230.2" y="689.2" class="pl">e</text>
<path d="M1216.6,615.7Q1187.6,663.2 1216.6,710.7L1225.6,710.7Q1202.6,663.2 1225.6,615.7Z M1299.9,615.7Q1328.9,663.2 1299.9,710.7L1290.9,710.7Q1313.9,663.2 1290.9,615.7Z" fill="#000"/>
<text x="1230.2" y="1070.8" class="pl">d</text>
<path d="M1216.6,997.3Q1187.6,1044.7 1216.6,1092.1L1225.6,1092.1Q1202.6,1044.7 1225.6,997.3Z M1305.2,997.3Q1334.2,1044.7 1305.2,1092.1L1296.2,1092.1Q1319.2,1044.7 1296.2,997.3Z" fill="#000"/>
<text x="1232.8" y="1448.0" class="pl">c</text>
<path d="M1219.2,1374.5Q1190.2,1421.7 1219.2,1468.9L1228.2,1468.9Q1205.2,1421.7 1228.2,1374.5Z M1301.9,1374.5Q1330.9,1421.7 1301.9,1468.9L1292.9,1468.9Q1315.9,1421.7 1292.9,1374.5Z" fill="#000"/>
<text x="1227.5" y="1848.1" class="pl">b</text>
<path d="M1213.9,1774.6Q1184.9,1821.7 1213.9,1868.7L1222.9,1868.7Q1199.9,1821.7 1222.9,1774.6Z M1302.6,1774.6Q1331.6,1821.7 1302.6,1868.7L1293.6,1868.7Q1316.6,1821.7 1293.6,1774.6Z" fill="#000"/>
<text x="1222.3" y="2245.9" class="pl">a</text>
<path d="M1208.7,2172.4Q1179.7,2219.6 1208.7,2266.8L1217.7,2266.8Q1194.7,2219.6 1217.7,2172.4Z M1291.4,2172.4Q1320.4,2219.6 1291.4,2266.8L1282.4,2266.8Q1305.4,2219.6 1282.4,2172.4Z" fill="#000"/>
<text x="311.20" y="2745.20" font-size="103.15">Wavenumbers</text><text x="1035.69" y="2745.20" font-size="103.15">cm</text><text x="1173.19" y="2693.20" font-size="68.00">&#8722;</text><path transform="translate(1212.90,2695.60) scale(0.03320,-0.03320)" d="M763,0L583,0L583,1147Q518,1085 412,1023Q306,961 221,930L221,1104Q372,1175 485,1276Q598,1377 645,1472L763,1472Z"/><path transform="translate(1007.3,2671.2)" d="M16.90,0.00Q-16.90,47.55 16.90,95.10L24.40,95.10Q-8.40,47.55 24.40,0.00Z"/><path transform="translate(1255.5,2671.2)" d="M7.00,0.00Q41.40,47.55 7.00,95.10L0.00,95.10Q31.80,47.55 0.00,0.00Z"/>
<g transform="translate(133.4,1774) rotate(-90)"><text x="0" y="0" font-size="102.50">Absorbance</text><text x="609.30" y="0" font-size="102.50">to scale</text></g><path transform="translate(58.9,1191.6) rotate(-90)" d="M15.50,0.00Q-15.50,47.30 15.50,94.60L22.50,94.60Q-5.90,47.30 22.50,0.00Z"/><path transform="translate(58.3,802.2) rotate(-90)" d="M7.00,0.00Q38.00,47.60 7.00,95.20L0.00,95.20Q28.40,47.60 0.00,0.00Z"/>
</svg>
</body></html>
